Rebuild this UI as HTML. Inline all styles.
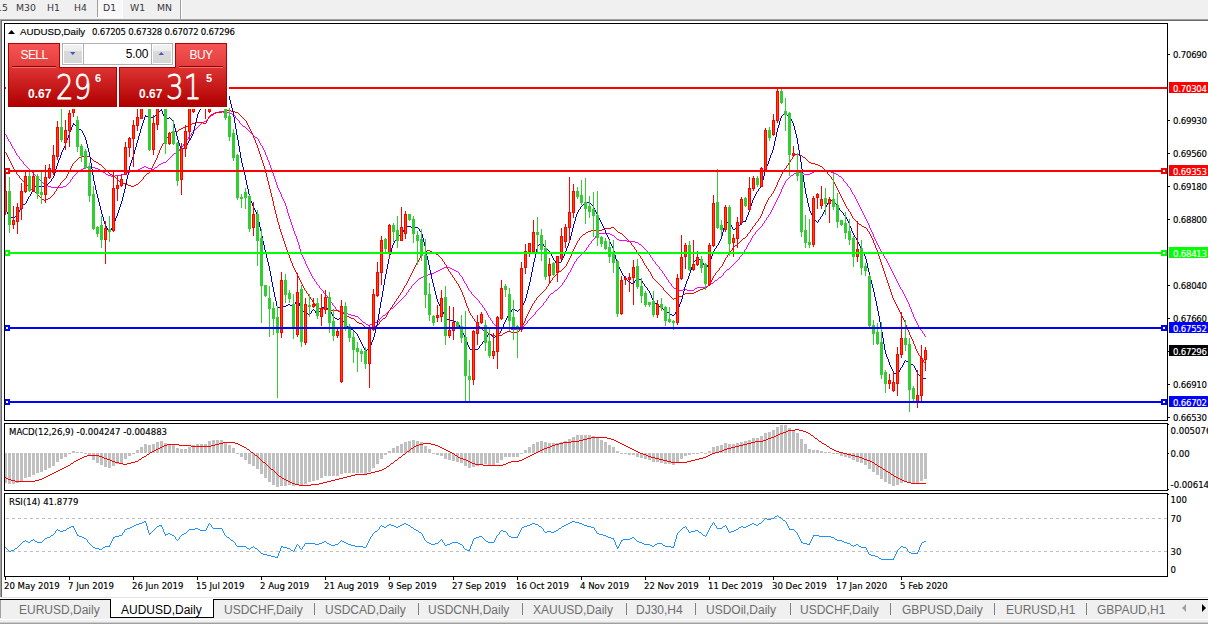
<!DOCTYPE html>
<html><head><meta charset="utf-8"><title>AUDUSD,Daily</title>
<style>
html,body{margin:0;padding:0;}
body{width:1208px;height:624px;overflow:hidden;position:relative;background:#f0f0f0;font-family:"DejaVu Sans Condensed","Liberation Sans",sans-serif;}
.abs{position:absolute;}
#tb span{position:absolute;top:2px;font-size:9.3px;line-height:12px;color:#383838;font-family:"DejaVu Sans","Liberation Sans",sans-serif;white-space:nowrap;}
svg text{font-family:"DejaVu Sans Condensed","Liberation Sans",sans-serif;font-size:9.5px;stroke:#000;stroke-width:0.15px;}
svg text.n{letter-spacing:-0.22px;}
svg text.lib{font-family:"Liberation Sans",sans-serif;font-size:9.7px;letter-spacing:0;}
#panel{position:absolute;left:0;top:0;}
.btn.big{font-family:"DejaVu Sans",sans-serif;font-weight:200;font-size:33px;line-height:34px;transform:scaleX(0.84);transform-origin:0 0;-webkit-text-stroke:0.8px #fff;}
.btn.sb{font-size:12px;line-height:14px;text-align:center;letter-spacing:-0.6px;}
.btn{position:absolute;color:#fff;font-family:"Liberation Sans",sans-serif;}
#tabs span{position:absolute;top:602px;font-size:12px;line-height:16px;color:#6e6e6e;font-family:"Liberation Sans",sans-serif;white-space:nowrap;}
</style></head>
<body>
<!-- toolbar -->
<div id="tb">
  <div class="abs" style="left:98px;top:0;width:24px;height:17px;background:#f8f8f8;"></div>
  <div class="abs" style="left:122px;top:0;width:1px;height:18px;background:#ffffff;"></div>
  <div class="abs" style="left:97px;top:17px;width:26px;height:1px;background:#ffffff;"></div>
  <div class="abs" style="left:97px;top:0;width:1px;height:17px;background:#a0a0a0;"></div>
  <div class="abs" style="left:180px;top:0;width:1px;height:19px;background:#a0a0a0;"></div>
  <div class="abs" style="left:181px;top:0;width:1px;height:19px;background:#ffffff;"></div>
  <span style="left:-12px">M15</span>
  <span style="left:16px">M30</span>
  <span style="left:47px">H1</span>
  <span style="left:74px">H4</span>
  <span style="left:103px">D1</span>
  <span style="left:130px">W1</span>
  <span style="left:157px">MN</span>
</div>
<!-- chart window -->
<div class="abs" style="left:0;top:19px;width:1208px;height:578px;background:#a0a0a0;"></div>
<div class="abs" style="left:1px;top:20px;width:1207px;height:577px;background:#696969;"></div>
<div class="abs" style="left:2px;top:21px;width:1206px;height:576px;background:#ffffff;"></div>
<div class="abs" style="left:0;top:597px;width:1208px;height:1px;background:#e3e3e3;"></div>
<div class="abs" style="left:0;top:598px;width:1208px;height:1px;background:#ffffff;"></div>

<svg class="abs" style="left:0;top:0" width="1208" height="624" viewBox="0 0 1208 624">
  <!-- main chart -->
  <g id="candles"><path d="M5 134h1v1h-1zM6 135h1v2h-1zM7 137h1v2h-1zM8 139h1v2h-1zM9 141h1v1h-1zM10 142h1v2h-1zM11 144h1v2h-1zM12 146h1v2h-1zM13 148h1v1h-1zM14 149h1v2h-1zM15 151h1v2h-1zM16 153h1v2h-1zM17 155h1v1h-1zM18 156h1v1h-1zM19 157h1v2h-1zM20 159h1v1h-1zM21 160h1v1h-1zM22 161h1v1h-1zM23 162h1v2h-1zM24 164h1v1h-1zM25 165h1v1h-1zM26 166h1v1h-1zM27 167h1v1h-1zM28 168h1v1h-1zM29 169h1v1h-1zM30 170h1v1h-1zM31 171h1v1h-1zM32 172h1v1h-1zM33 173h1v1h-1zM34 174h1v1h-1zM35 175h1v1h-1zM36 176h1v1h-1zM37 177h1v1h-1zM38 178h1v1h-1zM39 179h1v1h-1zM40 180h1v1h-1zM41 181h1v1h-1zM42 182h1v1h-1zM43 183h1v1h-1zM44 183h1v1h-1zM45 184h1v1h-1zM46 185h1v1h-1zM47 185h1v1h-1zM48 186h1v1h-1zM49 186h1v1h-1zM50 186h1v1h-1zM51 187h1v1h-1zM52 187h1v1h-1zM53 187h1v1h-1zM54 187h1v1h-1zM55 187h1v1h-1zM56 187h1v1h-1zM57 187h1v1h-1zM58 187h1v1h-1zM59 187h1v1h-1zM60 187h1v1h-1zM61 187h1v1h-1zM62 187h1v1h-1zM63 186h1v1h-1zM64 186h1v1h-1zM65 186h1v1h-1zM66 185h1v1h-1zM67 184h1v1h-1zM68 183h1v1h-1zM69 182h1v1h-1zM70 180h1v2h-1zM71 179h1v1h-1zM72 177h1v2h-1zM73 176h1v1h-1zM74 175h1v1h-1zM75 174h1v1h-1zM76 173h1v1h-1zM77 172h1v1h-1zM78 171h1v1h-1zM79 170h1v1h-1zM80 170h1v1h-1zM81 169h1v1h-1zM82 169h1v1h-1zM83 168h1v1h-1zM84 168h1v1h-1zM85 168h1v1h-1zM86 167h1v1h-1zM87 167h1v1h-1zM88 166h1v1h-1zM89 166h1v1h-1zM90 166h1v1h-1zM91 167h1v1h-1zM92 167h1v1h-1zM93 167h1v1h-1zM94 167h1v1h-1zM95 168h1v1h-1zM96 168h1v1h-1zM97 168h1v1h-1zM98 169h1v1h-1zM99 169h1v1h-1zM100 170h1v1h-1zM101 170h1v1h-1zM102 171h1v1h-1zM103 172h1v1h-1zM104 172h1v1h-1zM105 173h1v1h-1zM106 174h1v1h-1zM107 174h1v1h-1zM108 175h1v1h-1zM109 175h1v1h-1zM110 175h1v1h-1zM111 176h1v1h-1zM112 176h1v1h-1zM113 176h1v1h-1zM114 176h1v1h-1zM115 175h1v1h-1zM116 175h1v1h-1zM117 175h1v1h-1zM118 175h1v1h-1zM119 175h1v1h-1zM120 175h1v1h-1zM121 175h1v1h-1zM122 174h1v1h-1zM123 174h1v1h-1zM124 173h1v1h-1zM125 173h1v1h-1zM126 173h1v1h-1zM127 172h1v1h-1zM128 172h1v1h-1zM129 172h1v1h-1zM130 171h1v1h-1zM131 171h1v1h-1zM132 170h1v1h-1zM133 170h1v1h-1zM134 170h1v1h-1zM135 170h1v1h-1zM136 170h1v1h-1zM137 170h1v1h-1zM138 169h1v1h-1zM139 169h1v1h-1zM140 168h1v1h-1zM141 168h1v1h-1zM142 167h1v1h-1zM143 167h1v1h-1zM144 166h1v1h-1zM145 166h1v1h-1zM146 167h1v1h-1zM147 167h1v1h-1zM148 168h1v1h-1zM149 168h1v1h-1zM150 168h1v1h-1zM151 169h1v1h-1zM152 169h1v1h-1zM153 169h1v1h-1zM154 168h1v1h-1zM155 167h1v1h-1zM156 167h1v1h-1zM157 166h1v1h-1zM158 165h1v1h-1zM159 164h1v1h-1zM160 164h1v1h-1zM161 163h1v1h-1zM162 163h1v1h-1zM163 162h1v1h-1zM164 162h1v1h-1zM165 162h1v1h-1zM166 161h1v1h-1zM167 160h1v1h-1zM168 159h1v1h-1zM169 158h1v1h-1zM170 157h1v1h-1zM171 156h1v1h-1zM172 155h1v1h-1zM173 154h1v1h-1zM174 153h1v1h-1zM175 153h1v1h-1zM176 152h1v1h-1zM177 152h1v1h-1zM178 151h1v1h-1zM179 149h1v2h-1zM180 148h1v1h-1zM181 147h1v1h-1zM182 146h1v1h-1zM183 144h1v2h-1zM184 143h1v1h-1zM185 142h1v1h-1zM186 140h1v2h-1zM187 139h1v1h-1zM188 137h1v2h-1zM189 136h1v1h-1zM190 135h1v1h-1zM191 133h1v2h-1zM192 132h1v1h-1zM193 131h1v1h-1zM194 130h1v1h-1zM195 129h1v1h-1zM196 128h1v1h-1zM197 127h1v1h-1zM198 126h1v1h-1zM199 125h1v1h-1zM200 124h1v1h-1zM201 123h1v1h-1zM202 122h1v1h-1zM203 122h1v1h-1zM204 121h1v1h-1zM205 121h1v1h-1zM206 120h1v1h-1zM207 119h1v1h-1zM208 118h1v1h-1zM209 117h1v1h-1zM210 116h1v1h-1zM211 115h1v1h-1zM212 115h1v1h-1zM213 114h1v1h-1zM214 113h1v1h-1zM215 113h1v1h-1zM216 112h1v1h-1zM217 112h1v1h-1zM218 112h1v1h-1zM219 111h1v1h-1zM220 111h1v1h-1zM221 111h1v1h-1zM222 111h1v1h-1zM223 112h1v1h-1zM224 112h1v1h-1zM225 112h1v1h-1zM226 112h1v1h-1zM227 112h1v1h-1zM228 112h1v1h-1zM229 112h1v1h-1zM230 113h1v1h-1zM231 113h1v1h-1zM232 114h1v1h-1zM233 114h1v1h-1zM234 115h1v1h-1zM235 116h1v2h-1zM236 118h1v1h-1zM237 119h1v1h-1zM238 120h1v1h-1zM239 121h1v2h-1zM240 123h1v1h-1zM241 124h1v1h-1zM242 125h1v1h-1zM243 126h1v1h-1zM244 126h1v1h-1zM245 127h1v1h-1zM246 128h1v1h-1zM247 129h1v1h-1zM248 130h1v1h-1zM249 131h1v1h-1zM250 132h1v1h-1zM251 133h1v1h-1zM252 134h1v1h-1zM253 135h1v1h-1zM254 136h1v1h-1zM255 137h1v1h-1zM256 137h1v1h-1zM257 138h1v1h-1zM258 139h1v2h-1zM259 141h1v2h-1zM260 143h1v2h-1zM261 145h1v1h-1zM262 146h1v2h-1zM263 148h1v2h-1zM264 150h1v2h-1zM265 152h1v3h-1zM266 155h1v2h-1zM267 157h1v3h-1zM268 160h1v2h-1zM269 162h1v3h-1zM270 165h1v3h-1zM271 168h1v2h-1zM272 170h1v3h-1zM273 173h1v3h-1zM274 176h1v3h-1zM275 179h1v3h-1zM276 182h1v3h-1zM277 185h1v3h-1zM278 188h1v2h-1zM279 190h1v2h-1zM280 192h1v2h-1zM281 194h1v3h-1zM282 197h1v2h-1zM283 199h1v2h-1zM284 201h1v2h-1zM285 203h1v3h-1zM286 206h1v3h-1zM287 209h1v4h-1zM288 213h1v3h-1zM289 216h1v3h-1zM290 219h1v3h-1zM291 222h1v3h-1zM292 225h1v3h-1zM293 228h1v3h-1zM294 231h1v3h-1zM295 234h1v2h-1zM296 236h1v3h-1zM297 239h1v3h-1zM298 242h1v3h-1zM299 245h1v4h-1zM300 249h1v3h-1zM301 252h1v3h-1zM302 255h1v2h-1zM303 257h1v2h-1zM304 259h1v2h-1zM305 261h1v3h-1zM306 264h1v2h-1zM307 266h1v2h-1zM308 268h1v2h-1zM309 270h1v2h-1zM310 272h1v2h-1zM311 274h1v2h-1zM312 276h1v2h-1zM313 278h1v1h-1zM314 279h1v2h-1zM315 281h1v1h-1zM316 282h1v2h-1zM317 284h1v1h-1zM318 285h1v1h-1zM319 286h1v2h-1zM320 288h1v1h-1zM321 289h1v1h-1zM322 290h1v1h-1zM323 291h1v2h-1zM324 293h1v1h-1zM325 294h1v1h-1zM326 295h1v1h-1zM327 296h1v2h-1zM328 298h1v1h-1zM329 299h1v1h-1zM330 300h1v2h-1zM331 302h1v1h-1zM332 303h1v2h-1zM333 305h1v1h-1zM334 306h1v1h-1zM335 307h1v2h-1zM336 309h1v1h-1zM337 310h1v1h-1zM338 310h1v1h-1zM339 311h1v1h-1zM340 311h1v1h-1zM341 311h1v1h-1zM342 311h1v1h-1zM343 312h1v1h-1zM344 312h1v1h-1zM345 312h1v1h-1zM346 313h1v1h-1zM347 313h1v1h-1zM348 314h1v1h-1zM349 314h1v1h-1zM350 314h1v1h-1zM351 315h1v1h-1zM352 315h1v1h-1zM353 315h1v1h-1zM354 315h1v1h-1zM355 316h1v1h-1zM356 316h1v1h-1zM357 316h1v1h-1zM358 317h1v1h-1zM359 318h1v1h-1zM360 319h1v1h-1zM361 320h1v1h-1zM362 321h1v1h-1zM363 322h1v1h-1zM364 322h1v1h-1zM365 323h1v1h-1zM366 324h1v1h-1zM367 324h1v1h-1zM368 325h1v1h-1zM369 325h1v1h-1zM370 324h1v1h-1zM371 324h1v1h-1zM372 323h1v1h-1zM373 323h1v1h-1zM374 323h1v1h-1zM375 322h1v1h-1zM376 322h1v1h-1zM377 322h1v1h-1zM378 321h1v1h-1zM379 319h1v2h-1zM380 318h1v1h-1zM381 317h1v1h-1zM382 316h1v1h-1zM383 315h1v1h-1zM384 315h1v1h-1zM385 314h1v1h-1zM386 313h1v1h-1zM387 312h1v1h-1zM388 311h1v1h-1zM389 310h1v1h-1zM390 309h1v1h-1zM391 308h1v1h-1zM392 308h1v1h-1zM393 307h1v1h-1zM394 306h1v1h-1zM395 305h1v1h-1zM396 304h1v1h-1zM397 303h1v1h-1zM398 302h1v1h-1zM399 301h1v1h-1zM400 300h1v1h-1zM401 299h1v1h-1zM402 298h1v1h-1zM403 297h1v1h-1zM404 296h1v1h-1zM405 295h1v1h-1zM406 293h1v2h-1zM407 292h1v1h-1zM408 290h1v2h-1zM409 289h1v1h-1zM410 288h1v1h-1zM411 286h1v2h-1zM412 285h1v1h-1zM413 284h1v1h-1zM414 283h1v1h-1zM415 282h1v1h-1zM416 281h1v1h-1zM417 280h1v1h-1zM418 279h1v1h-1zM419 278h1v1h-1zM420 278h1v1h-1zM421 277h1v1h-1zM422 277h1v1h-1zM423 276h1v1h-1zM424 276h1v1h-1zM425 276h1v1h-1zM426 275h1v1h-1zM427 275h1v1h-1zM428 274h1v1h-1zM429 274h1v1h-1zM430 274h1v1h-1zM431 273h1v1h-1zM432 273h1v1h-1zM433 273h1v1h-1zM434 272h1v1h-1zM435 272h1v1h-1zM436 271h1v1h-1zM437 271h1v1h-1zM438 270h1v1h-1zM439 270h1v1h-1zM440 269h1v1h-1zM441 269h1v1h-1zM442 268h1v1h-1zM443 268h1v1h-1zM444 267h1v1h-1zM445 267h1v1h-1zM446 267h1v1h-1zM447 267h1v1h-1zM448 267h1v1h-1zM449 267h1v1h-1zM450 268h1v1h-1zM451 268h1v1h-1zM452 269h1v1h-1zM453 269h1v1h-1zM454 270h1v1h-1zM455 270h1v1h-1zM456 271h1v1h-1zM457 271h1v1h-1zM458 272h1v1h-1zM459 273h1v2h-1zM460 275h1v1h-1zM461 276h1v1h-1zM462 277h1v2h-1zM463 279h1v2h-1zM464 281h1v2h-1zM465 283h1v1h-1zM466 284h1v2h-1zM467 286h1v2h-1zM468 288h1v2h-1zM469 290h1v1h-1zM470 291h1v1h-1zM471 292h1v2h-1zM472 294h1v1h-1zM473 295h1v1h-1zM474 296h1v1h-1zM475 297h1v1h-1zM476 298h1v1h-1zM477 299h1v1h-1zM478 300h1v1h-1zM479 301h1v2h-1zM480 303h1v1h-1zM481 304h1v1h-1zM482 305h1v2h-1zM483 307h1v1h-1zM484 308h1v2h-1zM485 310h1v1h-1zM486 311h1v2h-1zM487 313h1v2h-1zM488 315h1v2h-1zM489 317h1v1h-1zM490 318h1v2h-1zM491 320h1v1h-1zM492 321h1v2h-1zM493 323h1v1h-1zM494 324h1v1h-1zM495 325h1v1h-1zM496 326h1v1h-1zM497 327h1v1h-1zM498 327h1v1h-1zM499 328h1v1h-1zM500 328h1v1h-1zM501 328h1v1h-1zM502 328h1v1h-1zM503 328h1v1h-1zM504 328h1v1h-1zM505 328h1v1h-1zM506 328h1v1h-1zM507 328h1v1h-1zM508 328h1v1h-1zM509 328h1v1h-1zM510 328h1v1h-1zM511 329h1v1h-1zM512 329h1v1h-1zM513 329h1v1h-1zM514 329h1v1h-1zM515 329h1v1h-1zM516 329h1v1h-1zM517 329h1v1h-1zM518 329h1v1h-1zM519 328h1v1h-1zM520 328h1v1h-1zM521 328h1v1h-1zM522 327h1v1h-1zM523 326h1v1h-1zM524 325h1v1h-1zM525 324h1v1h-1zM526 323h1v1h-1zM527 321h1v2h-1zM528 320h1v1h-1zM529 319h1v1h-1zM530 318h1v1h-1zM531 317h1v1h-1zM532 316h1v1h-1zM533 315h1v1h-1zM534 314h1v1h-1zM535 312h1v2h-1zM536 311h1v1h-1zM537 310h1v1h-1zM538 309h1v1h-1zM539 308h1v1h-1zM540 307h1v1h-1zM541 306h1v1h-1zM542 305h1v1h-1zM543 303h1v2h-1zM544 302h1v1h-1zM545 301h1v1h-1zM546 299h1v2h-1zM547 298h1v1h-1zM548 296h1v2h-1zM549 295h1v1h-1zM550 294h1v1h-1zM551 293h1v1h-1zM552 293h1v1h-1zM553 292h1v1h-1zM554 291h1v1h-1zM555 290h1v1h-1zM556 290h1v1h-1zM557 289h1v1h-1zM558 288h1v1h-1zM559 287h1v1h-1zM560 286h1v1h-1zM561 285h1v1h-1zM562 283h1v2h-1zM563 282h1v1h-1zM564 280h1v2h-1zM565 279h1v1h-1zM566 277h1v2h-1zM567 275h1v2h-1zM568 273h1v2h-1zM569 272h1v1h-1zM570 270h1v2h-1zM571 268h1v2h-1zM572 266h1v2h-1zM573 264h1v2h-1zM574 262h1v2h-1zM575 261h1v1h-1zM576 259h1v2h-1zM577 258h1v1h-1zM578 257h1v1h-1zM579 256h1v1h-1zM580 255h1v1h-1zM581 254h1v1h-1zM582 253h1v1h-1zM583 252h1v1h-1zM584 251h1v1h-1zM585 250h1v1h-1zM586 248h1v2h-1zM587 247h1v1h-1zM588 245h1v2h-1zM589 244h1v1h-1zM590 243h1v1h-1zM591 241h1v2h-1zM592 240h1v1h-1zM593 239h1v1h-1zM594 238h1v1h-1zM595 236h1v2h-1zM596 235h1v1h-1zM597 234h1v1h-1zM598 234h1v1h-1zM599 233h1v1h-1zM600 233h1v1h-1zM601 233h1v1h-1zM602 233h1v1h-1zM603 233h1v1h-1zM604 233h1v1h-1zM605 233h1v1h-1zM606 233h1v1h-1zM607 233h1v1h-1zM608 233h1v1h-1zM609 233h1v1h-1zM610 234h1v1h-1zM611 234h1v1h-1zM612 235h1v1h-1zM613 235h1v1h-1zM614 236h1v1h-1zM615 237h1v1h-1zM616 238h1v1h-1zM617 239h1v1h-1zM618 239h1v1h-1zM619 240h1v1h-1zM620 240h1v1h-1zM621 240h1v1h-1zM622 240h1v1h-1zM623 240h1v1h-1zM624 240h1v1h-1zM625 240h1v1h-1zM626 240h1v1h-1zM627 241h1v1h-1zM628 241h1v1h-1zM629 241h1v1h-1zM630 241h1v1h-1zM631 241h1v1h-1zM632 241h1v1h-1zM633 241h1v1h-1zM634 241h1v1h-1zM635 242h1v1h-1zM636 242h1v1h-1zM637 242h1v1h-1zM638 243h1v1h-1zM639 244h1v1h-1zM640 244h1v1h-1zM641 245h1v1h-1zM642 246h1v1h-1zM643 247h1v1h-1zM644 248h1v1h-1zM645 249h1v1h-1zM646 250h1v1h-1zM647 251h1v2h-1zM648 253h1v1h-1zM649 254h1v1h-1zM650 255h1v2h-1zM651 257h1v1h-1zM652 258h1v2h-1zM653 260h1v1h-1zM654 261h1v1h-1zM655 262h1v2h-1zM656 264h1v1h-1zM657 265h1v1h-1zM658 266h1v1h-1zM659 267h1v2h-1zM660 269h1v1h-1zM661 270h1v1h-1zM662 271h1v2h-1zM663 273h1v1h-1zM664 274h1v2h-1zM665 276h1v1h-1zM666 277h1v2h-1zM667 279h1v1h-1zM668 280h1v2h-1zM669 282h1v1h-1zM670 283h1v1h-1zM671 284h1v2h-1zM672 286h1v1h-1zM673 287h1v1h-1zM674 288h1v1h-1zM675 288h1v1h-1zM676 289h1v1h-1zM677 289h1v1h-1zM678 289h1v1h-1zM679 290h1v1h-1zM680 290h1v1h-1zM681 290h1v1h-1zM682 290h1v1h-1zM683 289h1v1h-1zM684 289h1v1h-1zM685 289h1v1h-1zM686 289h1v1h-1zM687 290h1v1h-1zM688 290h1v1h-1zM689 290h1v1h-1zM690 290h1v1h-1zM691 290h1v1h-1zM692 290h1v1h-1zM693 290h1v1h-1zM694 289h1v1h-1zM695 288h1v1h-1zM696 288h1v1h-1zM697 287h1v1h-1zM698 287h1v1h-1zM699 287h1v1h-1zM700 287h1v1h-1zM701 287h1v1h-1zM702 287h1v1h-1zM703 287h1v1h-1zM704 287h1v1h-1zM705 287h1v1h-1zM706 286h1v1h-1zM707 286h1v1h-1zM708 285h1v1h-1zM709 285h1v1h-1zM710 284h1v1h-1zM711 283h1v1h-1zM712 283h1v1h-1zM713 282h1v1h-1zM714 281h1v1h-1zM715 280h1v1h-1zM716 280h1v1h-1zM717 279h1v1h-1zM718 278h1v1h-1zM719 277h1v1h-1zM720 277h1v1h-1zM721 276h1v1h-1zM722 275h1v1h-1zM723 273h1v2h-1zM724 272h1v1h-1zM725 271h1v1h-1zM726 270h1v1h-1zM727 269h1v1h-1zM728 269h1v1h-1zM729 268h1v1h-1zM730 267h1v1h-1zM731 266h1v1h-1zM732 265h1v1h-1zM733 264h1v1h-1zM734 263h1v1h-1zM735 262h1v1h-1zM736 261h1v1h-1zM737 260h1v1h-1zM738 259h1v1h-1zM739 257h1v2h-1zM740 256h1v1h-1zM741 255h1v1h-1zM742 253h1v2h-1zM743 252h1v1h-1zM744 250h1v2h-1zM745 249h1v1h-1zM746 247h1v2h-1zM747 245h1v2h-1zM748 243h1v2h-1zM749 242h1v1h-1zM750 240h1v2h-1zM751 238h1v2h-1zM752 236h1v2h-1zM753 235h1v1h-1zM754 234h1v1h-1zM755 232h1v2h-1zM756 231h1v1h-1zM757 230h1v1h-1zM758 229h1v1h-1zM759 228h1v1h-1zM760 227h1v1h-1zM761 226h1v1h-1zM762 224h1v2h-1zM763 223h1v1h-1zM764 221h1v2h-1zM765 220h1v1h-1zM766 218h1v2h-1zM767 217h1v1h-1zM768 215h1v2h-1zM769 214h1v1h-1zM770 212h1v2h-1zM771 210h1v2h-1zM772 208h1v2h-1zM773 206h1v2h-1zM774 204h1v2h-1zM775 202h1v2h-1zM776 200h1v2h-1zM777 198h1v2h-1zM778 196h1v2h-1zM779 194h1v2h-1zM780 192h1v2h-1zM781 189h1v3h-1zM782 187h1v2h-1zM783 185h1v2h-1zM784 183h1v2h-1zM785 181h1v2h-1zM786 180h1v1h-1zM787 179h1v1h-1zM788 178h1v1h-1zM789 177h1v1h-1zM790 176h1v1h-1zM791 175h1v1h-1zM792 175h1v1h-1zM793 174h1v1h-1zM794 173h1v1h-1zM795 173h1v1h-1zM796 172h1v1h-1zM797 172h1v1h-1zM798 172h1v1h-1zM799 172h1v1h-1zM800 172h1v1h-1zM801 172h1v1h-1zM802 173h1v1h-1zM803 173h1v1h-1zM804 174h1v1h-1zM805 174h1v1h-1zM806 174h1v1h-1zM807 174h1v1h-1zM808 174h1v1h-1zM809 174h1v1h-1zM810 173h1v1h-1zM811 173h1v1h-1zM812 172h1v1h-1zM813 172h1v1h-1zM814 171h1v1h-1zM815 171h1v1h-1zM816 170h1v1h-1zM817 170h1v1h-1zM818 170h1v1h-1zM819 170h1v1h-1zM820 170h1v1h-1zM821 170h1v1h-1zM822 170h1v1h-1zM823 170h1v1h-1zM824 170h1v1h-1zM825 170h1v1h-1zM826 170h1v1h-1zM827 171h1v1h-1zM828 171h1v1h-1zM829 171h1v1h-1zM830 171h1v1h-1zM831 172h1v1h-1zM832 172h1v1h-1zM833 172h1v1h-1zM834 173h1v1h-1zM835 173h1v1h-1zM836 174h1v1h-1zM837 174h1v1h-1zM838 175h1v1h-1zM839 176h1v1h-1zM840 176h1v1h-1zM841 177h1v1h-1zM842 178h1v1h-1zM843 179h1v2h-1zM844 181h1v1h-1zM845 182h1v1h-1zM846 183h1v1h-1zM847 184h1v2h-1zM848 186h1v1h-1zM849 187h1v1h-1zM850 188h1v2h-1zM851 190h1v2h-1zM852 192h1v2h-1zM853 194h1v1h-1zM854 195h1v2h-1zM855 197h1v2h-1zM856 199h1v2h-1zM857 201h1v2h-1zM858 203h1v2h-1zM859 205h1v2h-1zM860 207h1v2h-1zM861 209h1v2h-1zM862 211h1v2h-1zM863 213h1v2h-1zM864 215h1v2h-1zM865 217h1v2h-1zM866 219h1v2h-1zM867 221h1v2h-1zM868 223h1v2h-1zM869 225h1v3h-1zM870 228h1v2h-1zM871 230h1v2h-1zM872 232h1v2h-1zM873 234h1v3h-1zM874 237h1v2h-1zM875 239h1v2h-1zM876 241h1v2h-1zM877 243h1v2h-1zM878 245h1v2h-1zM879 247h1v2h-1zM880 249h1v2h-1zM881 251h1v1h-1zM882 252h1v2h-1zM883 254h1v2h-1zM884 256h1v2h-1zM885 258h1v1h-1zM886 259h1v2h-1zM887 261h1v2h-1zM888 263h1v2h-1zM889 265h1v2h-1zM890 267h1v2h-1zM891 269h1v2h-1zM892 271h1v2h-1zM893 273h1v2h-1zM894 275h1v2h-1zM895 277h1v2h-1zM896 279h1v2h-1zM897 281h1v2h-1zM898 283h1v2h-1zM899 285h1v2h-1zM900 287h1v2h-1zM901 289h1v1h-1zM902 290h1v2h-1zM903 292h1v2h-1zM904 294h1v2h-1zM905 296h1v2h-1zM906 298h1v2h-1zM907 300h1v2h-1zM908 302h1v2h-1zM909 304h1v3h-1zM910 307h1v2h-1zM911 309h1v3h-1zM912 312h1v2h-1zM913 314h1v3h-1zM914 317h1v2h-1zM915 319h1v2h-1zM916 321h1v2h-1zM917 323h1v2h-1zM918 325h1v2h-1zM919 327h1v1h-1zM920 328h1v2h-1zM921 330h1v1h-1zM922 331h1v2h-1zM923 333h1v1h-1zM924 334h1v2h-1zM925 336h1v1h-1z" fill="#ff00ff"/>
<path d="M5 152h1v1h-1zM6 153h1v2h-1zM7 155h1v2h-1zM8 157h1v2h-1zM9 159h1v2h-1zM10 161h1v2h-1zM11 163h1v2h-1zM12 165h1v2h-1zM13 167h1v2h-1zM14 169h1v2h-1zM15 171h1v1h-1zM16 172h1v2h-1zM17 174h1v1h-1zM18 175h1v1h-1zM19 176h1v2h-1zM20 178h1v1h-1zM21 179h1v1h-1zM22 180h1v1h-1zM23 181h1v1h-1zM24 182h1v1h-1zM25 183h1v1h-1zM26 184h1v1h-1zM27 185h1v1h-1zM28 186h1v1h-1zM29 187h1v1h-1zM30 188h1v1h-1zM31 189h1v1h-1zM32 189h1v1h-1zM33 190h1v1h-1zM34 191h1v1h-1zM35 192h1v1h-1zM36 193h1v1h-1zM37 194h1v1h-1zM38 195h1v1h-1zM39 196h1v1h-1zM40 197h1v1h-1zM41 198h1v1h-1zM42 199h1v1h-1zM43 199h1v1h-1zM44 200h1v1h-1zM45 200h1v1h-1zM46 199h1v1h-1zM47 199h1v1h-1zM48 198h1v1h-1zM49 198h1v1h-1zM50 197h1v1h-1zM51 196h1v1h-1zM52 195h1v1h-1zM53 194h1v1h-1zM54 192h1v2h-1zM55 191h1v1h-1zM56 189h1v2h-1zM57 188h1v1h-1zM58 186h1v2h-1zM59 185h1v1h-1zM60 183h1v2h-1zM61 182h1v1h-1zM62 181h1v1h-1zM63 180h1v1h-1zM64 179h1v1h-1zM65 178h1v1h-1zM66 176h1v2h-1zM67 174h1v2h-1zM68 172h1v2h-1zM69 170h1v2h-1zM70 168h1v2h-1zM71 166h1v2h-1zM72 164h1v2h-1zM73 163h1v1h-1zM74 162h1v1h-1zM75 161h1v1h-1zM76 160h1v1h-1zM77 159h1v1h-1zM78 158h1v1h-1zM79 157h1v1h-1zM80 157h1v1h-1zM81 156h1v1h-1zM82 156h1v1h-1zM83 156h1v1h-1zM84 156h1v1h-1zM85 156h1v1h-1zM86 156h1v1h-1zM87 156h1v1h-1zM88 156h1v1h-1zM89 156h1v1h-1zM90 157h1v1h-1zM91 158h1v1h-1zM92 159h1v1h-1zM93 160h1v1h-1zM94 161h1v1h-1zM95 161h1v1h-1zM96 162h1v1h-1zM97 162h1v1h-1zM98 163h1v1h-1zM99 164h1v1h-1zM100 164h1v1h-1zM101 165h1v1h-1zM102 166h1v1h-1zM103 167h1v1h-1zM104 168h1v1h-1zM105 169h1v1h-1zM106 170h1v1h-1zM107 171h1v1h-1zM108 172h1v1h-1zM109 173h1v1h-1zM110 174h1v1h-1zM111 174h1v1h-1zM112 175h1v1h-1zM113 175h1v1h-1zM114 176h1v1h-1zM115 177h1v1h-1zM116 178h1v1h-1zM117 179h1v1h-1zM118 180h1v1h-1zM119 181h1v1h-1zM120 181h1v1h-1zM121 182h1v1h-1zM122 182h1v1h-1zM123 183h1v1h-1zM124 183h1v1h-1zM125 183h1v1h-1zM126 184h1v1h-1zM127 184h1v1h-1zM128 185h1v1h-1zM129 185h1v1h-1zM130 185h1v1h-1zM131 186h1v1h-1zM132 186h1v1h-1zM133 186h1v1h-1zM134 185h1v1h-1zM135 185h1v1h-1zM136 184h1v1h-1zM137 184h1v1h-1zM138 183h1v1h-1zM139 182h1v1h-1zM140 181h1v1h-1zM141 180h1v1h-1zM142 179h1v1h-1zM143 177h1v2h-1zM144 176h1v1h-1zM145 175h1v1h-1zM146 174h1v1h-1zM147 173h1v1h-1zM148 173h1v1h-1zM149 172h1v1h-1zM150 170h1v2h-1zM151 168h1v2h-1zM152 166h1v2h-1zM153 164h1v2h-1zM154 162h1v2h-1zM155 160h1v2h-1zM156 158h1v2h-1zM157 155h1v3h-1zM158 153h1v2h-1zM159 150h1v3h-1zM160 148h1v2h-1zM161 146h1v2h-1zM162 144h1v2h-1zM163 143h1v1h-1zM164 141h1v2h-1zM165 140h1v1h-1zM166 138h1v2h-1zM167 137h1v1h-1zM168 135h1v2h-1zM169 134h1v1h-1zM170 133h1v1h-1zM171 132h1v1h-1zM172 132h1v1h-1zM173 131h1v1h-1zM174 131h1v1h-1zM175 131h1v1h-1zM176 131h1v1h-1zM177 131h1v1h-1zM178 130h1v1h-1zM179 129h1v1h-1zM180 129h1v1h-1zM181 128h1v1h-1zM182 128h1v1h-1zM183 127h1v1h-1zM184 127h1v1h-1zM185 127h1v1h-1zM186 126h1v1h-1zM187 126h1v1h-1zM188 125h1v1h-1zM189 125h1v1h-1zM190 124h1v1h-1zM191 124h1v1h-1zM192 123h1v1h-1zM193 123h1v1h-1zM194 123h1v1h-1zM195 122h1v1h-1zM196 122h1v1h-1zM197 122h1v1h-1zM198 122h1v1h-1zM199 122h1v1h-1zM200 122h1v1h-1zM201 122h1v1h-1zM202 122h1v1h-1zM203 123h1v1h-1zM204 123h1v1h-1zM205 123h1v1h-1zM206 121h1v2h-1zM207 119h1v2h-1zM208 117h1v2h-1zM209 116h1v1h-1zM210 115h1v1h-1zM211 114h1v1h-1zM212 114h1v1h-1zM213 113h1v1h-1zM214 113h1v1h-1zM215 112h1v1h-1zM216 112h1v1h-1zM217 112h1v1h-1zM218 112h1v1h-1zM219 112h1v1h-1zM220 112h1v1h-1zM221 112h1v1h-1zM222 111h1v1h-1zM223 111h1v1h-1zM224 110h1v1h-1zM225 110h1v1h-1zM226 110h1v1h-1zM227 110h1v1h-1zM228 110h1v1h-1zM229 110h1v1h-1zM230 110h1v1h-1zM231 111h1v1h-1zM232 111h1v1h-1zM233 111h1v1h-1zM234 111h1v1h-1zM235 112h1v1h-1zM236 112h1v1h-1zM237 112h1v1h-1zM238 113h1v1h-1zM239 114h1v1h-1zM240 115h1v1h-1zM241 116h1v1h-1zM242 117h1v1h-1zM243 118h1v1h-1zM244 119h1v1h-1zM245 120h1v1h-1zM246 121h1v2h-1zM247 123h1v2h-1zM248 125h1v2h-1zM249 127h1v2h-1zM250 129h1v2h-1zM251 131h1v2h-1zM252 133h1v2h-1zM253 135h1v3h-1zM254 138h1v2h-1zM255 140h1v3h-1zM256 143h1v2h-1zM257 145h1v3h-1zM258 148h1v3h-1zM259 151h1v3h-1zM260 154h1v3h-1zM261 157h1v3h-1zM262 160h1v3h-1zM263 163h1v3h-1zM264 166h1v3h-1zM265 169h1v4h-1zM266 173h1v4h-1zM267 177h1v4h-1zM268 181h1v4h-1zM269 185h1v4h-1zM270 189h1v4h-1zM271 193h1v4h-1zM272 197h1v4h-1zM273 201h1v5h-1zM274 206h1v4h-1zM275 210h1v4h-1zM276 214h1v4h-1zM277 218h1v4h-1zM278 222h1v3h-1zM279 225h1v4h-1zM280 229h1v3h-1zM281 232h1v3h-1zM282 235h1v3h-1zM283 238h1v3h-1zM284 241h1v3h-1zM285 244h1v3h-1zM286 247h1v3h-1zM287 250h1v2h-1zM288 252h1v3h-1zM289 255h1v3h-1zM290 258h1v3h-1zM291 261h1v2h-1zM292 263h1v3h-1zM293 266h1v2h-1zM294 268h1v2h-1zM295 270h1v2h-1zM296 272h1v2h-1zM297 274h1v2h-1zM298 276h1v2h-1zM299 278h1v2h-1zM300 280h1v2h-1zM301 282h1v2h-1zM302 284h1v2h-1zM303 286h1v2h-1zM304 288h1v2h-1zM305 290h1v1h-1zM306 291h1v2h-1zM307 293h1v1h-1zM308 294h1v2h-1zM309 296h1v1h-1zM310 297h1v2h-1zM311 299h1v1h-1zM312 300h1v2h-1zM313 302h1v1h-1zM314 303h1v1h-1zM315 304h1v2h-1zM316 306h1v1h-1zM317 307h1v1h-1zM318 307h1v1h-1zM319 308h1v1h-1zM320 308h1v1h-1zM321 308h1v1h-1zM322 308h1v1h-1zM323 308h1v1h-1zM324 308h1v1h-1zM325 308h1v1h-1zM326 308h1v1h-1zM327 309h1v1h-1zM328 309h1v1h-1zM329 309h1v1h-1zM330 309h1v1h-1zM331 310h1v1h-1zM332 310h1v1h-1zM333 310h1v1h-1zM334 310h1v1h-1zM335 310h1v1h-1zM336 310h1v1h-1zM337 310h1v1h-1zM338 311h1v1h-1zM339 311h1v1h-1zM340 312h1v1h-1zM341 312h1v1h-1zM342 313h1v1h-1zM343 313h1v1h-1zM344 314h1v1h-1zM345 314h1v1h-1zM346 315h1v1h-1zM347 316h1v1h-1zM348 316h1v1h-1zM349 317h1v1h-1zM350 317h1v1h-1zM351 318h1v1h-1zM352 318h1v1h-1zM353 318h1v1h-1zM354 319h1v1h-1zM355 320h1v1h-1zM356 321h1v1h-1zM357 322h1v1h-1zM358 322h1v1h-1zM359 323h1v1h-1zM360 323h1v1h-1zM361 323h1v1h-1zM362 324h1v1h-1zM363 325h1v1h-1zM364 326h1v1h-1zM365 327h1v1h-1zM366 327h1v1h-1zM367 328h1v1h-1zM368 328h1v1h-1zM369 328h1v1h-1zM370 328h1v1h-1zM371 328h1v1h-1zM372 328h1v1h-1zM373 328h1v1h-1zM374 327h1v1h-1zM375 326h1v1h-1zM376 326h1v1h-1zM377 325h1v1h-1zM378 324h1v1h-1zM379 322h1v2h-1zM380 321h1v1h-1zM381 320h1v1h-1zM382 319h1v1h-1zM383 318h1v1h-1zM384 318h1v1h-1zM385 317h1v1h-1zM386 315h1v2h-1zM387 313h1v2h-1zM388 311h1v2h-1zM389 310h1v1h-1zM390 308h1v2h-1zM391 307h1v1h-1zM392 305h1v2h-1zM393 304h1v1h-1zM394 302h1v2h-1zM395 301h1v1h-1zM396 299h1v2h-1zM397 298h1v1h-1zM398 296h1v2h-1zM399 295h1v1h-1zM400 293h1v2h-1zM401 292h1v1h-1zM402 290h1v2h-1zM403 288h1v2h-1zM404 286h1v2h-1zM405 285h1v1h-1zM406 283h1v2h-1zM407 281h1v2h-1zM408 279h1v2h-1zM409 277h1v2h-1zM410 275h1v2h-1zM411 273h1v2h-1zM412 271h1v2h-1zM413 269h1v2h-1zM414 267h1v2h-1zM415 265h1v2h-1zM416 263h1v2h-1zM417 262h1v1h-1zM418 260h1v2h-1zM419 258h1v2h-1zM420 256h1v2h-1zM421 255h1v1h-1zM422 254h1v1h-1zM423 253h1v1h-1zM424 252h1v1h-1zM425 251h1v1h-1zM426 251h1v1h-1zM427 250h1v1h-1zM428 250h1v1h-1zM429 250h1v1h-1zM430 251h1v1h-1zM431 251h1v1h-1zM432 252h1v1h-1zM433 252h1v1h-1zM434 253h1v1h-1zM435 253h1v1h-1zM436 254h1v1h-1zM437 254h1v1h-1zM438 255h1v1h-1zM439 256h1v1h-1zM440 257h1v1h-1zM441 258h1v1h-1zM442 259h1v2h-1zM443 261h1v1h-1zM444 262h1v2h-1zM445 264h1v1h-1zM446 265h1v2h-1zM447 267h1v2h-1zM448 269h1v2h-1zM449 271h1v1h-1zM450 272h1v2h-1zM451 274h1v1h-1zM452 275h1v2h-1zM453 277h1v1h-1zM454 278h1v2h-1zM455 280h1v1h-1zM456 281h1v2h-1zM457 283h1v1h-1zM458 284h1v2h-1zM459 286h1v2h-1zM460 288h1v2h-1zM461 290h1v2h-1zM462 292h1v3h-1zM463 295h1v2h-1zM464 297h1v3h-1zM465 300h1v3h-1zM466 303h1v3h-1zM467 306h1v2h-1zM468 308h1v3h-1zM469 311h1v2h-1zM470 313h1v2h-1zM471 315h1v1h-1zM472 316h1v2h-1zM473 318h1v1h-1zM474 319h1v2h-1zM475 321h1v1h-1zM476 322h1v2h-1zM477 324h1v1h-1zM478 325h1v1h-1zM479 326h1v1h-1zM480 327h1v1h-1zM481 328h1v1h-1zM482 329h1v1h-1zM483 330h1v1h-1zM484 330h1v1h-1zM485 331h1v1h-1zM486 332h1v1h-1zM487 332h1v1h-1zM488 333h1v1h-1zM489 333h1v1h-1zM490 334h1v1h-1zM491 334h1v1h-1zM492 335h1v1h-1zM493 335h1v1h-1zM494 335h1v1h-1zM495 336h1v1h-1zM496 336h1v1h-1zM497 336h1v1h-1zM498 336h1v1h-1zM499 335h1v1h-1zM500 335h1v1h-1zM501 335h1v1h-1zM502 334h1v1h-1zM503 333h1v1h-1zM504 333h1v1h-1zM505 332h1v1h-1zM506 332h1v1h-1zM507 331h1v1h-1zM508 331h1v1h-1zM509 331h1v1h-1zM510 331h1v1h-1zM511 332h1v1h-1zM512 332h1v1h-1zM513 332h1v1h-1zM514 332h1v1h-1zM515 332h1v1h-1zM516 332h1v1h-1zM517 332h1v1h-1zM518 331h1v1h-1zM519 329h1v2h-1zM520 328h1v1h-1zM521 327h1v1h-1zM522 325h1v2h-1zM523 323h1v2h-1zM524 321h1v2h-1zM525 318h1v3h-1zM526 316h1v2h-1zM527 314h1v2h-1zM528 312h1v2h-1zM529 310h1v2h-1zM530 308h1v2h-1zM531 306h1v2h-1zM532 304h1v2h-1zM533 303h1v1h-1zM534 301h1v2h-1zM535 300h1v1h-1zM536 298h1v2h-1zM537 297h1v1h-1zM538 296h1v1h-1zM539 295h1v1h-1zM540 294h1v1h-1zM541 293h1v1h-1zM542 292h1v1h-1zM543 291h1v1h-1zM544 290h1v1h-1zM545 289h1v1h-1zM546 287h1v2h-1zM547 286h1v1h-1zM548 284h1v2h-1zM549 283h1v1h-1zM550 281h1v2h-1zM551 280h1v1h-1zM552 278h1v2h-1zM553 277h1v1h-1zM554 276h1v1h-1zM555 275h1v1h-1zM556 274h1v1h-1zM557 273h1v1h-1zM558 272h1v1h-1zM559 271h1v1h-1zM560 271h1v1h-1zM561 270h1v1h-1zM562 269h1v1h-1zM563 268h1v1h-1zM564 267h1v1h-1zM565 266h1v1h-1zM566 264h1v2h-1zM567 262h1v2h-1zM568 260h1v2h-1zM569 258h1v2h-1zM570 256h1v2h-1zM571 253h1v3h-1zM572 251h1v2h-1zM573 249h1v2h-1zM574 247h1v2h-1zM575 245h1v2h-1zM576 243h1v2h-1zM577 241h1v2h-1zM578 240h1v1h-1zM579 238h1v2h-1zM580 237h1v1h-1zM581 236h1v1h-1zM582 235h1v1h-1zM583 234h1v1h-1zM584 234h1v1h-1zM585 233h1v1h-1zM586 232h1v1h-1zM587 232h1v1h-1zM588 231h1v1h-1zM589 231h1v1h-1zM590 231h1v1h-1zM591 230h1v1h-1zM592 230h1v1h-1zM593 230h1v1h-1zM594 230h1v1h-1zM595 230h1v1h-1zM596 230h1v1h-1zM597 230h1v1h-1zM598 230h1v1h-1zM599 230h1v1h-1zM600 230h1v1h-1zM601 230h1v1h-1zM602 229h1v1h-1zM603 229h1v1h-1zM604 228h1v1h-1zM605 228h1v1h-1zM606 228h1v1h-1zM607 228h1v1h-1zM608 228h1v1h-1zM609 228h1v1h-1zM610 228h1v1h-1zM611 227h1v1h-1zM612 227h1v1h-1zM613 227h1v1h-1zM614 228h1v1h-1zM615 229h1v1h-1zM616 230h1v1h-1zM617 231h1v1h-1zM618 232h1v1h-1zM619 232h1v1h-1zM620 233h1v1h-1zM621 233h1v1h-1zM622 234h1v1h-1zM623 235h1v1h-1zM624 236h1v1h-1zM625 237h1v1h-1zM626 238h1v1h-1zM627 239h1v1h-1zM628 240h1v1h-1zM629 241h1v1h-1zM630 242h1v1h-1zM631 243h1v2h-1zM632 245h1v1h-1zM633 246h1v1h-1zM634 247h1v2h-1zM635 249h1v1h-1zM636 250h1v2h-1zM637 252h1v1h-1zM638 253h1v2h-1zM639 255h1v1h-1zM640 256h1v2h-1zM641 258h1v1h-1zM642 259h1v2h-1zM643 261h1v2h-1zM644 263h1v2h-1zM645 265h1v1h-1zM646 266h1v2h-1zM647 268h1v1h-1zM648 269h1v2h-1zM649 271h1v1h-1zM650 272h1v2h-1zM651 274h1v2h-1zM652 276h1v2h-1zM653 278h1v1h-1zM654 279h1v1h-1zM655 280h1v1h-1zM656 281h1v1h-1zM657 282h1v1h-1zM658 283h1v1h-1zM659 284h1v1h-1zM660 285h1v1h-1zM661 286h1v1h-1zM662 287h1v1h-1zM663 288h1v2h-1zM664 290h1v1h-1zM665 291h1v1h-1zM666 292h1v1h-1zM667 293h1v1h-1zM668 294h1v1h-1zM669 295h1v1h-1zM670 296h1v1h-1zM671 297h1v1h-1zM672 298h1v1h-1zM673 299h1v1h-1zM674 298h1v1h-1zM675 298h1v1h-1zM676 297h1v1h-1zM677 297h1v1h-1zM678 297h1v1h-1zM679 296h1v1h-1zM680 296h1v1h-1zM681 296h1v1h-1zM682 295h1v1h-1zM683 294h1v1h-1zM684 294h1v1h-1zM685 293h1v1h-1zM686 293h1v1h-1zM687 293h1v1h-1zM688 293h1v1h-1zM689 293h1v1h-1zM690 293h1v1h-1zM691 293h1v1h-1zM692 293h1v1h-1zM693 293h1v1h-1zM694 292h1v1h-1zM695 292h1v1h-1zM696 291h1v1h-1zM697 291h1v1h-1zM698 290h1v1h-1zM699 290h1v1h-1zM700 289h1v1h-1zM701 289h1v1h-1zM702 289h1v1h-1zM703 288h1v1h-1zM704 288h1v1h-1zM705 288h1v1h-1zM706 287h1v1h-1zM707 286h1v1h-1zM708 285h1v1h-1zM709 284h1v1h-1zM710 282h1v2h-1zM711 280h1v2h-1zM712 278h1v2h-1zM713 276h1v2h-1zM714 275h1v1h-1zM715 273h1v2h-1zM716 272h1v1h-1zM717 271h1v1h-1zM718 270h1v1h-1zM719 268h1v2h-1zM720 267h1v1h-1zM721 266h1v1h-1zM722 264h1v2h-1zM723 262h1v2h-1zM724 260h1v2h-1zM725 258h1v2h-1zM726 257h1v1h-1zM727 255h1v2h-1zM728 254h1v1h-1zM729 253h1v1h-1zM730 251h1v2h-1zM731 250h1v1h-1zM732 248h1v2h-1zM733 247h1v1h-1zM734 246h1v1h-1zM735 245h1v1h-1zM736 245h1v1h-1zM737 244h1v1h-1zM738 243h1v1h-1zM739 242h1v1h-1zM740 241h1v1h-1zM741 240h1v1h-1zM742 239h1v1h-1zM743 238h1v1h-1zM744 238h1v1h-1zM745 237h1v1h-1zM746 236h1v1h-1zM747 234h1v2h-1zM748 233h1v1h-1zM749 232h1v1h-1zM750 230h1v2h-1zM751 229h1v1h-1zM752 227h1v2h-1zM753 226h1v1h-1zM754 225h1v1h-1zM755 223h1v2h-1zM756 222h1v1h-1zM757 221h1v1h-1zM758 219h1v2h-1zM759 218h1v1h-1zM760 216h1v2h-1zM761 214h1v2h-1zM762 211h1v3h-1zM763 209h1v2h-1zM764 206h1v3h-1zM765 204h1v2h-1zM766 202h1v2h-1zM767 200h1v2h-1zM768 198h1v2h-1zM769 197h1v1h-1zM770 196h1v1h-1zM771 194h1v2h-1zM772 193h1v1h-1zM773 191h1v2h-1zM774 189h1v2h-1zM775 187h1v2h-1zM776 185h1v2h-1zM777 182h1v3h-1zM778 180h1v2h-1zM779 178h1v2h-1zM780 176h1v2h-1zM781 174h1v2h-1zM782 172h1v2h-1zM783 171h1v1h-1zM784 169h1v2h-1zM785 168h1v1h-1zM786 166h1v2h-1zM787 165h1v1h-1zM788 163h1v2h-1zM789 162h1v1h-1zM790 160h1v2h-1zM791 159h1v1h-1zM792 157h1v2h-1zM793 156h1v1h-1zM794 155h1v1h-1zM795 154h1v1h-1zM796 154h1v1h-1zM797 153h1v1h-1zM798 154h1v1h-1zM799 154h1v1h-1zM800 155h1v1h-1zM801 155h1v1h-1zM802 156h1v1h-1zM803 157h1v1h-1zM804 157h1v1h-1zM805 158h1v1h-1zM806 159h1v1h-1zM807 160h1v1h-1zM808 161h1v1h-1zM809 162h1v1h-1zM810 162h1v1h-1zM811 163h1v1h-1zM812 163h1v1h-1zM813 163h1v1h-1zM814 163h1v1h-1zM815 164h1v1h-1zM816 164h1v1h-1zM817 164h1v1h-1zM818 165h1v1h-1zM819 165h1v1h-1zM820 166h1v1h-1zM821 166h1v1h-1zM822 167h1v1h-1zM823 168h1v1h-1zM824 169h1v1h-1zM825 170h1v1h-1zM826 171h1v1h-1zM827 172h1v2h-1zM828 174h1v1h-1zM829 175h1v1h-1zM830 176h1v1h-1zM831 177h1v2h-1zM832 179h1v1h-1zM833 180h1v2h-1zM834 182h1v2h-1zM835 184h1v2h-1zM836 186h1v2h-1zM837 188h1v2h-1zM838 190h1v2h-1zM839 192h1v2h-1zM840 194h1v2h-1zM841 196h1v2h-1zM842 198h1v2h-1zM843 200h1v2h-1zM844 202h1v2h-1zM845 204h1v2h-1zM846 206h1v2h-1zM847 208h1v1h-1zM848 209h1v2h-1zM849 211h1v1h-1zM850 212h1v2h-1zM851 214h1v2h-1zM852 216h1v2h-1zM853 218h1v1h-1zM854 219h1v1h-1zM855 220h1v1h-1zM856 221h1v1h-1zM857 222h1v1h-1zM858 223h1v1h-1zM859 224h1v1h-1zM860 224h1v1h-1zM861 225h1v1h-1zM862 226h1v1h-1zM863 226h1v1h-1zM864 227h1v1h-1zM865 227h1v1h-1zM866 228h1v1h-1zM867 229h1v2h-1zM868 231h1v1h-1zM869 232h1v2h-1zM870 234h1v2h-1zM871 236h1v2h-1zM872 238h1v2h-1zM873 240h1v3h-1zM874 243h1v2h-1zM875 245h1v3h-1zM876 248h1v2h-1zM877 250h1v3h-1zM878 253h1v3h-1zM879 256h1v3h-1zM880 259h1v3h-1zM881 262h1v3h-1zM882 265h1v3h-1zM883 268h1v3h-1zM884 271h1v3h-1zM885 274h1v3h-1zM886 277h1v3h-1zM887 280h1v3h-1zM888 283h1v3h-1zM889 286h1v3h-1zM890 289h1v3h-1zM891 292h1v3h-1zM892 295h1v3h-1zM893 298h1v2h-1zM894 300h1v2h-1zM895 302h1v2h-1zM896 304h1v2h-1zM897 306h1v2h-1zM898 308h1v2h-1zM899 310h1v2h-1zM900 312h1v2h-1zM901 314h1v2h-1zM902 316h1v2h-1zM903 318h1v2h-1zM904 320h1v2h-1zM905 322h1v3h-1zM906 325h1v2h-1zM907 327h1v3h-1zM908 330h1v2h-1zM909 332h1v3h-1zM910 335h1v2h-1zM911 337h1v2h-1zM912 339h1v2h-1zM913 341h1v3h-1zM914 344h1v2h-1zM915 346h1v3h-1zM916 349h1v2h-1zM917 351h1v2h-1zM918 353h1v2h-1zM919 355h1v1h-1zM920 356h1v2h-1zM921 358h1v1h-1zM922 359h1v1h-1zM923 360h1v2h-1zM924 362h1v1h-1zM925 363h1v1h-1z" fill="#ff0000"/>
<path d="M5 210h1v1h-1zM6 211h1v1h-1zM7 212h1v2h-1zM8 214h1v1h-1zM9 215h1v1h-1zM10 216h1v1h-1zM11 217h1v1h-1zM12 217h1v1h-1zM13 218h1v1h-1zM14 217h1v1h-1zM15 216h1v1h-1zM16 215h1v1h-1zM17 214h1v1h-1zM18 212h1v2h-1zM19 210h1v2h-1zM20 208h1v2h-1zM21 206h1v2h-1zM22 205h1v1h-1zM23 204h1v1h-1zM24 204h1v1h-1zM25 203h1v1h-1zM26 201h1v2h-1zM27 199h1v2h-1zM28 197h1v2h-1zM29 196h1v1h-1zM30 194h1v2h-1zM31 192h1v2h-1zM32 190h1v2h-1zM33 188h1v2h-1zM34 187h1v1h-1zM35 186h1v1h-1zM36 186h1v1h-1zM37 185h1v1h-1zM38 185h1v1h-1zM39 186h1v1h-1zM40 186h1v1h-1zM41 186h1v1h-1zM42 186h1v1h-1zM43 186h1v1h-1zM44 186h1v1h-1zM45 186h1v1h-1zM46 185h1v1h-1zM47 184h1v1h-1zM48 183h1v1h-1zM49 182h1v1h-1zM50 181h1v1h-1zM51 179h1v2h-1zM52 178h1v1h-1zM53 176h1v2h-1zM54 173h1v3h-1zM55 169h1v4h-1zM56 166h1v3h-1zM57 163h1v3h-1zM58 160h1v3h-1zM59 158h1v2h-1zM60 155h1v3h-1zM61 152h1v3h-1zM62 150h1v2h-1zM63 148h1v2h-1zM64 146h1v2h-1zM65 143h1v3h-1zM66 140h1v3h-1zM67 138h1v2h-1zM68 135h1v3h-1zM69 132h1v3h-1zM70 130h1v2h-1zM71 127h1v3h-1zM72 125h1v2h-1zM73 123h1v2h-1zM74 124h1v1h-1zM75 125h1v1h-1zM76 126h1v1h-1zM77 127h1v1h-1zM78 128h1v1h-1zM79 129h1v1h-1zM80 129h1v1h-1zM81 130h1v1h-1zM82 131h1v2h-1zM83 133h1v2h-1zM84 135h1v2h-1zM85 137h1v3h-1zM86 140h1v4h-1zM87 144h1v4h-1zM88 148h1v4h-1zM89 152h1v5h-1zM90 157h1v6h-1zM91 163h1v6h-1zM92 169h1v6h-1zM93 175h1v6h-1zM94 181h1v4h-1zM95 185h1v5h-1zM96 190h1v4h-1zM97 194h1v4h-1zM98 198h1v4h-1zM99 202h1v4h-1zM100 206h1v4h-1zM101 210h1v4h-1zM102 214h1v3h-1zM103 217h1v4h-1zM104 221h1v3h-1zM105 224h1v2h-1zM106 226h1v2h-1zM107 228h1v2h-1zM108 230h1v2h-1zM109 232h1v1h-1zM110 230h1v2h-1zM111 228h1v2h-1zM112 226h1v2h-1zM113 223h1v3h-1zM114 221h1v2h-1zM115 218h1v3h-1zM116 216h1v2h-1zM117 213h1v3h-1zM118 210h1v3h-1zM119 207h1v3h-1zM120 204h1v3h-1zM121 201h1v3h-1zM122 197h1v4h-1zM123 193h1v4h-1zM124 189h1v4h-1zM125 184h1v5h-1zM126 179h1v5h-1zM127 175h1v4h-1zM128 170h1v5h-1zM129 166h1v4h-1zM130 163h1v3h-1zM131 160h1v3h-1zM132 157h1v3h-1zM133 154h1v3h-1zM134 150h1v4h-1zM135 147h1v3h-1zM136 143h1v4h-1zM137 140h1v3h-1zM138 136h1v4h-1zM139 133h1v3h-1zM140 129h1v4h-1zM141 126h1v3h-1zM142 123h1v3h-1zM143 120h1v3h-1zM144 117h1v3h-1zM145 115h1v2h-1zM146 116h1v1h-1zM147 116h1v1h-1zM148 117h1v1h-1zM149 117h1v1h-1zM150 117h1v1h-1zM151 117h1v1h-1zM152 117h1v1h-1zM153 117h1v1h-1zM154 116h1v1h-1zM155 115h1v1h-1zM156 114h1v1h-1zM157 113h1v1h-1zM158 112h1v1h-1zM159 111h1v1h-1zM160 110h1v1h-1zM161 109h1v2h-1zM162 111h1v3h-1zM163 114h1v2h-1zM164 116h1v3h-1zM165 119h1v2h-1zM166 119h1v1h-1zM167 118h1v1h-1zM168 118h1v1h-1zM169 117h1v1h-1zM170 118h1v1h-1zM171 119h1v1h-1zM172 120h1v1h-1zM173 121h1v3h-1zM174 124h1v4h-1zM175 128h1v4h-1zM176 132h1v4h-1zM177 136h1v4h-1zM178 140h1v3h-1zM179 143h1v3h-1zM180 146h1v3h-1zM181 149h1v2h-1zM182 149h1v1h-1zM183 148h1v1h-1zM184 148h1v1h-1zM185 147h1v1h-1zM186 145h1v2h-1zM187 143h1v2h-1zM188 141h1v2h-1zM189 140h1v1h-1zM190 138h1v2h-1zM191 136h1v2h-1zM192 134h1v2h-1zM193 130h1v4h-1zM194 126h1v4h-1zM195 122h1v4h-1zM196 118h1v4h-1zM197 114h1v4h-1zM198 112h1v2h-1zM199 110h1v2h-1zM200 108h1v2h-1zM201 106h1v2h-1zM202 105h1v1h-1zM203 103h1v2h-1zM204 102h1v1h-1zM205 100h1v2h-1zM206 98h1v2h-1zM207 96h1v2h-1zM208 94h1v2h-1zM209 92h1v2h-1zM210 91h1v1h-1zM211 90h1v1h-1zM212 89h1v1h-1zM213 88h1v1h-1zM214 87h1v1h-1zM215 86h1v1h-1zM216 85h1v1h-1zM217 84h1v1h-1zM218 83h1v1h-1zM219 81h1v2h-1zM220 80h1v1h-1zM221 79h1v1h-1zM222 80h1v1h-1zM223 81h1v1h-1zM224 81h1v1h-1zM225 82h1v2h-1zM226 84h1v4h-1zM227 88h1v4h-1zM228 92h1v4h-1zM229 96h1v4h-1zM230 100h1v4h-1zM231 104h1v4h-1zM232 108h1v4h-1zM233 112h1v5h-1zM234 117h1v6h-1zM235 123h1v6h-1zM236 129h1v6h-1zM237 135h1v5h-1zM238 140h1v6h-1zM239 146h1v6h-1zM240 152h1v6h-1zM241 158h1v5h-1zM242 163h1v4h-1zM243 167h1v4h-1zM244 171h1v4h-1zM245 175h1v5h-1zM246 180h1v5h-1zM247 185h1v4h-1zM248 189h1v5h-1zM249 194h1v4h-1zM250 198h1v3h-1zM251 201h1v2h-1zM252 203h1v3h-1zM253 206h1v2h-1zM254 208h1v2h-1zM255 210h1v2h-1zM256 212h1v2h-1zM257 214h1v4h-1zM258 218h1v4h-1zM259 222h1v5h-1zM260 227h1v4h-1zM261 231h1v5h-1zM262 236h1v5h-1zM263 241h1v4h-1zM264 245h1v5h-1zM265 250h1v4h-1zM266 254h1v4h-1zM267 258h1v4h-1zM268 262h1v4h-1zM269 266h1v5h-1zM270 271h1v5h-1zM271 276h1v6h-1zM272 282h1v5h-1zM273 287h1v5h-1zM274 292h1v5h-1zM275 297h1v4h-1zM276 301h1v5h-1zM277 306h1v3h-1zM278 307h1v1h-1zM279 307h1v1h-1zM280 306h1v1h-1zM281 306h1v1h-1zM282 306h1v1h-1zM283 306h1v1h-1zM284 306h1v1h-1zM285 306h1v1h-1zM286 305h1v1h-1zM287 305h1v1h-1zM288 304h1v1h-1zM289 304h1v1h-1zM290 305h1v1h-1zM291 305h1v1h-1zM292 306h1v1h-1zM293 306h1v1h-1zM294 304h1v2h-1zM295 302h1v2h-1zM296 300h1v2h-1zM297 298h1v2h-1zM298 300h1v3h-1zM299 303h1v3h-1zM300 306h1v3h-1zM301 309h1v2h-1zM302 311h1v1h-1zM303 311h1v1h-1zM304 312h1v1h-1zM305 312h1v1h-1zM306 313h1v1h-1zM307 313h1v1h-1zM308 314h1v1h-1zM309 314h1v1h-1zM310 313h1v1h-1zM311 311h1v2h-1zM312 310h1v1h-1zM313 309h1v1h-1zM314 310h1v1h-1zM315 311h1v2h-1zM316 313h1v1h-1zM317 314h1v1h-1zM318 312h1v2h-1zM319 311h1v1h-1zM320 309h1v2h-1zM321 308h1v1h-1zM322 307h1v1h-1zM323 307h1v1h-1zM324 306h1v1h-1zM325 306h1v1h-1zM326 307h1v1h-1zM327 308h1v1h-1zM328 308h1v1h-1zM329 309h1v1h-1zM330 310h1v2h-1zM331 312h1v2h-1zM332 314h1v2h-1zM333 316h1v1h-1zM334 317h1v1h-1zM335 318h1v1h-1zM336 318h1v1h-1zM337 319h1v1h-1zM338 319h1v1h-1zM339 318h1v1h-1zM340 318h1v1h-1zM341 318h1v1h-1zM342 319h1v2h-1zM343 321h1v1h-1zM344 322h1v2h-1zM345 324h1v1h-1zM346 325h1v1h-1zM347 326h1v1h-1zM348 326h1v1h-1zM349 327h1v1h-1zM350 328h1v1h-1zM351 329h1v1h-1zM352 329h1v1h-1zM353 330h1v1h-1zM354 331h1v1h-1zM355 332h1v1h-1zM356 333h1v1h-1zM357 334h1v2h-1zM358 336h1v2h-1zM359 338h1v2h-1zM360 340h1v2h-1zM361 342h1v2h-1zM362 344h1v2h-1zM363 346h1v2h-1zM364 348h1v2h-1zM365 350h1v2h-1zM366 350h1v1h-1zM367 349h1v1h-1zM368 349h1v1h-1zM369 347h1v2h-1zM370 345h1v2h-1zM371 342h1v3h-1zM372 340h1v2h-1zM373 337h1v3h-1zM374 333h1v4h-1zM375 329h1v4h-1zM376 325h1v4h-1zM377 320h1v5h-1zM378 314h1v6h-1zM379 308h1v6h-1zM380 302h1v6h-1zM381 297h1v5h-1zM382 291h1v6h-1zM383 285h1v6h-1zM384 279h1v6h-1zM385 274h1v5h-1zM386 269h1v5h-1zM387 264h1v5h-1zM388 259h1v5h-1zM389 255h1v4h-1zM390 252h1v3h-1zM391 248h1v4h-1zM392 245h1v3h-1zM393 243h1v2h-1zM394 241h1v2h-1zM395 240h1v1h-1zM396 238h1v2h-1zM397 237h1v1h-1zM398 236h1v1h-1zM399 235h1v1h-1zM400 235h1v1h-1zM401 234h1v1h-1zM402 232h1v2h-1zM403 230h1v2h-1zM404 228h1v2h-1zM405 227h1v1h-1zM406 227h1v1h-1zM407 226h1v1h-1zM408 226h1v1h-1zM409 226h1v1h-1zM410 226h1v1h-1zM411 227h1v1h-1zM412 227h1v1h-1zM413 227h1v1h-1zM414 227h1v1h-1zM415 227h1v1h-1zM416 227h1v1h-1zM417 227h1v1h-1zM418 228h1v1h-1zM419 229h1v2h-1zM420 231h1v1h-1zM421 232h1v2h-1zM422 234h1v4h-1zM423 238h1v4h-1zM424 242h1v4h-1zM425 246h1v5h-1zM426 251h1v5h-1zM427 256h1v4h-1zM428 260h1v5h-1zM429 265h1v5h-1zM430 270h1v4h-1zM431 274h1v5h-1zM432 279h1v4h-1zM433 283h1v4h-1zM434 287h1v4h-1zM435 291h1v4h-1zM436 295h1v4h-1zM437 299h1v3h-1zM438 302h1v2h-1zM439 304h1v2h-1zM440 306h1v2h-1zM441 308h1v2h-1zM442 310h1v2h-1zM443 312h1v2h-1zM444 314h1v2h-1zM445 316h1v2h-1zM446 318h1v1h-1zM447 319h1v1h-1zM448 319h1v1h-1zM449 320h1v1h-1zM450 320h1v1h-1zM451 320h1v1h-1zM452 320h1v1h-1zM453 320h1v1h-1zM454 321h1v1h-1zM455 321h1v1h-1zM456 322h1v1h-1zM457 322h1v1h-1zM458 323h1v2h-1zM459 325h1v2h-1zM460 327h1v2h-1zM461 329h1v2h-1zM462 331h1v2h-1zM463 333h1v2h-1zM464 335h1v2h-1zM465 337h1v3h-1zM466 340h1v2h-1zM467 342h1v3h-1zM468 345h1v2h-1zM469 347h1v2h-1zM470 349h1v1h-1zM471 349h1v1h-1zM472 350h1v1h-1zM473 350h1v1h-1zM474 350h1v1h-1zM475 349h1v1h-1zM476 349h1v1h-1zM477 349h1v1h-1zM478 348h1v1h-1zM479 346h1v2h-1zM480 345h1v1h-1zM481 344h1v1h-1zM482 342h1v2h-1zM483 341h1v1h-1zM484 339h1v2h-1zM485 338h1v1h-1zM486 337h1v1h-1zM487 335h1v2h-1zM488 334h1v1h-1zM489 333h1v1h-1zM490 334h1v1h-1zM491 335h1v1h-1zM492 336h1v1h-1zM493 337h1v1h-1zM494 337h1v1h-1zM495 336h1v1h-1zM496 336h1v1h-1zM497 336h1v1h-1zM498 334h1v2h-1zM499 333h1v1h-1zM500 331h1v2h-1zM501 329h1v2h-1zM502 327h1v2h-1zM503 324h1v3h-1zM504 322h1v2h-1zM505 320h1v2h-1zM506 318h1v2h-1zM507 316h1v2h-1zM508 314h1v2h-1zM509 313h1v1h-1zM510 312h1v1h-1zM511 310h1v2h-1zM512 309h1v1h-1zM513 308h1v1h-1zM514 309h1v1h-1zM515 310h1v1h-1zM516 310h1v1h-1zM517 311h1v1h-1zM518 310h1v1h-1zM519 309h1v1h-1zM520 308h1v1h-1zM521 307h1v1h-1zM522 305h1v2h-1zM523 303h1v2h-1zM524 301h1v2h-1zM525 298h1v3h-1zM526 294h1v4h-1zM527 290h1v4h-1zM528 286h1v4h-1zM529 282h1v4h-1zM530 277h1v5h-1zM531 272h1v5h-1zM532 267h1v5h-1zM533 262h1v5h-1zM534 258h1v4h-1zM535 253h1v5h-1zM536 249h1v4h-1zM537 246h1v3h-1zM538 245h1v1h-1zM539 244h1v1h-1zM540 243h1v1h-1zM541 242h1v1h-1zM542 243h1v1h-1zM543 244h1v2h-1zM544 246h1v1h-1zM545 247h1v1h-1zM546 248h1v1h-1zM547 249h1v1h-1zM548 250h1v1h-1zM549 251h1v1h-1zM550 252h1v2h-1zM551 254h1v2h-1zM552 256h1v2h-1zM553 258h1v2h-1zM554 260h1v1h-1zM555 261h1v2h-1zM556 263h1v1h-1zM557 264h1v1h-1zM558 263h1v1h-1zM559 262h1v1h-1zM560 262h1v1h-1zM561 260h1v2h-1zM562 258h1v2h-1zM563 256h1v2h-1zM564 254h1v2h-1zM565 251h1v3h-1zM566 248h1v3h-1zM567 246h1v2h-1zM568 243h1v3h-1zM569 240h1v3h-1zM570 236h1v4h-1zM571 232h1v4h-1zM572 228h1v4h-1zM573 224h1v4h-1zM574 221h1v3h-1zM575 217h1v4h-1zM576 214h1v3h-1zM577 212h1v2h-1zM578 210h1v2h-1zM579 209h1v1h-1zM580 207h1v2h-1zM581 206h1v1h-1zM582 205h1v1h-1zM583 204h1v1h-1zM584 203h1v1h-1zM585 202h1v1h-1zM586 202h1v1h-1zM587 202h1v1h-1zM588 202h1v1h-1zM589 202h1v1h-1zM590 203h1v1h-1zM591 204h1v1h-1zM592 205h1v1h-1zM593 206h1v2h-1zM594 208h1v2h-1zM595 210h1v2h-1zM596 212h1v2h-1zM597 214h1v2h-1zM598 216h1v2h-1zM599 218h1v2h-1zM600 220h1v2h-1zM601 222h1v2h-1zM602 224h1v2h-1zM603 226h1v2h-1zM604 228h1v2h-1zM605 230h1v3h-1zM606 233h1v2h-1zM607 235h1v2h-1zM608 237h1v2h-1zM609 239h1v3h-1zM610 242h1v2h-1zM611 244h1v2h-1zM612 246h1v2h-1zM613 248h1v3h-1zM614 251h1v4h-1zM615 255h1v4h-1zM616 259h1v4h-1zM617 263h1v2h-1zM618 265h1v2h-1zM619 267h1v2h-1zM620 269h1v2h-1zM621 271h1v2h-1zM622 273h1v2h-1zM623 275h1v1h-1zM624 276h1v2h-1zM625 278h1v1h-1zM626 279h1v1h-1zM627 280h1v1h-1zM628 281h1v1h-1zM629 282h1v1h-1zM630 282h1v1h-1zM631 283h1v1h-1zM632 283h1v1h-1zM633 283h1v1h-1zM634 281h1v2h-1zM635 280h1v1h-1zM636 278h1v2h-1zM637 277h1v1h-1zM638 278h1v1h-1zM639 279h1v1h-1zM640 279h1v1h-1zM641 280h1v1h-1zM642 281h1v2h-1zM643 283h1v1h-1zM644 284h1v2h-1zM645 286h1v1h-1zM646 287h1v1h-1zM647 288h1v2h-1zM648 290h1v1h-1zM649 291h1v2h-1zM650 293h1v2h-1zM651 295h1v3h-1zM652 298h1v2h-1zM653 300h1v2h-1zM654 302h1v1h-1zM655 303h1v1h-1zM656 303h1v1h-1zM657 304h1v1h-1zM658 305h1v1h-1zM659 306h1v1h-1zM660 306h1v1h-1zM661 307h1v1h-1zM662 308h1v1h-1zM663 309h1v1h-1zM664 309h1v1h-1zM665 310h1v1h-1zM666 311h1v1h-1zM667 312h1v1h-1zM668 312h1v1h-1zM669 313h1v1h-1zM670 314h1v1h-1zM671 314h1v1h-1zM672 315h1v1h-1zM673 315h1v1h-1zM674 314h1v1h-1zM675 312h1v2h-1zM676 311h1v1h-1zM677 309h1v2h-1zM678 307h1v2h-1zM679 304h1v3h-1zM680 302h1v2h-1zM681 299h1v3h-1zM682 295h1v4h-1zM683 291h1v4h-1zM684 287h1v4h-1zM685 284h1v3h-1zM686 281h1v3h-1zM687 279h1v2h-1zM688 276h1v3h-1zM689 273h1v3h-1zM690 270h1v3h-1zM691 267h1v3h-1zM692 264h1v3h-1zM693 262h1v2h-1zM694 261h1v1h-1zM695 260h1v1h-1zM696 259h1v1h-1zM697 258h1v1h-1zM698 259h1v1h-1zM699 259h1v1h-1zM700 260h1v1h-1zM701 260h1v1h-1zM702 261h1v2h-1zM703 263h1v2h-1zM704 265h1v2h-1zM705 267h1v2h-1zM706 267h1v1h-1zM707 265h1v2h-1zM708 264h1v1h-1zM709 262h1v2h-1zM710 259h1v3h-1zM711 256h1v3h-1zM712 253h1v3h-1zM713 251h1v2h-1zM714 249h1v2h-1zM715 248h1v1h-1zM716 246h1v2h-1zM717 245h1v1h-1zM718 243h1v2h-1zM719 241h1v2h-1zM720 239h1v2h-1zM721 236h1v3h-1zM722 232h1v4h-1zM723 228h1v4h-1zM724 224h1v4h-1zM725 222h1v2h-1zM726 222h1v1h-1zM727 222h1v1h-1zM728 222h1v1h-1zM729 222h1v1h-1zM730 223h1v2h-1zM731 225h1v2h-1zM732 227h1v2h-1zM733 229h1v1h-1zM734 229h1v1h-1zM735 228h1v1h-1zM736 228h1v1h-1zM737 228h1v1h-1zM738 226h1v2h-1zM739 225h1v1h-1zM740 223h1v2h-1zM741 222h1v1h-1zM742 222h1v1h-1zM743 221h1v1h-1zM744 221h1v1h-1zM745 220h1v2h-1zM746 217h1v3h-1zM747 215h1v2h-1zM748 212h1v3h-1zM749 209h1v3h-1zM750 206h1v3h-1zM751 203h1v3h-1zM752 200h1v3h-1zM753 198h1v2h-1zM754 196h1v2h-1zM755 194h1v2h-1zM756 192h1v2h-1zM757 191h1v1h-1zM758 189h1v2h-1zM759 188h1v1h-1zM760 186h1v2h-1zM761 184h1v2h-1zM762 180h1v4h-1zM763 176h1v4h-1zM764 172h1v4h-1zM765 169h1v3h-1zM766 166h1v3h-1zM767 164h1v2h-1zM768 161h1v3h-1zM769 158h1v3h-1zM770 155h1v3h-1zM771 153h1v2h-1zM772 150h1v3h-1zM773 146h1v4h-1zM774 141h1v5h-1zM775 137h1v4h-1zM776 132h1v5h-1zM777 128h1v4h-1zM778 125h1v3h-1zM779 121h1v4h-1zM780 118h1v3h-1zM781 116h1v2h-1zM782 115h1v1h-1zM783 114h1v1h-1zM784 114h1v1h-1zM785 113h1v1h-1zM786 114h1v1h-1zM787 115h1v1h-1zM788 115h1v1h-1zM789 116h1v1h-1zM790 117h1v2h-1zM791 119h1v2h-1zM792 121h1v2h-1zM793 123h1v3h-1zM794 126h1v4h-1zM795 130h1v4h-1zM796 134h1v4h-1zM797 138h1v6h-1zM798 144h1v6h-1zM799 150h1v6h-1zM800 156h1v6h-1zM801 162h1v7h-1zM802 169h1v6h-1zM803 175h1v7h-1zM804 182h1v6h-1zM805 188h1v6h-1zM806 194h1v4h-1zM807 198h1v5h-1zM808 203h1v4h-1zM809 207h1v4h-1zM810 211h1v2h-1zM811 213h1v2h-1zM812 215h1v2h-1zM813 217h1v2h-1zM814 219h1v1h-1zM815 220h1v1h-1zM816 221h1v1h-1zM817 222h1v1h-1zM818 220h1v2h-1zM819 219h1v1h-1zM820 217h1v2h-1zM821 216h1v1h-1zM822 214h1v2h-1zM823 212h1v2h-1zM824 210h1v2h-1zM825 207h1v3h-1zM826 205h1v2h-1zM827 203h1v2h-1zM828 201h1v2h-1zM829 199h1v2h-1zM830 199h1v1h-1zM831 200h1v1h-1zM832 200h1v1h-1zM833 200h1v1h-1zM834 201h1v2h-1zM835 203h1v1h-1zM836 204h1v2h-1zM837 206h1v1h-1zM838 207h1v1h-1zM839 208h1v2h-1zM840 210h1v1h-1zM841 211h1v1h-1zM842 212h1v1h-1zM843 213h1v2h-1zM844 215h1v1h-1zM845 216h1v1h-1zM846 217h1v2h-1zM847 219h1v2h-1zM848 221h1v2h-1zM849 223h1v3h-1zM850 226h1v2h-1zM851 228h1v3h-1zM852 231h1v2h-1zM853 233h1v2h-1zM854 235h1v2h-1zM855 237h1v1h-1zM856 238h1v2h-1zM857 240h1v2h-1zM858 242h1v2h-1zM859 244h1v2h-1zM860 246h1v2h-1zM861 248h1v2h-1zM862 250h1v2h-1zM863 252h1v2h-1zM864 254h1v2h-1zM865 256h1v3h-1zM866 259h1v4h-1zM867 263h1v5h-1zM868 268h1v4h-1zM869 272h1v4h-1zM870 276h1v4h-1zM871 280h1v4h-1zM872 284h1v4h-1zM873 288h1v4h-1zM874 292h1v5h-1zM875 297h1v4h-1zM876 301h1v5h-1zM877 306h1v5h-1zM878 311h1v5h-1zM879 316h1v6h-1zM880 322h1v5h-1zM881 327h1v5h-1zM882 332h1v6h-1zM883 338h1v6h-1zM884 344h1v6h-1zM885 350h1v4h-1zM886 354h1v3h-1zM887 357h1v2h-1zM888 359h1v3h-1zM889 362h1v3h-1zM890 365h1v2h-1zM891 367h1v2h-1zM892 369h1v2h-1zM893 371h1v2h-1zM894 373h1v1h-1zM895 373h1v1h-1zM896 374h1v1h-1zM897 374h1v1h-1zM898 372h1v2h-1zM899 370h1v2h-1zM900 368h1v2h-1zM901 367h1v1h-1zM902 365h1v2h-1zM903 363h1v2h-1zM904 361h1v2h-1zM905 360h1v1h-1zM906 361h1v1h-1zM907 361h1v1h-1zM908 362h1v1h-1zM909 362h1v1h-1zM910 363h1v1h-1zM911 364h1v1h-1zM912 364h1v1h-1zM913 365h1v1h-1zM914 366h1v2h-1zM915 368h1v2h-1zM916 370h1v2h-1zM917 372h1v2h-1zM918 374h1v1h-1zM919 375h1v1h-1zM920 376h1v1h-1zM921 377h1v1h-1zM922 377h1v1h-1zM923 378h1v1h-1zM924 378h1v1h-1zM925 378h1v1h-1z" fill="#0000cd"/>
<rect x="5" y="172" width="1" height="43" fill="#ff0000"/>
<rect x="4" y="191" width="3" height="21" fill="#ff0000"/>
<rect x="5" y="192" width="1" height="19" fill="#ff4500"/>
<rect x="9" y="177" width="1" height="56" fill="#32cd32"/>
<rect x="8" y="191" width="3" height="34" fill="#32cd32"/>
<rect x="13" y="206" width="1" height="23" fill="#ff0000"/>
<rect x="12" y="220" width="3" height="5" fill="#ff0000"/>
<rect x="13" y="221" width="1" height="3" fill="#ff4500"/>
<rect x="17" y="203" width="1" height="31" fill="#ff0000"/>
<rect x="16" y="207" width="3" height="15" fill="#ff0000"/>
<rect x="17" y="208" width="1" height="13" fill="#ff4500"/>
<rect x="21" y="183" width="1" height="37" fill="#ff0000"/>
<rect x="20" y="191" width="3" height="18" fill="#ff0000"/>
<rect x="21" y="192" width="1" height="16" fill="#ff4500"/>
<rect x="25" y="172" width="1" height="21" fill="#ff0000"/>
<rect x="24" y="176" width="3" height="16" fill="#ff0000"/>
<rect x="25" y="177" width="1" height="14" fill="#ff4500"/>
<rect x="29" y="170" width="1" height="22" fill="#32cd32"/>
<rect x="28" y="176" width="3" height="15" fill="#32cd32"/>
<rect x="33" y="172" width="1" height="20" fill="#ff0000"/>
<rect x="32" y="176" width="3" height="15" fill="#ff0000"/>
<rect x="33" y="177" width="1" height="13" fill="#ff4500"/>
<rect x="37" y="174" width="1" height="25" fill="#32cd32"/>
<rect x="36" y="176" width="3" height="18" fill="#32cd32"/>
<rect x="41" y="170" width="1" height="34" fill="#32cd32"/>
<rect x="40" y="192" width="3" height="3" fill="#32cd32"/>
<rect x="45" y="165" width="1" height="38" fill="#ff0000"/>
<rect x="44" y="177" width="3" height="18" fill="#ff0000"/>
<rect x="45" y="178" width="1" height="16" fill="#ff4500"/>
<rect x="49" y="164" width="1" height="15" fill="#ff0000"/>
<rect x="48" y="168" width="3" height="10" fill="#ff0000"/>
<rect x="49" y="169" width="1" height="8" fill="#ff4500"/>
<rect x="53" y="145" width="1" height="30" fill="#ff0000"/>
<rect x="52" y="155" width="3" height="18" fill="#ff0000"/>
<rect x="53" y="156" width="1" height="16" fill="#ff4500"/>
<rect x="57" y="121" width="1" height="39" fill="#ff0000"/>
<rect x="56" y="127" width="3" height="30" fill="#ff0000"/>
<rect x="57" y="128" width="1" height="28" fill="#ff4500"/>
<rect x="61" y="109" width="1" height="33" fill="#32cd32"/>
<rect x="60" y="127" width="3" height="13" fill="#32cd32"/>
<rect x="65" y="120" width="1" height="30" fill="#ff0000"/>
<rect x="64" y="130" width="3" height="13" fill="#ff0000"/>
<rect x="65" y="131" width="1" height="11" fill="#ff4500"/>
<rect x="69" y="110" width="1" height="37" fill="#ff0000"/>
<rect x="68" y="113" width="3" height="18" fill="#ff0000"/>
<rect x="69" y="114" width="1" height="16" fill="#ff4500"/>
<rect x="73" y="104" width="1" height="13" fill="#ff0000"/>
<rect x="72" y="108" width="3" height="5" fill="#ff0000"/>
<rect x="73" y="109" width="1" height="3" fill="#ff4500"/>
<rect x="77" y="116" width="1" height="36" fill="#32cd32"/>
<rect x="76" y="120" width="3" height="27" fill="#32cd32"/>
<rect x="81" y="144" width="1" height="18" fill="#32cd32"/>
<rect x="80" y="146" width="3" height="10" fill="#32cd32"/>
<rect x="85" y="149" width="1" height="20" fill="#32cd32"/>
<rect x="84" y="151" width="3" height="17" fill="#32cd32"/>
<rect x="89" y="163" width="1" height="39" fill="#32cd32"/>
<rect x="88" y="166" width="3" height="30" fill="#32cd32"/>
<rect x="93" y="186" width="1" height="44" fill="#32cd32"/>
<rect x="92" y="194" width="3" height="35" fill="#32cd32"/>
<rect x="97" y="226" width="1" height="11" fill="#32cd32"/>
<rect x="96" y="227" width="3" height="7" fill="#32cd32"/>
<rect x="101" y="216" width="1" height="32" fill="#32cd32"/>
<rect x="100" y="225" width="3" height="15" fill="#32cd32"/>
<rect x="105" y="221" width="1" height="43" fill="#ff0000"/>
<rect x="104" y="228" width="3" height="12" fill="#ff0000"/>
<rect x="105" y="229" width="1" height="10" fill="#ff4500"/>
<rect x="109" y="216" width="1" height="26" fill="#32cd32"/>
<rect x="108" y="229" width="3" height="3" fill="#32cd32"/>
<rect x="113" y="172" width="1" height="60" fill="#ff0000"/>
<rect x="112" y="188" width="3" height="43" fill="#ff0000"/>
<rect x="113" y="189" width="1" height="41" fill="#ff4500"/>
<rect x="117" y="175" width="1" height="26" fill="#ff0000"/>
<rect x="116" y="185" width="3" height="4" fill="#ff0000"/>
<rect x="117" y="186" width="1" height="2" fill="#ff4500"/>
<rect x="121" y="174" width="1" height="13" fill="#ff0000"/>
<rect x="120" y="179" width="3" height="7" fill="#ff0000"/>
<rect x="121" y="180" width="1" height="5" fill="#ff4500"/>
<rect x="125" y="142" width="1" height="33" fill="#ff0000"/>
<rect x="124" y="147" width="3" height="28" fill="#ff0000"/>
<rect x="125" y="148" width="1" height="26" fill="#ff4500"/>
<rect x="129" y="137" width="1" height="20" fill="#ff0000"/>
<rect x="128" y="138" width="3" height="10" fill="#ff0000"/>
<rect x="129" y="139" width="1" height="8" fill="#ff4500"/>
<rect x="133" y="120" width="1" height="47" fill="#ff0000"/>
<rect x="132" y="125" width="3" height="14" fill="#ff0000"/>
<rect x="133" y="126" width="1" height="12" fill="#ff4500"/>
<rect x="137" y="109" width="1" height="22" fill="#ff0000"/>
<rect x="136" y="117" width="3" height="9" fill="#ff0000"/>
<rect x="137" y="118" width="1" height="7" fill="#ff4500"/>
<rect x="141" y="102" width="1" height="17" fill="#ff0000"/>
<rect x="140" y="106" width="3" height="13" fill="#ff0000"/>
<rect x="141" y="107" width="1" height="11" fill="#ff4500"/>
<rect x="145" y="86" width="1" height="22" fill="#ff0000"/>
<rect x="144" y="90" width="3" height="16" fill="#ff0000"/>
<rect x="145" y="91" width="1" height="14" fill="#ff4500"/>
<rect x="149" y="94" width="1" height="57" fill="#32cd32"/>
<rect x="148" y="100" width="3" height="50" fill="#32cd32"/>
<rect x="153" y="115" width="1" height="40" fill="#ff0000"/>
<rect x="152" y="123" width="3" height="27" fill="#ff0000"/>
<rect x="153" y="124" width="1" height="25" fill="#ff4500"/>
<rect x="157" y="90" width="1" height="40" fill="#ff0000"/>
<rect x="156" y="95" width="3" height="30" fill="#ff0000"/>
<rect x="157" y="96" width="1" height="28" fill="#ff4500"/>
<rect x="161" y="86" width="1" height="15" fill="#ff0000"/>
<rect x="160" y="90" width="3" height="8" fill="#ff0000"/>
<rect x="161" y="91" width="1" height="6" fill="#ff4500"/>
<rect x="165" y="96" width="1" height="58" fill="#32cd32"/>
<rect x="164" y="100" width="3" height="44" fill="#32cd32"/>
<rect x="169" y="132" width="1" height="13" fill="#ff0000"/>
<rect x="168" y="133" width="3" height="11" fill="#ff0000"/>
<rect x="169" y="134" width="1" height="9" fill="#ff4500"/>
<rect x="173" y="120" width="1" height="25" fill="#32cd32"/>
<rect x="172" y="131" width="3" height="13" fill="#32cd32"/>
<rect x="177" y="142" width="1" height="44" fill="#32cd32"/>
<rect x="176" y="143" width="3" height="38" fill="#32cd32"/>
<rect x="181" y="143" width="1" height="52" fill="#ff0000"/>
<rect x="180" y="148" width="3" height="32" fill="#ff0000"/>
<rect x="181" y="149" width="1" height="30" fill="#ff4500"/>
<rect x="185" y="125" width="1" height="32" fill="#ff0000"/>
<rect x="184" y="131" width="3" height="18" fill="#ff0000"/>
<rect x="185" y="132" width="1" height="16" fill="#ff4500"/>
<rect x="189" y="96" width="1" height="44" fill="#ff0000"/>
<rect x="188" y="100" width="3" height="32" fill="#ff0000"/>
<rect x="189" y="101" width="1" height="30" fill="#ff4500"/>
<rect x="193" y="95" width="1" height="18" fill="#ff0000"/>
<rect x="192" y="100" width="3" height="12" fill="#ff0000"/>
<rect x="193" y="101" width="1" height="10" fill="#ff4500"/>
<rect x="197" y="90" width="1" height="15" fill="#ff0000"/>
<rect x="196" y="95" width="3" height="6" fill="#ff0000"/>
<rect x="197" y="96" width="1" height="4" fill="#ff4500"/>
<rect x="201" y="92" width="1" height="16" fill="#32cd32"/>
<rect x="200" y="95" width="3" height="11" fill="#32cd32"/>
<rect x="205" y="98" width="1" height="21" fill="#ff0000"/>
<rect x="204" y="104" width="3" height="5" fill="#ff0000"/>
<rect x="205" y="105" width="1" height="3" fill="#ff4500"/>
<rect x="209" y="52" width="1" height="61" fill="#ff0000"/>
<rect x="208" y="55" width="3" height="57" fill="#ff0000"/>
<rect x="209" y="56" width="1" height="55" fill="#ff4500"/>
<rect x="213" y="52" width="1" height="31" fill="#32cd32"/>
<rect x="212" y="55" width="3" height="25" fill="#32cd32"/>
<rect x="217" y="76" width="1" height="6" fill="#32cd32"/>
<rect x="216" y="78" width="3" height="2" fill="#32cd32"/>
<rect x="221" y="74" width="1" height="11" fill="#32cd32"/>
<rect x="220" y="76" width="3" height="5" fill="#32cd32"/>
<rect x="225" y="76" width="1" height="44" fill="#32cd32"/>
<rect x="224" y="80" width="3" height="38" fill="#32cd32"/>
<rect x="229" y="108" width="1" height="33" fill="#32cd32"/>
<rect x="228" y="116" width="3" height="21" fill="#32cd32"/>
<rect x="233" y="129" width="1" height="32" fill="#32cd32"/>
<rect x="232" y="133" width="3" height="25" fill="#32cd32"/>
<rect x="237" y="154" width="1" height="46" fill="#32cd32"/>
<rect x="236" y="155" width="3" height="43" fill="#32cd32"/>
<rect x="241" y="194" width="1" height="14" fill="#32cd32"/>
<rect x="240" y="197" width="3" height="2" fill="#32cd32"/>
<rect x="245" y="188" width="1" height="21" fill="#32cd32"/>
<rect x="244" y="192" width="3" height="6" fill="#32cd32"/>
<rect x="249" y="195" width="1" height="37" fill="#32cd32"/>
<rect x="248" y="196" width="3" height="33" fill="#32cd32"/>
<rect x="253" y="202" width="1" height="34" fill="#ff0000"/>
<rect x="252" y="214" width="3" height="14" fill="#ff0000"/>
<rect x="253" y="215" width="1" height="12" fill="#ff4500"/>
<rect x="257" y="210" width="1" height="56" fill="#32cd32"/>
<rect x="256" y="214" width="3" height="27" fill="#32cd32"/>
<rect x="261" y="229" width="1" height="94" fill="#32cd32"/>
<rect x="260" y="238" width="3" height="48" fill="#32cd32"/>
<rect x="265" y="285" width="1" height="12" fill="#32cd32"/>
<rect x="264" y="285" width="3" height="11" fill="#32cd32"/>
<rect x="269" y="286" width="1" height="51" fill="#32cd32"/>
<rect x="268" y="298" width="3" height="11" fill="#32cd32"/>
<rect x="273" y="302" width="1" height="33" fill="#32cd32"/>
<rect x="272" y="308" width="3" height="11" fill="#32cd32"/>
<rect x="277" y="306" width="1" height="92" fill="#32cd32"/>
<rect x="276" y="317" width="3" height="16" fill="#32cd32"/>
<rect x="281" y="272" width="1" height="66" fill="#ff0000"/>
<rect x="280" y="280" width="3" height="53" fill="#ff0000"/>
<rect x="281" y="281" width="1" height="51" fill="#ff4500"/>
<rect x="285" y="274" width="1" height="29" fill="#32cd32"/>
<rect x="284" y="280" width="3" height="15" fill="#32cd32"/>
<rect x="289" y="290" width="1" height="13" fill="#32cd32"/>
<rect x="288" y="293" width="3" height="6" fill="#32cd32"/>
<rect x="293" y="294" width="1" height="45" fill="#32cd32"/>
<rect x="292" y="304" width="3" height="25" fill="#32cd32"/>
<rect x="297" y="273" width="1" height="64" fill="#ff0000"/>
<rect x="296" y="292" width="3" height="43" fill="#ff0000"/>
<rect x="297" y="293" width="1" height="41" fill="#ff4500"/>
<rect x="301" y="285" width="1" height="62" fill="#32cd32"/>
<rect x="300" y="289" width="3" height="53" fill="#32cd32"/>
<rect x="305" y="298" width="1" height="47" fill="#ff0000"/>
<rect x="304" y="304" width="3" height="39" fill="#ff0000"/>
<rect x="305" y="305" width="1" height="37" fill="#ff4500"/>
<rect x="309" y="294" width="1" height="23" fill="#32cd32"/>
<rect x="308" y="305" width="3" height="2" fill="#32cd32"/>
<rect x="313" y="298" width="1" height="10" fill="#ff0000"/>
<rect x="312" y="304" width="3" height="3" fill="#ff0000"/>
<rect x="313" y="305" width="1" height="1" fill="#ff4500"/>
<rect x="317" y="298" width="1" height="21" fill="#32cd32"/>
<rect x="316" y="303" width="3" height="13" fill="#32cd32"/>
<rect x="321" y="294" width="1" height="32" fill="#ff0000"/>
<rect x="320" y="309" width="3" height="8" fill="#ff0000"/>
<rect x="321" y="310" width="1" height="6" fill="#ff4500"/>
<rect x="325" y="290" width="1" height="24" fill="#ff0000"/>
<rect x="324" y="297" width="3" height="13" fill="#ff0000"/>
<rect x="325" y="298" width="1" height="11" fill="#ff4500"/>
<rect x="329" y="292" width="1" height="41" fill="#32cd32"/>
<rect x="328" y="297" width="3" height="26" fill="#32cd32"/>
<rect x="333" y="309" width="1" height="32" fill="#32cd32"/>
<rect x="332" y="321" width="3" height="15" fill="#32cd32"/>
<rect x="337" y="329" width="1" height="9" fill="#ff0000"/>
<rect x="336" y="331" width="3" height="5" fill="#ff0000"/>
<rect x="337" y="332" width="1" height="3" fill="#ff4500"/>
<rect x="341" y="300" width="1" height="83" fill="#ff0000"/>
<rect x="340" y="306" width="3" height="76" fill="#ff0000"/>
<rect x="341" y="307" width="1" height="74" fill="#ff4500"/>
<rect x="345" y="302" width="1" height="29" fill="#32cd32"/>
<rect x="344" y="306" width="3" height="22" fill="#32cd32"/>
<rect x="349" y="324" width="1" height="18" fill="#32cd32"/>
<rect x="348" y="326" width="3" height="12" fill="#32cd32"/>
<rect x="353" y="331" width="1" height="32" fill="#32cd32"/>
<rect x="352" y="337" width="3" height="13" fill="#32cd32"/>
<rect x="357" y="342" width="1" height="30" fill="#32cd32"/>
<rect x="356" y="348" width="3" height="4" fill="#32cd32"/>
<rect x="361" y="349" width="1" height="13" fill="#32cd32"/>
<rect x="360" y="351" width="3" height="3" fill="#32cd32"/>
<rect x="365" y="347" width="1" height="22" fill="#32cd32"/>
<rect x="364" y="351" width="3" height="13" fill="#32cd32"/>
<rect x="369" y="325" width="1" height="63" fill="#ff0000"/>
<rect x="368" y="327" width="3" height="37" fill="#ff0000"/>
<rect x="369" y="328" width="1" height="35" fill="#ff4500"/>
<rect x="373" y="289" width="1" height="42" fill="#ff0000"/>
<rect x="372" y="294" width="3" height="36" fill="#ff0000"/>
<rect x="373" y="295" width="1" height="34" fill="#ff4500"/>
<rect x="377" y="262" width="1" height="35" fill="#ff0000"/>
<rect x="376" y="272" width="3" height="24" fill="#ff0000"/>
<rect x="377" y="273" width="1" height="22" fill="#ff4500"/>
<rect x="381" y="236" width="1" height="49" fill="#ff0000"/>
<rect x="380" y="240" width="3" height="33" fill="#ff0000"/>
<rect x="381" y="241" width="1" height="31" fill="#ff4500"/>
<rect x="385" y="238" width="1" height="15" fill="#32cd32"/>
<rect x="384" y="239" width="3" height="10" fill="#32cd32"/>
<rect x="389" y="224" width="1" height="35" fill="#ff0000"/>
<rect x="388" y="225" width="3" height="28" fill="#ff0000"/>
<rect x="389" y="226" width="1" height="26" fill="#ff4500"/>
<rect x="393" y="223" width="1" height="19" fill="#32cd32"/>
<rect x="392" y="225" width="3" height="7" fill="#32cd32"/>
<rect x="397" y="216" width="1" height="32" fill="#32cd32"/>
<rect x="396" y="230" width="3" height="11" fill="#32cd32"/>
<rect x="401" y="207" width="1" height="34" fill="#ff0000"/>
<rect x="400" y="227" width="3" height="14" fill="#ff0000"/>
<rect x="401" y="228" width="1" height="12" fill="#ff4500"/>
<rect x="405" y="211" width="1" height="28" fill="#ff0000"/>
<rect x="404" y="214" width="3" height="20" fill="#ff0000"/>
<rect x="405" y="215" width="1" height="18" fill="#ff4500"/>
<rect x="409" y="214" width="1" height="7" fill="#32cd32"/>
<rect x="408" y="214" width="3" height="6" fill="#32cd32"/>
<rect x="413" y="216" width="1" height="27" fill="#32cd32"/>
<rect x="412" y="219" width="3" height="15" fill="#32cd32"/>
<rect x="417" y="231" width="1" height="34" fill="#32cd32"/>
<rect x="416" y="235" width="3" height="6" fill="#32cd32"/>
<rect x="421" y="229" width="1" height="32" fill="#32cd32"/>
<rect x="420" y="239" width="3" height="17" fill="#32cd32"/>
<rect x="425" y="239" width="1" height="69" fill="#32cd32"/>
<rect x="424" y="255" width="3" height="40" fill="#32cd32"/>
<rect x="429" y="283" width="1" height="38" fill="#32cd32"/>
<rect x="428" y="294" width="3" height="21" fill="#32cd32"/>
<rect x="433" y="315" width="1" height="11" fill="#32cd32"/>
<rect x="432" y="316" width="3" height="7" fill="#32cd32"/>
<rect x="437" y="305" width="1" height="17" fill="#ff0000"/>
<rect x="436" y="315" width="3" height="3" fill="#ff0000"/>
<rect x="437" y="316" width="1" height="1" fill="#ff4500"/>
<rect x="441" y="290" width="1" height="32" fill="#ff0000"/>
<rect x="440" y="298" width="3" height="19" fill="#ff0000"/>
<rect x="441" y="299" width="1" height="17" fill="#ff4500"/>
<rect x="445" y="286" width="1" height="59" fill="#32cd32"/>
<rect x="444" y="297" width="3" height="39" fill="#32cd32"/>
<rect x="449" y="306" width="1" height="32" fill="#ff0000"/>
<rect x="448" y="330" width="3" height="6" fill="#ff0000"/>
<rect x="449" y="331" width="1" height="4" fill="#ff4500"/>
<rect x="453" y="307" width="1" height="33" fill="#ff0000"/>
<rect x="452" y="322" width="3" height="9" fill="#ff0000"/>
<rect x="453" y="323" width="1" height="7" fill="#ff4500"/>
<rect x="457" y="321" width="1" height="8" fill="#32cd32"/>
<rect x="456" y="322" width="3" height="5" fill="#32cd32"/>
<rect x="461" y="315" width="1" height="28" fill="#32cd32"/>
<rect x="460" y="326" width="3" height="12" fill="#32cd32"/>
<rect x="465" y="311" width="1" height="92" fill="#32cd32"/>
<rect x="464" y="337" width="3" height="39" fill="#32cd32"/>
<rect x="469" y="360" width="1" height="43" fill="#32cd32"/>
<rect x="468" y="376" width="3" height="4" fill="#32cd32"/>
<rect x="473" y="330" width="1" height="55" fill="#ff0000"/>
<rect x="472" y="331" width="3" height="49" fill="#ff0000"/>
<rect x="473" y="332" width="1" height="47" fill="#ff4500"/>
<rect x="477" y="315" width="1" height="30" fill="#ff0000"/>
<rect x="476" y="322" width="3" height="12" fill="#ff0000"/>
<rect x="477" y="323" width="1" height="10" fill="#ff4500"/>
<rect x="481" y="312" width="1" height="12" fill="#ff0000"/>
<rect x="480" y="314" width="3" height="9" fill="#ff0000"/>
<rect x="481" y="315" width="1" height="7" fill="#ff4500"/>
<rect x="485" y="320" width="1" height="31" fill="#32cd32"/>
<rect x="484" y="325" width="3" height="18" fill="#32cd32"/>
<rect x="489" y="327" width="1" height="31" fill="#32cd32"/>
<rect x="488" y="341" width="3" height="15" fill="#32cd32"/>
<rect x="493" y="333" width="1" height="26" fill="#ff0000"/>
<rect x="492" y="351" width="3" height="5" fill="#ff0000"/>
<rect x="493" y="352" width="1" height="3" fill="#ff4500"/>
<rect x="497" y="316" width="1" height="53" fill="#ff0000"/>
<rect x="496" y="317" width="3" height="35" fill="#ff0000"/>
<rect x="497" y="318" width="1" height="33" fill="#ff4500"/>
<rect x="501" y="280" width="1" height="40" fill="#ff0000"/>
<rect x="500" y="288" width="3" height="31" fill="#ff0000"/>
<rect x="501" y="289" width="1" height="29" fill="#ff4500"/>
<rect x="505" y="284" width="1" height="13" fill="#32cd32"/>
<rect x="504" y="286" width="3" height="4" fill="#32cd32"/>
<rect x="509" y="288" width="1" height="43" fill="#32cd32"/>
<rect x="508" y="294" width="3" height="27" fill="#32cd32"/>
<rect x="513" y="300" width="1" height="40" fill="#32cd32"/>
<rect x="512" y="317" width="3" height="11" fill="#32cd32"/>
<rect x="517" y="325" width="1" height="33" fill="#32cd32"/>
<rect x="516" y="326" width="3" height="4" fill="#32cd32"/>
<rect x="521" y="262" width="1" height="70" fill="#ff0000"/>
<rect x="520" y="268" width="3" height="62" fill="#ff0000"/>
<rect x="521" y="269" width="1" height="60" fill="#ff4500"/>
<rect x="525" y="244" width="1" height="30" fill="#ff0000"/>
<rect x="524" y="251" width="3" height="17" fill="#ff0000"/>
<rect x="525" y="252" width="1" height="15" fill="#ff4500"/>
<rect x="529" y="243" width="1" height="14" fill="#ff0000"/>
<rect x="528" y="243" width="3" height="9" fill="#ff0000"/>
<rect x="529" y="244" width="1" height="7" fill="#ff4500"/>
<rect x="533" y="220" width="1" height="34" fill="#ff0000"/>
<rect x="532" y="232" width="3" height="20" fill="#ff0000"/>
<rect x="533" y="233" width="1" height="18" fill="#ff4500"/>
<rect x="537" y="217" width="1" height="37" fill="#32cd32"/>
<rect x="536" y="232" width="3" height="3" fill="#32cd32"/>
<rect x="541" y="229" width="1" height="32" fill="#32cd32"/>
<rect x="540" y="235" width="3" height="15" fill="#32cd32"/>
<rect x="545" y="240" width="1" height="40" fill="#32cd32"/>
<rect x="544" y="248" width="3" height="29" fill="#32cd32"/>
<rect x="549" y="258" width="1" height="25" fill="#ff0000"/>
<rect x="548" y="264" width="3" height="12" fill="#ff0000"/>
<rect x="549" y="265" width="1" height="10" fill="#ff4500"/>
<rect x="553" y="262" width="1" height="14" fill="#32cd32"/>
<rect x="552" y="263" width="3" height="12" fill="#32cd32"/>
<rect x="557" y="256" width="1" height="26" fill="#ff0000"/>
<rect x="556" y="256" width="3" height="17" fill="#ff0000"/>
<rect x="557" y="257" width="1" height="15" fill="#ff4500"/>
<rect x="561" y="228" width="1" height="32" fill="#ff0000"/>
<rect x="560" y="236" width="3" height="23" fill="#ff0000"/>
<rect x="561" y="237" width="1" height="21" fill="#ff4500"/>
<rect x="565" y="224" width="1" height="24" fill="#ff0000"/>
<rect x="564" y="227" width="3" height="15" fill="#ff0000"/>
<rect x="565" y="228" width="1" height="13" fill="#ff4500"/>
<rect x="569" y="177" width="1" height="66" fill="#ff0000"/>
<rect x="568" y="212" width="3" height="16" fill="#ff0000"/>
<rect x="569" y="213" width="1" height="14" fill="#ff4500"/>
<rect x="573" y="184" width="1" height="34" fill="#ff0000"/>
<rect x="572" y="191" width="3" height="22" fill="#ff0000"/>
<rect x="573" y="192" width="1" height="20" fill="#ff4500"/>
<rect x="577" y="187" width="1" height="12" fill="#32cd32"/>
<rect x="576" y="191" width="3" height="6" fill="#32cd32"/>
<rect x="581" y="180" width="1" height="25" fill="#32cd32"/>
<rect x="580" y="195" width="3" height="8" fill="#32cd32"/>
<rect x="585" y="178" width="1" height="46" fill="#32cd32"/>
<rect x="584" y="202" width="3" height="7" fill="#32cd32"/>
<rect x="589" y="196" width="1" height="22" fill="#32cd32"/>
<rect x="588" y="206" width="3" height="6" fill="#32cd32"/>
<rect x="593" y="192" width="1" height="45" fill="#32cd32"/>
<rect x="592" y="209" width="3" height="7" fill="#32cd32"/>
<rect x="597" y="191" width="1" height="55" fill="#32cd32"/>
<rect x="596" y="215" width="3" height="23" fill="#32cd32"/>
<rect x="601" y="236" width="1" height="11" fill="#32cd32"/>
<rect x="600" y="237" width="3" height="7" fill="#32cd32"/>
<rect x="605" y="238" width="1" height="12" fill="#32cd32"/>
<rect x="604" y="241" width="3" height="8" fill="#32cd32"/>
<rect x="609" y="240" width="1" height="23" fill="#32cd32"/>
<rect x="608" y="247" width="3" height="10" fill="#32cd32"/>
<rect x="613" y="240" width="1" height="33" fill="#32cd32"/>
<rect x="612" y="253" width="3" height="10" fill="#32cd32"/>
<rect x="617" y="260" width="1" height="57" fill="#32cd32"/>
<rect x="616" y="261" width="3" height="53" fill="#32cd32"/>
<rect x="621" y="276" width="1" height="39" fill="#ff0000"/>
<rect x="620" y="280" width="3" height="34" fill="#ff0000"/>
<rect x="621" y="281" width="1" height="32" fill="#ff4500"/>
<rect x="625" y="276" width="1" height="9" fill="#ff0000"/>
<rect x="624" y="278" width="3" height="2" fill="#ff0000"/>
<rect x="629" y="273" width="1" height="19" fill="#ff0000"/>
<rect x="628" y="277" width="3" height="3" fill="#ff0000"/>
<rect x="629" y="278" width="1" height="1" fill="#ff4500"/>
<rect x="633" y="260" width="1" height="45" fill="#ff0000"/>
<rect x="632" y="267" width="3" height="11" fill="#ff0000"/>
<rect x="633" y="268" width="1" height="9" fill="#ff4500"/>
<rect x="637" y="259" width="1" height="30" fill="#32cd32"/>
<rect x="636" y="266" width="3" height="21" fill="#32cd32"/>
<rect x="641" y="278" width="1" height="25" fill="#32cd32"/>
<rect x="640" y="286" width="3" height="10" fill="#32cd32"/>
<rect x="645" y="291" width="1" height="16" fill="#32cd32"/>
<rect x="644" y="293" width="3" height="12" fill="#32cd32"/>
<rect x="649" y="302" width="1" height="5" fill="#32cd32"/>
<rect x="648" y="302" width="3" height="3" fill="#32cd32"/>
<rect x="653" y="291" width="1" height="26" fill="#32cd32"/>
<rect x="652" y="301" width="3" height="14" fill="#32cd32"/>
<rect x="657" y="300" width="1" height="18" fill="#ff0000"/>
<rect x="656" y="304" width="3" height="11" fill="#ff0000"/>
<rect x="657" y="305" width="1" height="9" fill="#ff4500"/>
<rect x="661" y="298" width="1" height="13" fill="#32cd32"/>
<rect x="660" y="304" width="3" height="4" fill="#32cd32"/>
<rect x="665" y="306" width="1" height="20" fill="#32cd32"/>
<rect x="664" y="307" width="3" height="14" fill="#32cd32"/>
<rect x="669" y="307" width="1" height="16" fill="#32cd32"/>
<rect x="668" y="319" width="3" height="3" fill="#32cd32"/>
<rect x="673" y="320" width="1" height="10" fill="#32cd32"/>
<rect x="672" y="321" width="3" height="2" fill="#32cd32"/>
<rect x="677" y="274" width="1" height="51" fill="#ff0000"/>
<rect x="676" y="278" width="3" height="45" fill="#ff0000"/>
<rect x="677" y="279" width="1" height="43" fill="#ff4500"/>
<rect x="681" y="235" width="1" height="45" fill="#ff0000"/>
<rect x="680" y="257" width="3" height="22" fill="#ff0000"/>
<rect x="681" y="258" width="1" height="20" fill="#ff4500"/>
<rect x="685" y="243" width="1" height="26" fill="#ff0000"/>
<rect x="684" y="245" width="3" height="12" fill="#ff0000"/>
<rect x="685" y="246" width="1" height="10" fill="#ff4500"/>
<rect x="689" y="241" width="1" height="30" fill="#32cd32"/>
<rect x="688" y="245" width="3" height="25" fill="#32cd32"/>
<rect x="693" y="240" width="1" height="31" fill="#ff0000"/>
<rect x="692" y="264" width="3" height="6" fill="#ff0000"/>
<rect x="693" y="265" width="1" height="4" fill="#ff4500"/>
<rect x="697" y="251" width="1" height="15" fill="#ff0000"/>
<rect x="696" y="257" width="3" height="8" fill="#ff0000"/>
<rect x="697" y="258" width="1" height="6" fill="#ff4500"/>
<rect x="701" y="256" width="1" height="17" fill="#32cd32"/>
<rect x="700" y="259" width="3" height="9" fill="#32cd32"/>
<rect x="705" y="263" width="1" height="27" fill="#32cd32"/>
<rect x="704" y="264" width="3" height="20" fill="#32cd32"/>
<rect x="709" y="243" width="1" height="43" fill="#ff0000"/>
<rect x="708" y="245" width="3" height="40" fill="#ff0000"/>
<rect x="709" y="246" width="1" height="38" fill="#ff4500"/>
<rect x="713" y="195" width="1" height="52" fill="#ff0000"/>
<rect x="712" y="203" width="3" height="43" fill="#ff0000"/>
<rect x="713" y="204" width="1" height="41" fill="#ff4500"/>
<rect x="717" y="169" width="1" height="60" fill="#32cd32"/>
<rect x="716" y="202" width="3" height="26" fill="#32cd32"/>
<rect x="721" y="220" width="1" height="16" fill="#32cd32"/>
<rect x="720" y="225" width="3" height="5" fill="#32cd32"/>
<rect x="725" y="205" width="1" height="27" fill="#ff0000"/>
<rect x="724" y="207" width="3" height="23" fill="#ff0000"/>
<rect x="725" y="208" width="1" height="21" fill="#ff4500"/>
<rect x="729" y="205" width="1" height="51" fill="#32cd32"/>
<rect x="728" y="207" width="3" height="37" fill="#32cd32"/>
<rect x="733" y="234" width="1" height="23" fill="#ff0000"/>
<rect x="732" y="238" width="3" height="5" fill="#ff0000"/>
<rect x="733" y="239" width="1" height="3" fill="#ff4500"/>
<rect x="737" y="217" width="1" height="31" fill="#ff0000"/>
<rect x="736" y="222" width="3" height="17" fill="#ff0000"/>
<rect x="737" y="223" width="1" height="15" fill="#ff4500"/>
<rect x="741" y="197" width="1" height="28" fill="#ff0000"/>
<rect x="740" y="199" width="3" height="24" fill="#ff0000"/>
<rect x="741" y="200" width="1" height="22" fill="#ff4500"/>
<rect x="745" y="197" width="1" height="10" fill="#32cd32"/>
<rect x="744" y="198" width="3" height="8" fill="#32cd32"/>
<rect x="749" y="177" width="1" height="34" fill="#ff0000"/>
<rect x="748" y="188" width="3" height="22" fill="#ff0000"/>
<rect x="749" y="189" width="1" height="20" fill="#ff4500"/>
<rect x="753" y="176" width="1" height="15" fill="#ff0000"/>
<rect x="752" y="178" width="3" height="11" fill="#ff0000"/>
<rect x="753" y="179" width="1" height="9" fill="#ff4500"/>
<rect x="757" y="176" width="1" height="11" fill="#32cd32"/>
<rect x="756" y="178" width="3" height="7" fill="#32cd32"/>
<rect x="761" y="167" width="1" height="20" fill="#ff0000"/>
<rect x="760" y="168" width="3" height="19" fill="#ff0000"/>
<rect x="761" y="169" width="1" height="17" fill="#ff4500"/>
<rect x="765" y="128" width="1" height="43" fill="#ff0000"/>
<rect x="764" y="130" width="3" height="40" fill="#ff0000"/>
<rect x="765" y="131" width="1" height="38" fill="#ff4500"/>
<rect x="769" y="127" width="1" height="14" fill="#32cd32"/>
<rect x="768" y="130" width="3" height="8" fill="#32cd32"/>
<rect x="773" y="114" width="1" height="22" fill="#ff0000"/>
<rect x="772" y="120" width="3" height="15" fill="#ff0000"/>
<rect x="773" y="121" width="1" height="13" fill="#ff4500"/>
<rect x="777" y="89" width="1" height="34" fill="#ff0000"/>
<rect x="776" y="91" width="3" height="30" fill="#ff0000"/>
<rect x="777" y="92" width="1" height="28" fill="#ff4500"/>
<rect x="781" y="87" width="1" height="17" fill="#32cd32"/>
<rect x="780" y="91" width="3" height="12" fill="#32cd32"/>
<rect x="785" y="98" width="1" height="33" fill="#32cd32"/>
<rect x="784" y="111" width="3" height="4" fill="#32cd32"/>
<rect x="789" y="112" width="1" height="64" fill="#32cd32"/>
<rect x="788" y="113" width="3" height="42" fill="#32cd32"/>
<rect x="793" y="146" width="1" height="11" fill="#ff0000"/>
<rect x="792" y="153" width="3" height="3" fill="#ff0000"/>
<rect x="793" y="154" width="1" height="1" fill="#ff4500"/>
<rect x="797" y="153" width="1" height="28" fill="#32cd32"/>
<rect x="796" y="171" width="3" height="5" fill="#32cd32"/>
<rect x="801" y="171" width="1" height="66" fill="#32cd32"/>
<rect x="800" y="173" width="3" height="59" fill="#32cd32"/>
<rect x="805" y="215" width="1" height="33" fill="#32cd32"/>
<rect x="804" y="230" width="3" height="13" fill="#32cd32"/>
<rect x="809" y="219" width="1" height="29" fill="#32cd32"/>
<rect x="808" y="242" width="3" height="3" fill="#32cd32"/>
<rect x="813" y="196" width="1" height="51" fill="#ff0000"/>
<rect x="812" y="198" width="3" height="47" fill="#ff0000"/>
<rect x="813" y="199" width="1" height="45" fill="#ff4500"/>
<rect x="817" y="193" width="1" height="16" fill="#ff0000"/>
<rect x="816" y="194" width="3" height="4" fill="#ff0000"/>
<rect x="817" y="195" width="1" height="2" fill="#ff4500"/>
<rect x="821" y="186" width="1" height="23" fill="#ff0000"/>
<rect x="820" y="199" width="3" height="7" fill="#ff0000"/>
<rect x="821" y="200" width="1" height="5" fill="#ff4500"/>
<rect x="825" y="188" width="1" height="27" fill="#32cd32"/>
<rect x="824" y="198" width="3" height="6" fill="#32cd32"/>
<rect x="829" y="197" width="1" height="26" fill="#ff0000"/>
<rect x="828" y="199" width="3" height="5" fill="#ff0000"/>
<rect x="829" y="200" width="1" height="3" fill="#ff4500"/>
<rect x="833" y="173" width="1" height="37" fill="#32cd32"/>
<rect x="832" y="199" width="3" height="8" fill="#32cd32"/>
<rect x="837" y="193" width="1" height="35" fill="#32cd32"/>
<rect x="836" y="205" width="3" height="17" fill="#32cd32"/>
<rect x="841" y="220" width="1" height="6" fill="#32cd32"/>
<rect x="840" y="220" width="3" height="5" fill="#32cd32"/>
<rect x="845" y="212" width="1" height="27" fill="#32cd32"/>
<rect x="844" y="223" width="3" height="10" fill="#32cd32"/>
<rect x="849" y="219" width="1" height="26" fill="#32cd32"/>
<rect x="848" y="231" width="3" height="9" fill="#32cd32"/>
<rect x="853" y="236" width="1" height="31" fill="#32cd32"/>
<rect x="852" y="238" width="3" height="19" fill="#32cd32"/>
<rect x="857" y="221" width="1" height="41" fill="#ff0000"/>
<rect x="856" y="249" width="3" height="8" fill="#ff0000"/>
<rect x="857" y="250" width="1" height="6" fill="#ff4500"/>
<rect x="861" y="240" width="1" height="35" fill="#32cd32"/>
<rect x="860" y="248" width="3" height="20" fill="#32cd32"/>
<rect x="865" y="263" width="1" height="13" fill="#32cd32"/>
<rect x="864" y="266" width="3" height="5" fill="#32cd32"/>
<rect x="869" y="275" width="1" height="52" fill="#32cd32"/>
<rect x="868" y="276" width="3" height="50" fill="#32cd32"/>
<rect x="873" y="320" width="1" height="25" fill="#32cd32"/>
<rect x="872" y="325" width="3" height="9" fill="#32cd32"/>
<rect x="877" y="323" width="1" height="22" fill="#32cd32"/>
<rect x="876" y="332" width="3" height="12" fill="#32cd32"/>
<rect x="881" y="322" width="1" height="57" fill="#32cd32"/>
<rect x="880" y="342" width="3" height="33" fill="#32cd32"/>
<rect x="885" y="370" width="1" height="23" fill="#32cd32"/>
<rect x="884" y="372" width="3" height="12" fill="#32cd32"/>
<rect x="889" y="374" width="1" height="15" fill="#ff0000"/>
<rect x="888" y="380" width="3" height="4" fill="#ff0000"/>
<rect x="889" y="381" width="1" height="2" fill="#ff4500"/>
<rect x="893" y="372" width="1" height="20" fill="#ff0000"/>
<rect x="892" y="382" width="3" height="9" fill="#ff0000"/>
<rect x="893" y="383" width="1" height="7" fill="#ff4500"/>
<rect x="897" y="347" width="1" height="49" fill="#ff0000"/>
<rect x="896" y="354" width="3" height="30" fill="#ff0000"/>
<rect x="897" y="355" width="1" height="28" fill="#ff4500"/>
<rect x="901" y="312" width="1" height="46" fill="#ff0000"/>
<rect x="900" y="338" width="3" height="17" fill="#ff0000"/>
<rect x="901" y="339" width="1" height="15" fill="#ff4500"/>
<rect x="905" y="320" width="1" height="31" fill="#32cd32"/>
<rect x="904" y="338" width="3" height="7" fill="#32cd32"/>
<rect x="909" y="338" width="1" height="74" fill="#32cd32"/>
<rect x="908" y="344" width="3" height="46" fill="#32cd32"/>
<rect x="913" y="386" width="1" height="16" fill="#32cd32"/>
<rect x="912" y="388" width="3" height="11" fill="#32cd32"/>
<rect x="917" y="370" width="1" height="38" fill="#ff0000"/>
<rect x="916" y="395" width="3" height="8" fill="#ff0000"/>
<rect x="917" y="396" width="1" height="6" fill="#ff4500"/>
<rect x="921" y="345" width="1" height="58" fill="#ff0000"/>
<rect x="920" y="358" width="3" height="38" fill="#ff0000"/>
<rect x="921" y="359" width="1" height="36" fill="#ff4500"/>
<rect x="925" y="347" width="1" height="24" fill="#ff0000"/>
<rect x="924" y="350" width="3" height="10" fill="#ff0000"/>
<rect x="925" y="351" width="1" height="8" fill="#ff4500"/></g>
  <!-- horizontal lines -->
  <rect x="5" y="87" width="1162" height="2" fill="#ff0000"/>
  <rect x="5" y="170" width="1162" height="2" fill="#ff0000"/>
  <rect x="5" y="252" width="1162" height="2" fill="#00ff00"/>
  <rect x="5" y="327" width="1162" height="2" fill="#0000ff"/>
  <rect x="5" y="401" width="1162" height="2" fill="#0000ff"/>
  <!-- markers -->
  <g>
    <rect x="4" y="168" width="6" height="6" fill="#ff0000"/><rect x="6" y="170" width="2" height="2" fill="#fff"/>
    <rect x="1161" y="168" width="6" height="6" fill="#ff0000"/><rect x="1163" y="170" width="2" height="2" fill="#fff"/>
    <rect x="4" y="250" width="6" height="6" fill="#00ff00"/><rect x="6" y="252" width="2" height="2" fill="#fff"/>
    <rect x="1161" y="250" width="6" height="6" fill="#00ff00"/><rect x="1163" y="252" width="2" height="2" fill="#fff"/>
    <rect x="4" y="325" width="6" height="6" fill="#0000ff"/><rect x="6" y="327" width="2" height="2" fill="#fff"/>
    <rect x="1161" y="325" width="6" height="6" fill="#0000ff"/><rect x="1163" y="327" width="2" height="2" fill="#fff"/>
    <rect x="4" y="399" width="6" height="6" fill="#0000ff"/><rect x="6" y="401" width="2" height="2" fill="#fff"/>
    <rect x="1161" y="399" width="6" height="6" fill="#0000ff"/><rect x="1163" y="401" width="2" height="2" fill="#fff"/>
  </g>
  <!-- MACD -->
  <g id="macd"><rect x="4" y="453" width="3" height="30" fill="#c0c0c0"/>
<rect x="8" y="453" width="3" height="31" fill="#c0c0c0"/>
<rect x="12" y="453" width="3" height="31" fill="#c0c0c0"/>
<rect x="16" y="453" width="3" height="30" fill="#c0c0c0"/>
<rect x="20" y="453" width="3" height="28" fill="#c0c0c0"/>
<rect x="24" y="453" width="3" height="25" fill="#c0c0c0"/>
<rect x="28" y="453" width="3" height="24" fill="#c0c0c0"/>
<rect x="32" y="453" width="3" height="22" fill="#c0c0c0"/>
<rect x="36" y="453" width="3" height="20" fill="#c0c0c0"/>
<rect x="40" y="453" width="3" height="19" fill="#c0c0c0"/>
<rect x="44" y="453" width="3" height="17" fill="#c0c0c0"/>
<rect x="48" y="453" width="3" height="15" fill="#c0c0c0"/>
<rect x="52" y="453" width="3" height="13" fill="#c0c0c0"/>
<rect x="56" y="453" width="3" height="9" fill="#c0c0c0"/>
<rect x="60" y="453" width="3" height="6" fill="#c0c0c0"/>
<rect x="64" y="453" width="3" height="4" fill="#c0c0c0"/>
<rect x="68" y="453" width="3" height="1" fill="#c0c0c0"/>
<rect x="72" y="451" width="3" height="2" fill="#c0c0c0"/>
<rect x="76" y="452" width="3" height="1" fill="#c0c0c0"/>
<rect x="80" y="452" width="3" height="1" fill="#c0c0c0"/>
<rect x="84" y="453" width="3" height="1" fill="#c0c0c0"/>
<rect x="88" y="453" width="3" height="3" fill="#c0c0c0"/>
<rect x="92" y="453" width="3" height="7" fill="#c0c0c0"/>
<rect x="96" y="453" width="3" height="10" fill="#c0c0c0"/>
<rect x="100" y="453" width="3" height="12" fill="#c0c0c0"/>
<rect x="104" y="453" width="3" height="14" fill="#c0c0c0"/>
<rect x="108" y="453" width="3" height="15" fill="#c0c0c0"/>
<rect x="112" y="453" width="3" height="13" fill="#c0c0c0"/>
<rect x="116" y="453" width="3" height="11" fill="#c0c0c0"/>
<rect x="120" y="453" width="3" height="10" fill="#c0c0c0"/>
<rect x="124" y="453" width="3" height="6" fill="#c0c0c0"/>
<rect x="128" y="453" width="3" height="3" fill="#c0c0c0"/>
<rect x="132" y="453" width="3" height="1" fill="#c0c0c0"/>
<rect x="136" y="450" width="3" height="3" fill="#c0c0c0"/>
<rect x="140" y="447" width="3" height="6" fill="#c0c0c0"/>
<rect x="144" y="444" width="3" height="9" fill="#c0c0c0"/>
<rect x="148" y="445" width="3" height="8" fill="#c0c0c0"/>
<rect x="152" y="444" width="3" height="9" fill="#c0c0c0"/>
<rect x="156" y="442" width="3" height="11" fill="#c0c0c0"/>
<rect x="160" y="441" width="3" height="12" fill="#c0c0c0"/>
<rect x="164" y="443" width="3" height="10" fill="#c0c0c0"/>
<rect x="168" y="444" width="3" height="9" fill="#c0c0c0"/>
<rect x="172" y="445" width="3" height="8" fill="#c0c0c0"/>
<rect x="176" y="448" width="3" height="5" fill="#c0c0c0"/>
<rect x="180" y="449" width="3" height="4" fill="#c0c0c0"/>
<rect x="184" y="449" width="3" height="4" fill="#c0c0c0"/>
<rect x="188" y="447" width="3" height="6" fill="#c0c0c0"/>
<rect x="192" y="445" width="3" height="8" fill="#c0c0c0"/>
<rect x="196" y="444" width="3" height="9" fill="#c0c0c0"/>
<rect x="200" y="444" width="3" height="9" fill="#c0c0c0"/>
<rect x="204" y="444" width="3" height="9" fill="#c0c0c0"/>
<rect x="208" y="441" width="3" height="12" fill="#c0c0c0"/>
<rect x="212" y="440" width="3" height="13" fill="#c0c0c0"/>
<rect x="216" y="440" width="3" height="13" fill="#c0c0c0"/>
<rect x="220" y="440" width="3" height="13" fill="#c0c0c0"/>
<rect x="224" y="442" width="3" height="11" fill="#c0c0c0"/>
<rect x="228" y="445" width="3" height="8" fill="#c0c0c0"/>
<rect x="232" y="448" width="3" height="5" fill="#c0c0c0"/>
<rect x="236" y="453" width="3" height="1" fill="#c0c0c0"/>
<rect x="240" y="453" width="3" height="4" fill="#c0c0c0"/>
<rect x="244" y="453" width="3" height="7" fill="#c0c0c0"/>
<rect x="248" y="453" width="3" height="11" fill="#c0c0c0"/>
<rect x="252" y="453" width="3" height="13" fill="#c0c0c0"/>
<rect x="256" y="453" width="3" height="16" fill="#c0c0c0"/>
<rect x="260" y="453" width="3" height="21" fill="#c0c0c0"/>
<rect x="264" y="453" width="3" height="25" fill="#c0c0c0"/>
<rect x="268" y="453" width="3" height="29" fill="#c0c0c0"/>
<rect x="272" y="453" width="3" height="32" fill="#c0c0c0"/>
<rect x="276" y="453" width="3" height="34" fill="#c0c0c0"/>
<rect x="280" y="453" width="3" height="33" fill="#c0c0c0"/>
<rect x="284" y="453" width="3" height="33" fill="#c0c0c0"/>
<rect x="288" y="453" width="3" height="32" fill="#c0c0c0"/>
<rect x="292" y="453" width="3" height="33" fill="#c0c0c0"/>
<rect x="296" y="453" width="3" height="31" fill="#c0c0c0"/>
<rect x="300" y="453" width="3" height="32" fill="#c0c0c0"/>
<rect x="304" y="453" width="3" height="31" fill="#c0c0c0"/>
<rect x="308" y="453" width="3" height="29" fill="#c0c0c0"/>
<rect x="312" y="453" width="3" height="28" fill="#c0c0c0"/>
<rect x="316" y="453" width="3" height="27" fill="#c0c0c0"/>
<rect x="320" y="453" width="3" height="25" fill="#c0c0c0"/>
<rect x="324" y="453" width="3" height="23" fill="#c0c0c0"/>
<rect x="328" y="453" width="3" height="23" fill="#c0c0c0"/>
<rect x="332" y="453" width="3" height="23" fill="#c0c0c0"/>
<rect x="336" y="453" width="3" height="23" fill="#c0c0c0"/>
<rect x="340" y="453" width="3" height="21" fill="#c0c0c0"/>
<rect x="344" y="453" width="3" height="20" fill="#c0c0c0"/>
<rect x="348" y="453" width="3" height="20" fill="#c0c0c0"/>
<rect x="352" y="453" width="3" height="20" fill="#c0c0c0"/>
<rect x="356" y="453" width="3" height="20" fill="#c0c0c0"/>
<rect x="360" y="453" width="3" height="20" fill="#c0c0c0"/>
<rect x="364" y="453" width="3" height="21" fill="#c0c0c0"/>
<rect x="368" y="453" width="3" height="19" fill="#c0c0c0"/>
<rect x="372" y="453" width="3" height="15" fill="#c0c0c0"/>
<rect x="376" y="453" width="3" height="11" fill="#c0c0c0"/>
<rect x="380" y="453" width="3" height="6" fill="#c0c0c0"/>
<rect x="384" y="453" width="3" height="2" fill="#c0c0c0"/>
<rect x="388" y="451" width="3" height="2" fill="#c0c0c0"/>
<rect x="392" y="448" width="3" height="5" fill="#c0c0c0"/>
<rect x="396" y="446" width="3" height="7" fill="#c0c0c0"/>
<rect x="400" y="444" width="3" height="9" fill="#c0c0c0"/>
<rect x="404" y="442" width="3" height="11" fill="#c0c0c0"/>
<rect x="408" y="441" width="3" height="12" fill="#c0c0c0"/>
<rect x="412" y="440" width="3" height="13" fill="#c0c0c0"/>
<rect x="416" y="441" width="3" height="12" fill="#c0c0c0"/>
<rect x="420" y="442" width="3" height="11" fill="#c0c0c0"/>
<rect x="424" y="446" width="3" height="7" fill="#c0c0c0"/>
<rect x="428" y="449" width="3" height="4" fill="#c0c0c0"/>
<rect x="432" y="453" width="3" height="1" fill="#c0c0c0"/>
<rect x="436" y="453" width="3" height="2" fill="#c0c0c0"/>
<rect x="440" y="453" width="3" height="3" fill="#c0c0c0"/>
<rect x="444" y="453" width="3" height="6" fill="#c0c0c0"/>
<rect x="448" y="453" width="3" height="7" fill="#c0c0c0"/>
<rect x="452" y="453" width="3" height="8" fill="#c0c0c0"/>
<rect x="456" y="453" width="3" height="9" fill="#c0c0c0"/>
<rect x="460" y="453" width="3" height="10" fill="#c0c0c0"/>
<rect x="464" y="453" width="3" height="13" fill="#c0c0c0"/>
<rect x="468" y="453" width="3" height="15" fill="#c0c0c0"/>
<rect x="472" y="453" width="3" height="14" fill="#c0c0c0"/>
<rect x="476" y="453" width="3" height="13" fill="#c0c0c0"/>
<rect x="480" y="453" width="3" height="11" fill="#c0c0c0"/>
<rect x="484" y="453" width="3" height="11" fill="#c0c0c0"/>
<rect x="488" y="453" width="3" height="12" fill="#c0c0c0"/>
<rect x="492" y="453" width="3" height="12" fill="#c0c0c0"/>
<rect x="496" y="453" width="3" height="10" fill="#c0c0c0"/>
<rect x="500" y="453" width="3" height="7" fill="#c0c0c0"/>
<rect x="504" y="453" width="3" height="4" fill="#c0c0c0"/>
<rect x="508" y="453" width="3" height="4" fill="#c0c0c0"/>
<rect x="512" y="453" width="3" height="4" fill="#c0c0c0"/>
<rect x="516" y="453" width="3" height="4" fill="#c0c0c0"/>
<rect x="520" y="453" width="3" height="1" fill="#c0c0c0"/>
<rect x="524" y="450" width="3" height="3" fill="#c0c0c0"/>
<rect x="528" y="447" width="3" height="6" fill="#c0c0c0"/>
<rect x="532" y="444" width="3" height="9" fill="#c0c0c0"/>
<rect x="536" y="442" width="3" height="11" fill="#c0c0c0"/>
<rect x="540" y="441" width="3" height="12" fill="#c0c0c0"/>
<rect x="544" y="442" width="3" height="11" fill="#c0c0c0"/>
<rect x="548" y="443" width="3" height="10" fill="#c0c0c0"/>
<rect x="552" y="443" width="3" height="10" fill="#c0c0c0"/>
<rect x="556" y="443" width="3" height="10" fill="#c0c0c0"/>
<rect x="560" y="442" width="3" height="11" fill="#c0c0c0"/>
<rect x="564" y="441" width="3" height="12" fill="#c0c0c0"/>
<rect x="568" y="439" width="3" height="14" fill="#c0c0c0"/>
<rect x="572" y="437" width="3" height="16" fill="#c0c0c0"/>
<rect x="576" y="435" width="3" height="18" fill="#c0c0c0"/>
<rect x="580" y="435" width="3" height="18" fill="#c0c0c0"/>
<rect x="584" y="435" width="3" height="18" fill="#c0c0c0"/>
<rect x="588" y="435" width="3" height="18" fill="#c0c0c0"/>
<rect x="592" y="436" width="3" height="17" fill="#c0c0c0"/>
<rect x="596" y="438" width="3" height="15" fill="#c0c0c0"/>
<rect x="600" y="440" width="3" height="13" fill="#c0c0c0"/>
<rect x="604" y="442" width="3" height="11" fill="#c0c0c0"/>
<rect x="608" y="445" width="3" height="8" fill="#c0c0c0"/>
<rect x="612" y="447" width="3" height="6" fill="#c0c0c0"/>
<rect x="616" y="451" width="3" height="2" fill="#c0c0c0"/>
<rect x="620" y="453" width="3" height="1" fill="#c0c0c0"/>
<rect x="624" y="453" width="3" height="1" fill="#c0c0c0"/>
<rect x="628" y="453" width="3" height="2" fill="#c0c0c0"/>
<rect x="632" y="453" width="3" height="2" fill="#c0c0c0"/>
<rect x="636" y="453" width="3" height="4" fill="#c0c0c0"/>
<rect x="640" y="453" width="3" height="5" fill="#c0c0c0"/>
<rect x="644" y="453" width="3" height="6" fill="#c0c0c0"/>
<rect x="648" y="453" width="3" height="7" fill="#c0c0c0"/>
<rect x="652" y="453" width="3" height="9" fill="#c0c0c0"/>
<rect x="656" y="453" width="3" height="9" fill="#c0c0c0"/>
<rect x="660" y="453" width="3" height="10" fill="#c0c0c0"/>
<rect x="664" y="453" width="3" height="11" fill="#c0c0c0"/>
<rect x="668" y="453" width="3" height="11" fill="#c0c0c0"/>
<rect x="672" y="453" width="3" height="12" fill="#c0c0c0"/>
<rect x="676" y="453" width="3" height="9" fill="#c0c0c0"/>
<rect x="680" y="453" width="3" height="6" fill="#c0c0c0"/>
<rect x="684" y="453" width="3" height="3" fill="#c0c0c0"/>
<rect x="688" y="453" width="3" height="2" fill="#c0c0c0"/>
<rect x="692" y="453" width="3" height="1" fill="#c0c0c0"/>
<rect x="696" y="453" width="3" height="1" fill="#c0c0c0"/>
<rect x="700" y="452" width="3" height="1" fill="#c0c0c0"/>
<rect x="704" y="453" width="3" height="1" fill="#c0c0c0"/>
<rect x="708" y="451" width="3" height="2" fill="#c0c0c0"/>
<rect x="712" y="447" width="3" height="6" fill="#c0c0c0"/>
<rect x="716" y="446" width="3" height="7" fill="#c0c0c0"/>
<rect x="720" y="445" width="3" height="8" fill="#c0c0c0"/>
<rect x="724" y="443" width="3" height="10" fill="#c0c0c0"/>
<rect x="728" y="444" width="3" height="9" fill="#c0c0c0"/>
<rect x="732" y="444" width="3" height="9" fill="#c0c0c0"/>
<rect x="736" y="443" width="3" height="10" fill="#c0c0c0"/>
<rect x="740" y="442" width="3" height="11" fill="#c0c0c0"/>
<rect x="744" y="441" width="3" height="12" fill="#c0c0c0"/>
<rect x="748" y="440" width="3" height="13" fill="#c0c0c0"/>
<rect x="752" y="438" width="3" height="15" fill="#c0c0c0"/>
<rect x="756" y="438" width="3" height="15" fill="#c0c0c0"/>
<rect x="760" y="436" width="3" height="17" fill="#c0c0c0"/>
<rect x="764" y="433" width="3" height="20" fill="#c0c0c0"/>
<rect x="768" y="432" width="3" height="21" fill="#c0c0c0"/>
<rect x="772" y="430" width="3" height="23" fill="#c0c0c0"/>
<rect x="776" y="427" width="3" height="26" fill="#c0c0c0"/>
<rect x="780" y="425" width="3" height="28" fill="#c0c0c0"/>
<rect x="784" y="425" width="3" height="28" fill="#c0c0c0"/>
<rect x="788" y="428" width="3" height="25" fill="#c0c0c0"/>
<rect x="792" y="430" width="3" height="23" fill="#c0c0c0"/>
<rect x="796" y="433" width="3" height="20" fill="#c0c0c0"/>
<rect x="800" y="439" width="3" height="14" fill="#c0c0c0"/>
<rect x="804" y="444" width="3" height="9" fill="#c0c0c0"/>
<rect x="808" y="449" width="3" height="4" fill="#c0c0c0"/>
<rect x="812" y="450" width="3" height="3" fill="#c0c0c0"/>
<rect x="816" y="450" width="3" height="3" fill="#c0c0c0"/>
<rect x="820" y="451" width="3" height="2" fill="#c0c0c0"/>
<rect x="824" y="452" width="3" height="1" fill="#c0c0c0"/>
<rect x="828" y="452" width="3" height="1" fill="#c0c0c0"/>
<rect x="832" y="453" width="3" height="1" fill="#c0c0c0"/>
<rect x="836" y="453" width="3" height="1" fill="#c0c0c0"/>
<rect x="840" y="453" width="3" height="3" fill="#c0c0c0"/>
<rect x="844" y="453" width="3" height="4" fill="#c0c0c0"/>
<rect x="848" y="453" width="3" height="5" fill="#c0c0c0"/>
<rect x="852" y="453" width="3" height="7" fill="#c0c0c0"/>
<rect x="856" y="453" width="3" height="9" fill="#c0c0c0"/>
<rect x="860" y="453" width="3" height="10" fill="#c0c0c0"/>
<rect x="864" y="453" width="3" height="12" fill="#c0c0c0"/>
<rect x="868" y="453" width="3" height="16" fill="#c0c0c0"/>
<rect x="872" y="453" width="3" height="19" fill="#c0c0c0"/>
<rect x="876" y="453" width="3" height="22" fill="#c0c0c0"/>
<rect x="880" y="453" width="3" height="26" fill="#c0c0c0"/>
<rect x="884" y="453" width="3" height="29" fill="#c0c0c0"/>
<rect x="888" y="453" width="3" height="31" fill="#c0c0c0"/>
<rect x="892" y="453" width="3" height="33" fill="#c0c0c0"/>
<rect x="896" y="453" width="3" height="32" fill="#c0c0c0"/>
<rect x="900" y="453" width="3" height="30" fill="#c0c0c0"/>
<rect x="904" y="453" width="3" height="28" fill="#c0c0c0"/>
<rect x="908" y="453" width="3" height="29" fill="#c0c0c0"/>
<rect x="912" y="453" width="3" height="30" fill="#c0c0c0"/>
<rect x="916" y="453" width="3" height="30" fill="#c0c0c0"/>
<rect x="920" y="453" width="3" height="28" fill="#c0c0c0"/>
<rect x="924" y="453" width="3" height="26" fill="#c0c0c0"/>
<path d="M5 477h1v1h-1zM6 478h1v1h-1zM7 478h1v1h-1zM8 479h1v1h-1zM9 479h1v1h-1zM10 479h1v1h-1zM11 480h1v1h-1zM12 480h1v1h-1zM13 480h1v1h-1zM14 480h1v1h-1zM15 481h1v1h-1zM16 481h1v1h-1zM17 481h1v1h-1zM18 481h1v1h-1zM19 481h1v1h-1zM20 481h1v1h-1zM21 481h1v1h-1zM22 481h1v1h-1zM23 481h1v1h-1zM24 481h1v1h-1zM25 481h1v1h-1zM26 481h1v1h-1zM27 481h1v1h-1zM28 481h1v1h-1zM29 481h1v1h-1zM30 481h1v1h-1zM31 481h1v1h-1zM32 481h1v1h-1zM33 481h1v1h-1zM34 481h1v1h-1zM35 480h1v1h-1zM36 480h1v1h-1zM37 480h1v1h-1zM38 480h1v1h-1zM39 479h1v1h-1zM40 479h1v1h-1zM41 479h1v1h-1zM42 478h1v1h-1zM43 478h1v1h-1zM44 477h1v1h-1zM45 477h1v1h-1zM46 476h1v1h-1zM47 476h1v1h-1zM48 475h1v1h-1zM49 475h1v1h-1zM50 474h1v1h-1zM51 474h1v1h-1zM52 473h1v1h-1zM53 473h1v1h-1zM54 472h1v1h-1zM55 472h1v1h-1zM56 471h1v1h-1zM57 471h1v1h-1zM58 470h1v1h-1zM59 470h1v1h-1zM60 469h1v1h-1zM61 469h1v1h-1zM62 468h1v1h-1zM63 468h1v1h-1zM64 467h1v1h-1zM65 467h1v1h-1zM66 466h1v1h-1zM67 466h1v1h-1zM68 465h1v1h-1zM69 465h1v1h-1zM70 464h1v1h-1zM71 463h1v1h-1zM72 463h1v1h-1zM73 462h1v1h-1zM74 461h1v1h-1zM75 461h1v1h-1zM76 460h1v1h-1zM77 460h1v1h-1zM78 459h1v1h-1zM79 459h1v1h-1zM80 458h1v1h-1zM81 458h1v1h-1zM82 457h1v1h-1zM83 457h1v1h-1zM84 456h1v1h-1zM85 456h1v1h-1zM86 456h1v1h-1zM87 455h1v1h-1zM88 455h1v1h-1zM89 455h1v1h-1zM90 455h1v1h-1zM91 455h1v1h-1zM92 455h1v1h-1zM93 455h1v1h-1zM94 455h1v1h-1zM95 455h1v1h-1zM96 455h1v1h-1zM97 455h1v1h-1zM98 455h1v1h-1zM99 456h1v1h-1zM100 456h1v1h-1zM101 456h1v1h-1zM102 457h1v1h-1zM103 457h1v1h-1zM104 458h1v1h-1zM105 458h1v1h-1zM106 458h1v1h-1zM107 459h1v1h-1zM108 459h1v1h-1zM109 459h1v1h-1zM110 460h1v1h-1zM111 460h1v1h-1zM112 461h1v1h-1zM113 461h1v1h-1zM114 461h1v1h-1zM115 462h1v1h-1zM116 462h1v1h-1zM117 462h1v1h-1zM118 462h1v1h-1zM119 463h1v1h-1zM120 463h1v1h-1zM121 463h1v1h-1zM122 463h1v1h-1zM123 464h1v1h-1zM124 464h1v1h-1zM125 464h1v1h-1zM126 464h1v1h-1zM127 463h1v1h-1zM128 463h1v1h-1zM129 463h1v1h-1zM130 463h1v1h-1zM131 462h1v1h-1zM132 462h1v1h-1zM133 462h1v1h-1zM134 462h1v1h-1zM135 461h1v1h-1zM136 461h1v1h-1zM137 461h1v1h-1zM138 460h1v1h-1zM139 459h1v1h-1zM140 459h1v1h-1zM141 458h1v1h-1zM142 457h1v1h-1zM143 457h1v1h-1zM144 456h1v1h-1zM145 456h1v1h-1zM146 455h1v1h-1zM147 454h1v1h-1zM148 454h1v1h-1zM149 453h1v1h-1zM150 452h1v1h-1zM151 452h1v1h-1zM152 451h1v1h-1zM153 451h1v1h-1zM154 450h1v1h-1zM155 450h1v1h-1zM156 449h1v1h-1zM157 449h1v1h-1zM158 448h1v1h-1zM159 448h1v1h-1zM160 447h1v1h-1zM161 447h1v1h-1zM162 446h1v1h-1zM163 446h1v1h-1zM164 445h1v1h-1zM165 445h1v1h-1zM166 445h1v1h-1zM167 444h1v1h-1zM168 444h1v1h-1zM169 444h1v1h-1zM170 444h1v1h-1zM171 444h1v1h-1zM172 444h1v1h-1zM173 444h1v1h-1zM174 444h1v1h-1zM175 444h1v1h-1zM176 444h1v1h-1zM177 444h1v1h-1zM178 444h1v1h-1zM179 445h1v1h-1zM180 445h1v1h-1zM181 445h1v1h-1zM182 445h1v1h-1zM183 445h1v1h-1zM184 445h1v1h-1zM185 445h1v1h-1zM186 445h1v1h-1zM187 445h1v1h-1zM188 445h1v1h-1zM189 445h1v1h-1zM190 445h1v1h-1zM191 446h1v1h-1zM192 446h1v1h-1zM193 446h1v1h-1zM194 446h1v1h-1zM195 446h1v1h-1zM196 446h1v1h-1zM197 446h1v1h-1zM198 446h1v1h-1zM199 446h1v1h-1zM200 446h1v1h-1zM201 446h1v1h-1zM202 446h1v1h-1zM203 446h1v1h-1zM204 446h1v1h-1zM205 446h1v1h-1zM206 446h1v1h-1zM207 446h1v1h-1zM208 446h1v1h-1zM209 446h1v1h-1zM210 446h1v1h-1zM211 445h1v1h-1zM212 445h1v1h-1zM213 445h1v1h-1zM214 445h1v1h-1zM215 444h1v1h-1zM216 444h1v1h-1zM217 444h1v1h-1zM218 444h1v1h-1zM219 443h1v1h-1zM220 443h1v1h-1zM221 443h1v1h-1zM222 443h1v1h-1zM223 442h1v1h-1zM224 442h1v1h-1zM225 442h1v1h-1zM226 442h1v1h-1zM227 442h1v1h-1zM228 442h1v1h-1zM229 442h1v1h-1zM230 442h1v1h-1zM231 442h1v1h-1zM232 442h1v1h-1zM233 442h1v1h-1zM234 442h1v1h-1zM235 443h1v1h-1zM236 443h1v1h-1zM237 443h1v1h-1zM238 444h1v1h-1zM239 444h1v1h-1zM240 445h1v1h-1zM241 445h1v1h-1zM242 446h1v1h-1zM243 446h1v1h-1zM244 447h1v1h-1zM245 447h1v1h-1zM246 448h1v1h-1zM247 449h1v1h-1zM248 449h1v1h-1zM249 450h1v1h-1zM250 451h1v1h-1zM251 452h1v1h-1zM252 452h1v1h-1zM253 453h1v1h-1zM254 454h1v1h-1zM255 455h1v1h-1zM256 455h1v1h-1zM257 456h1v1h-1zM258 457h1v1h-1zM259 458h1v1h-1zM260 459h1v1h-1zM261 460h1v1h-1zM262 461h1v1h-1zM263 462h1v1h-1zM264 462h1v1h-1zM265 463h1v1h-1zM266 464h1v1h-1zM267 465h1v1h-1zM268 466h1v1h-1zM269 467h1v1h-1zM270 468h1v1h-1zM271 469h1v1h-1zM272 469h1v1h-1zM273 470h1v1h-1zM274 471h1v1h-1zM275 472h1v1h-1zM276 473h1v1h-1zM277 474h1v1h-1zM278 475h1v1h-1zM279 476h1v1h-1zM280 476h1v1h-1zM281 477h1v1h-1zM282 478h1v1h-1zM283 478h1v1h-1zM284 479h1v1h-1zM285 479h1v1h-1zM286 480h1v1h-1zM287 480h1v1h-1zM288 481h1v1h-1zM289 481h1v1h-1zM290 482h1v1h-1zM291 482h1v1h-1zM292 483h1v1h-1zM293 483h1v1h-1zM294 483h1v1h-1zM295 484h1v1h-1zM296 484h1v1h-1zM297 484h1v1h-1zM298 484h1v1h-1zM299 485h1v1h-1zM300 485h1v1h-1zM301 485h1v1h-1zM302 485h1v1h-1zM303 485h1v1h-1zM304 485h1v1h-1zM305 485h1v1h-1zM306 485h1v1h-1zM307 485h1v1h-1zM308 485h1v1h-1zM309 485h1v1h-1zM310 485h1v1h-1zM311 484h1v1h-1zM312 484h1v1h-1zM313 484h1v1h-1zM314 484h1v1h-1zM315 484h1v1h-1zM316 484h1v1h-1zM317 484h1v1h-1zM318 484h1v1h-1zM319 483h1v1h-1zM320 483h1v1h-1zM321 483h1v1h-1zM322 483h1v1h-1zM323 482h1v1h-1zM324 482h1v1h-1zM325 482h1v1h-1zM326 482h1v1h-1zM327 481h1v1h-1zM328 481h1v1h-1zM329 481h1v1h-1zM330 481h1v1h-1zM331 480h1v1h-1zM332 480h1v1h-1zM333 480h1v1h-1zM334 480h1v1h-1zM335 479h1v1h-1zM336 479h1v1h-1zM337 479h1v1h-1zM338 479h1v1h-1zM339 478h1v1h-1zM340 478h1v1h-1zM341 478h1v1h-1zM342 478h1v1h-1zM343 477h1v1h-1zM344 477h1v1h-1zM345 477h1v1h-1zM346 477h1v1h-1zM347 476h1v1h-1zM348 476h1v1h-1zM349 476h1v1h-1zM350 476h1v1h-1zM351 475h1v1h-1zM352 475h1v1h-1zM353 475h1v1h-1zM354 475h1v1h-1zM355 474h1v1h-1zM356 474h1v1h-1zM357 474h1v1h-1zM358 474h1v1h-1zM359 474h1v1h-1zM360 474h1v1h-1zM361 474h1v1h-1zM362 474h1v1h-1zM363 474h1v1h-1zM364 474h1v1h-1zM365 474h1v1h-1zM366 474h1v1h-1zM367 473h1v1h-1zM368 473h1v1h-1zM369 473h1v1h-1zM370 473h1v1h-1zM371 472h1v1h-1zM372 472h1v1h-1zM373 472h1v1h-1zM374 472h1v1h-1zM375 471h1v1h-1zM376 471h1v1h-1zM377 471h1v1h-1zM378 471h1v1h-1zM379 470h1v1h-1zM380 470h1v1h-1zM381 470h1v1h-1zM382 469h1v1h-1zM383 469h1v1h-1zM384 468h1v1h-1zM385 468h1v1h-1zM386 467h1v1h-1zM387 466h1v1h-1zM388 466h1v1h-1zM389 465h1v1h-1zM390 464h1v1h-1zM391 463h1v1h-1zM392 463h1v1h-1zM393 462h1v1h-1zM394 461h1v1h-1zM395 460h1v1h-1zM396 460h1v1h-1zM397 459h1v1h-1zM398 458h1v1h-1zM399 457h1v1h-1zM400 457h1v1h-1zM401 456h1v1h-1zM402 455h1v1h-1zM403 454h1v1h-1zM404 454h1v1h-1zM405 453h1v1h-1zM406 452h1v1h-1zM407 451h1v1h-1zM408 451h1v1h-1zM409 450h1v1h-1zM410 449h1v1h-1zM411 448h1v1h-1zM412 448h1v1h-1zM413 447h1v1h-1zM414 446h1v1h-1zM415 446h1v1h-1zM416 445h1v1h-1zM417 445h1v1h-1zM418 445h1v1h-1zM419 444h1v1h-1zM420 444h1v1h-1zM421 444h1v1h-1zM422 444h1v1h-1zM423 443h1v1h-1zM424 443h1v1h-1zM425 443h1v1h-1zM426 443h1v1h-1zM427 443h1v1h-1zM428 443h1v1h-1zM429 443h1v1h-1zM430 443h1v1h-1zM431 444h1v1h-1zM432 444h1v1h-1zM433 444h1v1h-1zM434 444h1v1h-1zM435 445h1v1h-1zM436 445h1v1h-1zM437 445h1v1h-1zM438 446h1v1h-1zM439 446h1v1h-1zM440 447h1v1h-1zM441 447h1v1h-1zM442 448h1v1h-1zM443 448h1v1h-1zM444 449h1v1h-1zM445 449h1v1h-1zM446 450h1v1h-1zM447 450h1v1h-1zM448 451h1v1h-1zM449 451h1v1h-1zM450 452h1v1h-1zM451 452h1v1h-1zM452 453h1v1h-1zM453 453h1v1h-1zM454 454h1v1h-1zM455 455h1v1h-1zM456 455h1v1h-1zM457 456h1v1h-1zM458 457h1v1h-1zM459 457h1v1h-1zM460 458h1v1h-1zM461 458h1v1h-1zM462 458h1v1h-1zM463 459h1v1h-1zM464 459h1v1h-1zM465 459h1v1h-1zM466 460h1v1h-1zM467 460h1v1h-1zM468 461h1v1h-1zM469 461h1v1h-1zM470 462h1v1h-1zM471 462h1v1h-1zM472 463h1v1h-1zM473 463h1v1h-1zM474 463h1v1h-1zM475 464h1v1h-1zM476 464h1v1h-1zM477 464h1v1h-1zM478 464h1v1h-1zM479 464h1v1h-1zM480 464h1v1h-1zM481 464h1v1h-1zM482 464h1v1h-1zM483 465h1v1h-1zM484 465h1v1h-1zM485 465h1v1h-1zM486 465h1v1h-1zM487 465h1v1h-1zM488 465h1v1h-1zM489 465h1v1h-1zM490 465h1v1h-1zM491 465h1v1h-1zM492 465h1v1h-1zM493 465h1v1h-1zM494 465h1v1h-1zM495 465h1v1h-1zM496 465h1v1h-1zM497 465h1v1h-1zM498 465h1v1h-1zM499 465h1v1h-1zM500 465h1v1h-1zM501 465h1v1h-1zM502 465h1v1h-1zM503 464h1v1h-1zM504 464h1v1h-1zM505 464h1v1h-1zM506 463h1v1h-1zM507 463h1v1h-1zM508 462h1v1h-1zM509 462h1v1h-1zM510 462h1v1h-1zM511 461h1v1h-1zM512 461h1v1h-1zM513 461h1v1h-1zM514 461h1v1h-1zM515 461h1v1h-1zM516 461h1v1h-1zM517 461h1v1h-1zM518 461h1v1h-1zM519 460h1v1h-1zM520 460h1v1h-1zM521 460h1v1h-1zM522 459h1v1h-1zM523 459h1v1h-1zM524 458h1v1h-1zM525 458h1v1h-1zM526 457h1v1h-1zM527 457h1v1h-1zM528 456h1v1h-1zM529 456h1v1h-1zM530 455h1v1h-1zM531 455h1v1h-1zM532 454h1v1h-1zM533 454h1v1h-1zM534 453h1v1h-1zM535 453h1v1h-1zM536 452h1v1h-1zM537 452h1v1h-1zM538 451h1v1h-1zM539 451h1v1h-1zM540 450h1v1h-1zM541 450h1v1h-1zM542 449h1v1h-1zM543 449h1v1h-1zM544 448h1v1h-1zM545 448h1v1h-1zM546 448h1v1h-1zM547 447h1v1h-1zM548 447h1v1h-1zM549 447h1v1h-1zM550 446h1v1h-1zM551 446h1v1h-1zM552 445h1v1h-1zM553 445h1v1h-1zM554 445h1v1h-1zM555 444h1v1h-1zM556 444h1v1h-1zM557 444h1v1h-1zM558 444h1v1h-1zM559 443h1v1h-1zM560 443h1v1h-1zM561 443h1v1h-1zM562 443h1v1h-1zM563 442h1v1h-1zM564 442h1v1h-1zM565 442h1v1h-1zM566 442h1v1h-1zM567 442h1v1h-1zM568 442h1v1h-1zM569 442h1v1h-1zM570 442h1v1h-1zM571 441h1v1h-1zM572 441h1v1h-1zM573 441h1v1h-1zM574 441h1v1h-1zM575 441h1v1h-1zM576 441h1v1h-1zM577 441h1v1h-1zM578 441h1v1h-1zM579 440h1v1h-1zM580 440h1v1h-1zM581 440h1v1h-1zM582 440h1v1h-1zM583 439h1v1h-1zM584 439h1v1h-1zM585 439h1v1h-1zM586 439h1v1h-1zM587 438h1v1h-1zM588 438h1v1h-1zM589 438h1v1h-1zM590 438h1v1h-1zM591 437h1v1h-1zM592 437h1v1h-1zM593 437h1v1h-1zM594 437h1v1h-1zM595 437h1v1h-1zM596 437h1v1h-1zM597 437h1v1h-1zM598 437h1v1h-1zM599 437h1v1h-1zM600 437h1v1h-1zM601 437h1v1h-1zM602 437h1v1h-1zM603 437h1v1h-1zM604 437h1v1h-1zM605 437h1v1h-1zM606 437h1v1h-1zM607 438h1v1h-1zM608 438h1v1h-1zM609 438h1v1h-1zM610 438h1v1h-1zM611 439h1v1h-1zM612 439h1v1h-1zM613 439h1v1h-1zM614 440h1v1h-1zM615 440h1v1h-1zM616 441h1v1h-1zM617 441h1v1h-1zM618 442h1v1h-1zM619 442h1v1h-1zM620 443h1v1h-1zM621 443h1v1h-1zM622 444h1v1h-1zM623 444h1v1h-1zM624 445h1v1h-1zM625 445h1v1h-1zM626 446h1v1h-1zM627 446h1v1h-1zM628 447h1v1h-1zM629 447h1v1h-1zM630 448h1v1h-1zM631 448h1v1h-1zM632 449h1v1h-1zM633 449h1v1h-1zM634 450h1v1h-1zM635 450h1v1h-1zM636 451h1v1h-1zM637 451h1v1h-1zM638 452h1v1h-1zM639 452h1v1h-1zM640 453h1v1h-1zM641 453h1v1h-1zM642 453h1v1h-1zM643 454h1v1h-1zM644 454h1v1h-1zM645 454h1v1h-1zM646 455h1v1h-1zM647 455h1v1h-1zM648 456h1v1h-1zM649 456h1v1h-1zM650 456h1v1h-1zM651 457h1v1h-1zM652 457h1v1h-1zM653 457h1v1h-1zM654 457h1v1h-1zM655 458h1v1h-1zM656 458h1v1h-1zM657 458h1v1h-1zM658 458h1v1h-1zM659 459h1v1h-1zM660 459h1v1h-1zM661 459h1v1h-1zM662 459h1v1h-1zM663 460h1v1h-1zM664 460h1v1h-1zM665 460h1v1h-1zM666 460h1v1h-1zM667 461h1v1h-1zM668 461h1v1h-1zM669 461h1v1h-1zM670 461h1v1h-1zM671 462h1v1h-1zM672 462h1v1h-1zM673 462h1v1h-1zM674 462h1v1h-1zM675 462h1v1h-1zM676 462h1v1h-1zM677 462h1v1h-1zM678 462h1v1h-1zM679 462h1v1h-1zM680 462h1v1h-1zM681 462h1v1h-1zM682 462h1v1h-1zM683 462h1v1h-1zM684 462h1v1h-1zM685 462h1v1h-1zM686 462h1v1h-1zM687 461h1v1h-1zM688 461h1v1h-1zM689 461h1v1h-1zM690 461h1v1h-1zM691 460h1v1h-1zM692 460h1v1h-1zM693 460h1v1h-1zM694 460h1v1h-1zM695 459h1v1h-1zM696 459h1v1h-1zM697 459h1v1h-1zM698 459h1v1h-1zM699 458h1v1h-1zM700 458h1v1h-1zM701 458h1v1h-1zM702 458h1v1h-1zM703 457h1v1h-1zM704 457h1v1h-1zM705 457h1v1h-1zM706 456h1v1h-1zM707 456h1v1h-1zM708 455h1v1h-1zM709 455h1v1h-1zM710 454h1v1h-1zM711 454h1v1h-1zM712 453h1v1h-1zM713 453h1v1h-1zM714 453h1v1h-1zM715 452h1v1h-1zM716 452h1v1h-1zM717 452h1v1h-1zM718 452h1v1h-1zM719 451h1v1h-1zM720 451h1v1h-1zM721 451h1v1h-1zM722 450h1v1h-1zM723 450h1v1h-1zM724 449h1v1h-1zM725 449h1v1h-1zM726 449h1v1h-1zM727 448h1v1h-1zM728 448h1v1h-1zM729 448h1v1h-1zM730 448h1v1h-1zM731 447h1v1h-1zM732 447h1v1h-1zM733 447h1v1h-1zM734 447h1v1h-1zM735 446h1v1h-1zM736 446h1v1h-1zM737 446h1v1h-1zM738 446h1v1h-1zM739 445h1v1h-1zM740 445h1v1h-1zM741 445h1v1h-1zM742 445h1v1h-1zM743 444h1v1h-1zM744 444h1v1h-1zM745 444h1v1h-1zM746 444h1v1h-1zM747 443h1v1h-1zM748 443h1v1h-1zM749 443h1v1h-1zM750 443h1v1h-1zM751 442h1v1h-1zM752 442h1v1h-1zM753 442h1v1h-1zM754 442h1v1h-1zM755 441h1v1h-1zM756 441h1v1h-1zM757 441h1v1h-1zM758 441h1v1h-1zM759 441h1v1h-1zM760 441h1v1h-1zM761 441h1v1h-1zM762 441h1v1h-1zM763 440h1v1h-1zM764 440h1v1h-1zM765 440h1v1h-1zM766 439h1v1h-1zM767 439h1v1h-1zM768 438h1v1h-1zM769 438h1v1h-1zM770 438h1v1h-1zM771 437h1v1h-1zM772 437h1v1h-1zM773 437h1v1h-1zM774 436h1v1h-1zM775 436h1v1h-1zM776 435h1v1h-1zM777 435h1v1h-1zM778 434h1v1h-1zM779 434h1v1h-1zM780 433h1v1h-1zM781 433h1v1h-1zM782 433h1v1h-1zM783 432h1v1h-1zM784 432h1v1h-1zM785 432h1v1h-1zM786 431h1v1h-1zM787 431h1v1h-1zM788 430h1v1h-1zM789 430h1v1h-1zM790 430h1v1h-1zM791 430h1v1h-1zM792 430h1v1h-1zM793 430h1v1h-1zM794 430h1v1h-1zM795 429h1v1h-1zM796 429h1v1h-1zM797 429h1v1h-1zM798 429h1v1h-1zM799 430h1v1h-1zM800 430h1v1h-1zM801 430h1v1h-1zM802 430h1v1h-1zM803 431h1v1h-1zM804 431h1v1h-1zM805 431h1v1h-1zM806 432h1v1h-1zM807 432h1v1h-1zM808 433h1v1h-1zM809 433h1v1h-1zM810 434h1v1h-1zM811 435h1v1h-1zM812 435h1v1h-1zM813 436h1v1h-1zM814 437h1v1h-1zM815 438h1v1h-1zM816 438h1v1h-1zM817 439h1v1h-1zM818 440h1v1h-1zM819 441h1v1h-1zM820 441h1v1h-1zM821 442h1v1h-1zM822 443h1v1h-1zM823 443h1v1h-1zM824 444h1v1h-1zM825 444h1v1h-1zM826 445h1v1h-1zM827 446h1v1h-1zM828 446h1v1h-1zM829 447h1v1h-1zM830 448h1v1h-1zM831 448h1v1h-1zM832 449h1v1h-1zM833 449h1v1h-1zM834 450h1v1h-1zM835 450h1v1h-1zM836 451h1v1h-1zM837 451h1v1h-1zM838 451h1v1h-1zM839 452h1v1h-1zM840 452h1v1h-1zM841 452h1v1h-1zM842 452h1v1h-1zM843 453h1v1h-1zM844 453h1v1h-1zM845 453h1v1h-1zM846 453h1v1h-1zM847 454h1v1h-1zM848 454h1v1h-1zM849 454h1v1h-1zM850 454h1v1h-1zM851 455h1v1h-1zM852 455h1v1h-1zM853 455h1v1h-1zM854 455h1v1h-1zM855 456h1v1h-1zM856 456h1v1h-1zM857 456h1v1h-1zM858 456h1v1h-1zM859 457h1v1h-1zM860 457h1v1h-1zM861 457h1v1h-1zM862 458h1v1h-1zM863 458h1v1h-1zM864 459h1v1h-1zM865 459h1v1h-1zM866 459h1v1h-1zM867 460h1v1h-1zM868 460h1v1h-1zM869 460h1v1h-1zM870 461h1v1h-1zM871 461h1v1h-1zM872 462h1v1h-1zM873 462h1v1h-1zM874 463h1v1h-1zM875 464h1v1h-1zM876 464h1v1h-1zM877 465h1v1h-1zM878 466h1v1h-1zM879 466h1v1h-1zM880 467h1v1h-1zM881 467h1v1h-1zM882 468h1v1h-1zM883 469h1v1h-1zM884 469h1v1h-1zM885 470h1v1h-1zM886 471h1v1h-1zM887 471h1v1h-1zM888 472h1v1h-1zM889 472h1v1h-1zM890 473h1v1h-1zM891 474h1v1h-1zM892 474h1v1h-1zM893 475h1v1h-1zM894 476h1v1h-1zM895 476h1v1h-1zM896 477h1v1h-1zM897 477h1v1h-1zM898 478h1v1h-1zM899 478h1v1h-1zM900 479h1v1h-1zM901 479h1v1h-1zM902 480h1v1h-1zM903 480h1v1h-1zM904 481h1v1h-1zM905 481h1v1h-1zM906 481h1v1h-1zM907 482h1v1h-1zM908 482h1v1h-1zM909 482h1v1h-1zM910 482h1v1h-1zM911 483h1v1h-1zM912 483h1v1h-1zM913 483h1v1h-1zM914 483h1v1h-1zM915 483h1v1h-1zM916 483h1v1h-1zM917 483h1v1h-1zM918 483h1v1h-1zM919 483h1v1h-1zM920 483h1v1h-1zM921 483h1v1h-1zM922 483h1v1h-1zM923 483h1v1h-1zM924 483h1v1h-1zM925 483h1v1h-1z" fill="#ff0000"/></g>
  <rect x="5" y="453" width="1162" height="1" fill="none"/>
  <!-- RSI -->
  <g>
    <line x1="6" y1="518.5" x2="1167" y2="518.5" stroke="#c0c0c0" stroke-width="1" stroke-dasharray="3,3"/>
    <line x1="6" y1="551.5" x2="1167" y2="551.5" stroke="#c0c0c0" stroke-width="1" stroke-dasharray="3,3"/>
  </g>
  <g id="rsi"><path d="M5 547h1v1h-1zM6 548h1v1h-1zM7 549h1v1h-1zM8 550h1v1h-1zM9 551h1v1h-1zM10 551h1v1h-1zM11 550h1v1h-1zM12 550h1v1h-1zM13 550h1v1h-1zM14 549h1v1h-1zM15 548h1v1h-1zM16 548h1v1h-1zM17 547h1v1h-1zM18 546h1v1h-1zM19 545h1v1h-1zM20 544h1v1h-1zM21 543h1v1h-1zM22 542h1v1h-1zM23 541h1v1h-1zM24 541h1v1h-1zM25 540h1v1h-1zM26 541h1v1h-1zM27 541h1v1h-1zM28 542h1v1h-1zM29 542h1v1h-1zM30 541h1v1h-1zM31 540h1v1h-1zM32 540h1v1h-1zM33 539h1v1h-1zM34 540h1v1h-1zM35 541h1v1h-1zM36 541h1v1h-1zM37 542h1v1h-1zM38 542h1v1h-1zM39 542h1v1h-1zM40 542h1v1h-1zM41 542h1v1h-1zM42 541h1v1h-1zM43 540h1v1h-1zM44 539h1v1h-1zM45 538h1v1h-1zM46 538h1v1h-1zM47 537h1v1h-1zM48 537h1v1h-1zM49 537h1v1h-1zM50 536h1v1h-1zM51 535h1v1h-1zM52 535h1v1h-1zM53 534h1v1h-1zM54 533h1v1h-1zM55 531h1v2h-1zM56 530h1v1h-1zM57 529h1v1h-1zM58 530h1v1h-1zM59 530h1v1h-1zM60 531h1v1h-1zM61 531h1v1h-1zM62 531h1v1h-1zM63 530h1v1h-1zM64 530h1v1h-1zM65 530h1v1h-1zM66 529h1v1h-1zM67 528h1v1h-1zM68 528h1v1h-1zM69 527h1v1h-1zM70 527h1v1h-1zM71 526h1v1h-1zM72 526h1v1h-1zM73 526h1v2h-1zM74 528h1v2h-1zM75 530h1v2h-1zM76 532h1v2h-1zM77 534h1v2h-1zM78 535h1v1h-1zM79 536h1v1h-1zM80 536h1v1h-1zM81 536h1v1h-1zM82 537h1v1h-1zM83 537h1v1h-1zM84 538h1v1h-1zM85 538h1v1h-1zM86 539h1v1h-1zM87 540h1v2h-1zM88 542h1v1h-1zM89 543h1v1h-1zM90 544h1v1h-1zM91 545h1v1h-1zM92 546h1v1h-1zM93 547h1v1h-1zM94 547h1v1h-1zM95 548h1v1h-1zM96 548h1v1h-1zM97 548h1v1h-1zM98 548h1v1h-1zM99 549h1v1h-1zM100 549h1v1h-1zM101 549h1v1h-1zM102 548h1v1h-1zM103 547h1v1h-1zM104 547h1v1h-1zM105 546h1v1h-1zM106 546h1v1h-1zM107 546h1v1h-1zM108 546h1v1h-1zM109 545h1v2h-1zM110 543h1v2h-1zM111 541h1v2h-1zM112 539h1v2h-1zM113 537h1v2h-1zM114 537h1v1h-1zM115 536h1v1h-1zM116 536h1v1h-1zM117 536h1v1h-1zM118 536h1v1h-1zM119 535h1v1h-1zM120 535h1v1h-1zM121 535h1v1h-1zM122 533h1v2h-1zM123 532h1v1h-1zM124 530h1v2h-1zM125 529h1v1h-1zM126 529h1v1h-1zM127 528h1v1h-1zM128 528h1v1h-1zM129 528h1v1h-1zM130 527h1v1h-1zM131 527h1v1h-1zM132 526h1v1h-1zM133 526h1v1h-1zM134 525h1v1h-1zM135 525h1v1h-1zM136 524h1v1h-1zM137 524h1v1h-1zM138 524h1v1h-1zM139 523h1v1h-1zM140 523h1v1h-1zM141 523h1v1h-1zM142 522h1v1h-1zM143 522h1v1h-1zM144 521h1v1h-1zM145 521h1v2h-1zM146 523h1v3h-1zM147 526h1v4h-1zM148 530h1v3h-1zM149 533h1v2h-1zM150 533h1v1h-1zM151 532h1v1h-1zM152 531h1v1h-1zM153 530h1v1h-1zM154 529h1v1h-1zM155 528h1v1h-1zM156 527h1v1h-1zM157 526h1v1h-1zM158 526h1v1h-1zM159 525h1v1h-1zM160 525h1v1h-1zM161 525h1v2h-1zM162 527h1v2h-1zM163 529h1v3h-1zM164 532h1v2h-1zM165 534h1v2h-1zM166 534h1v1h-1zM167 534h1v1h-1zM168 533h1v1h-1zM169 533h1v1h-1zM170 534h1v1h-1zM171 534h1v1h-1zM172 535h1v1h-1zM173 535h1v1h-1zM174 536h1v1h-1zM175 537h1v2h-1zM176 539h1v1h-1zM177 540h1v1h-1zM178 539h1v1h-1zM179 537h1v2h-1zM180 536h1v1h-1zM181 535h1v1h-1zM182 534h1v1h-1zM183 534h1v1h-1zM184 533h1v1h-1zM185 533h1v1h-1zM186 532h1v1h-1zM187 531h1v1h-1zM188 530h1v1h-1zM189 529h1v1h-1zM190 529h1v1h-1zM191 529h1v1h-1zM192 529h1v1h-1zM193 529h1v1h-1zM194 529h1v1h-1zM195 528h1v1h-1zM196 528h1v1h-1zM197 528h1v1h-1zM198 529h1v1h-1zM199 529h1v1h-1zM200 530h1v1h-1zM201 530h1v1h-1zM202 530h1v1h-1zM203 530h1v1h-1zM204 530h1v1h-1zM205 530h1v1h-1zM206 528h1v2h-1zM207 526h1v2h-1zM208 524h1v2h-1zM209 523h1v1h-1zM210 524h1v1h-1zM211 525h1v2h-1zM212 527h1v1h-1zM213 528h1v1h-1zM214 528h1v1h-1zM215 528h1v1h-1zM216 528h1v1h-1zM217 528h1v1h-1zM218 528h1v1h-1zM219 528h1v1h-1zM220 528h1v1h-1zM221 528h1v1h-1zM222 529h1v2h-1zM223 531h1v2h-1zM224 533h1v2h-1zM225 535h1v1h-1zM226 536h1v1h-1zM227 537h1v1h-1zM228 537h1v1h-1zM229 538h1v1h-1zM230 539h1v1h-1zM231 540h1v1h-1zM232 540h1v1h-1zM233 541h1v1h-1zM234 542h1v1h-1zM235 543h1v2h-1zM236 545h1v1h-1zM237 546h1v1h-1zM238 546h1v1h-1zM239 546h1v1h-1zM240 546h1v1h-1zM241 546h1v1h-1zM242 546h1v1h-1zM243 546h1v1h-1zM244 546h1v1h-1zM245 546h1v1h-1zM246 547h1v1h-1zM247 548h1v1h-1zM248 548h1v1h-1zM249 549h1v1h-1zM250 548h1v1h-1zM251 547h1v1h-1zM252 547h1v1h-1zM253 546h1v1h-1zM254 547h1v1h-1zM255 548h1v1h-1zM256 548h1v1h-1zM257 549h1v1h-1zM258 550h1v1h-1zM259 551h1v1h-1zM260 552h1v1h-1zM261 553h1v1h-1zM262 553h1v1h-1zM263 554h1v1h-1zM264 554h1v1h-1zM265 554h1v1h-1zM266 554h1v1h-1zM267 555h1v1h-1zM268 555h1v1h-1zM269 555h1v1h-1zM270 555h1v1h-1zM271 556h1v1h-1zM272 556h1v1h-1zM273 556h1v1h-1zM274 556h1v1h-1zM275 557h1v1h-1zM276 557h1v1h-1zM277 556h1v2h-1zM278 553h1v3h-1zM279 551h1v2h-1zM280 548h1v3h-1zM281 546h1v2h-1zM282 546h1v1h-1zM283 547h1v1h-1zM284 547h1v1h-1zM285 547h1v1h-1zM286 547h1v1h-1zM287 548h1v1h-1zM288 548h1v1h-1zM289 548h1v1h-1zM290 549h1v1h-1zM291 550h1v1h-1zM292 550h1v1h-1zM293 551h1v1h-1zM294 549h1v2h-1zM295 547h1v2h-1zM296 545h1v2h-1zM297 544h1v1h-1zM298 545h1v1h-1zM299 546h1v2h-1zM300 548h1v1h-1zM301 549h1v1h-1zM302 547h1v2h-1zM303 546h1v1h-1zM304 544h1v2h-1zM305 543h1v1h-1zM306 543h1v1h-1zM307 543h1v1h-1zM308 543h1v1h-1zM309 543h1v1h-1zM310 543h1v1h-1zM311 543h1v1h-1zM312 543h1v1h-1zM313 543h1v1h-1zM314 543h1v1h-1zM315 544h1v1h-1zM316 544h1v1h-1zM317 544h1v1h-1zM318 544h1v1h-1zM319 543h1v1h-1zM320 543h1v1h-1zM321 543h1v1h-1zM322 542h1v1h-1zM323 542h1v1h-1zM324 541h1v1h-1zM325 541h1v1h-1zM326 542h1v1h-1zM327 543h1v1h-1zM328 543h1v1h-1zM329 544h1v1h-1zM330 544h1v1h-1zM331 545h1v1h-1zM332 545h1v1h-1zM333 545h1v1h-1zM334 545h1v1h-1zM335 544h1v1h-1zM336 544h1v1h-1zM337 544h1v1h-1zM338 543h1v1h-1zM339 542h1v1h-1zM340 541h1v1h-1zM341 540h1v1h-1zM342 541h1v1h-1zM343 541h1v1h-1zM344 542h1v1h-1zM345 542h1v1h-1zM346 543h1v1h-1zM347 543h1v1h-1zM348 544h1v1h-1zM349 544h1v1h-1zM350 544h1v1h-1zM351 545h1v1h-1zM352 545h1v1h-1zM353 545h1v1h-1zM354 545h1v1h-1zM355 546h1v1h-1zM356 546h1v1h-1zM357 546h1v1h-1zM358 546h1v1h-1zM359 546h1v1h-1zM360 546h1v1h-1zM361 546h1v1h-1zM362 546h1v1h-1zM363 547h1v1h-1zM364 547h1v1h-1zM365 547h1v1h-1zM366 545h1v2h-1zM367 543h1v2h-1zM368 541h1v2h-1zM369 539h1v2h-1zM370 537h1v2h-1zM371 536h1v1h-1zM372 534h1v2h-1zM373 533h1v1h-1zM374 532h1v1h-1zM375 531h1v1h-1zM376 531h1v1h-1zM377 530h1v1h-1zM378 529h1v1h-1zM379 527h1v2h-1zM380 526h1v1h-1zM381 525h1v1h-1zM382 526h1v1h-1zM383 526h1v1h-1zM384 527h1v1h-1zM385 527h1v1h-1zM386 526h1v1h-1zM387 525h1v1h-1zM388 525h1v1h-1zM389 524h1v1h-1zM390 524h1v1h-1zM391 525h1v1h-1zM392 525h1v1h-1zM393 525h1v1h-1zM394 526h1v1h-1zM395 526h1v1h-1zM396 527h1v1h-1zM397 527h1v1h-1zM398 526h1v1h-1zM399 526h1v1h-1zM400 525h1v1h-1zM401 525h1v1h-1zM402 524h1v1h-1zM403 524h1v1h-1zM404 523h1v1h-1zM405 523h1v1h-1zM406 524h1v1h-1zM407 524h1v1h-1zM408 525h1v1h-1zM409 525h1v1h-1zM410 526h1v1h-1zM411 527h1v1h-1zM412 527h1v1h-1zM413 528h1v1h-1zM414 529h1v1h-1zM415 529h1v1h-1zM416 530h1v1h-1zM417 530h1v1h-1zM418 531h1v1h-1zM419 532h1v1h-1zM420 532h1v1h-1zM421 533h1v1h-1zM422 534h1v2h-1zM423 536h1v2h-1zM424 538h1v2h-1zM425 540h1v1h-1zM426 541h1v1h-1zM427 542h1v1h-1zM428 542h1v1h-1zM429 543h1v1h-1zM430 543h1v1h-1zM431 544h1v1h-1zM432 544h1v1h-1zM433 544h1v1h-1zM434 544h1v1h-1zM435 543h1v1h-1zM436 543h1v1h-1zM437 543h1v1h-1zM438 542h1v1h-1zM439 541h1v1h-1zM440 540h1v1h-1zM441 539h1v1h-1zM442 540h1v2h-1zM443 542h1v1h-1zM444 543h1v2h-1zM445 545h1v1h-1zM446 545h1v1h-1zM447 544h1v1h-1zM448 544h1v1h-1zM449 544h1v1h-1zM450 543h1v1h-1zM451 543h1v1h-1zM452 542h1v1h-1zM453 542h1v1h-1zM454 542h1v1h-1zM455 542h1v1h-1zM456 542h1v1h-1zM457 542h1v1h-1zM458 543h1v1h-1zM459 543h1v1h-1zM460 544h1v1h-1zM461 544h1v1h-1zM462 545h1v1h-1zM463 546h1v2h-1zM464 548h1v1h-1zM465 549h1v1h-1zM466 549h1v1h-1zM467 550h1v1h-1zM468 550h1v1h-1zM469 549h1v2h-1zM470 546h1v3h-1zM471 544h1v2h-1zM472 541h1v3h-1zM473 539h1v2h-1zM474 538h1v1h-1zM475 538h1v1h-1zM476 537h1v1h-1zM477 537h1v1h-1zM478 537h1v1h-1zM479 536h1v1h-1zM480 536h1v1h-1zM481 536h1v1h-1zM482 537h1v1h-1zM483 538h1v1h-1zM484 539h1v1h-1zM485 540h1v1h-1zM486 541h1v1h-1zM487 541h1v1h-1zM488 542h1v1h-1zM489 542h1v1h-1zM490 542h1v1h-1zM491 542h1v1h-1zM492 542h1v1h-1zM493 542h1v1h-1zM494 540h1v2h-1zM495 538h1v2h-1zM496 536h1v2h-1zM497 535h1v1h-1zM498 534h1v1h-1zM499 532h1v2h-1zM500 531h1v1h-1zM501 530h1v1h-1zM502 530h1v1h-1zM503 531h1v1h-1zM504 531h1v1h-1zM505 531h1v1h-1zM506 532h1v1h-1zM507 533h1v2h-1zM508 535h1v1h-1zM509 536h1v1h-1zM510 536h1v1h-1zM511 537h1v1h-1zM512 537h1v1h-1zM513 537h1v1h-1zM514 537h1v1h-1zM515 537h1v1h-1zM516 537h1v1h-1zM517 536h1v2h-1zM518 534h1v2h-1zM519 532h1v2h-1zM520 530h1v2h-1zM521 528h1v2h-1zM522 527h1v1h-1zM523 527h1v1h-1zM524 526h1v1h-1zM525 526h1v1h-1zM526 526h1v1h-1zM527 525h1v1h-1zM528 525h1v1h-1zM529 525h1v1h-1zM530 524h1v1h-1zM531 524h1v1h-1zM532 523h1v1h-1zM533 523h1v1h-1zM534 523h1v1h-1zM535 524h1v1h-1zM536 524h1v1h-1zM537 524h1v1h-1zM538 525h1v1h-1zM539 526h1v1h-1zM540 526h1v1h-1zM541 527h1v1h-1zM542 528h1v1h-1zM543 529h1v2h-1zM544 531h1v1h-1zM545 532h1v1h-1zM546 532h1v1h-1zM547 531h1v1h-1zM548 531h1v1h-1zM549 531h1v1h-1zM550 531h1v1h-1zM551 532h1v1h-1zM552 532h1v1h-1zM553 532h1v1h-1zM554 531h1v1h-1zM555 531h1v1h-1zM556 530h1v1h-1zM557 530h1v1h-1zM558 529h1v1h-1zM559 528h1v1h-1zM560 528h1v1h-1zM561 527h1v1h-1zM562 526h1v1h-1zM563 526h1v1h-1zM564 525h1v1h-1zM565 525h1v1h-1zM566 524h1v1h-1zM567 524h1v1h-1zM568 523h1v1h-1zM569 523h1v1h-1zM570 522h1v1h-1zM571 522h1v1h-1zM572 521h1v1h-1zM573 521h1v1h-1zM574 521h1v1h-1zM575 522h1v1h-1zM576 522h1v1h-1zM577 522h1v1h-1zM578 522h1v1h-1zM579 523h1v1h-1zM580 523h1v1h-1zM581 523h1v1h-1zM582 524h1v1h-1zM583 524h1v1h-1zM584 525h1v1h-1zM585 525h1v1h-1zM586 525h1v1h-1zM587 526h1v1h-1zM588 526h1v1h-1zM589 526h1v1h-1zM590 526h1v1h-1zM591 527h1v1h-1zM592 527h1v1h-1zM593 527h1v1h-1zM594 528h1v2h-1zM595 530h1v1h-1zM596 531h1v2h-1zM597 533h1v1h-1zM598 533h1v1h-1zM599 534h1v1h-1zM600 534h1v1h-1zM601 534h1v1h-1zM602 534h1v1h-1zM603 535h1v1h-1zM604 535h1v1h-1zM605 535h1v1h-1zM606 536h1v1h-1zM607 536h1v1h-1zM608 537h1v1h-1zM609 537h1v1h-1zM610 537h1v1h-1zM611 538h1v1h-1zM612 538h1v1h-1zM613 538h1v2h-1zM614 540h1v2h-1zM615 542h1v3h-1zM616 545h1v2h-1zM617 547h1v2h-1zM618 546h1v2h-1zM619 544h1v2h-1zM620 542h1v2h-1zM621 540h1v2h-1zM622 540h1v1h-1zM623 539h1v1h-1zM624 539h1v1h-1zM625 539h1v1h-1zM626 539h1v1h-1zM627 539h1v1h-1zM628 539h1v1h-1zM629 539h1v1h-1zM630 538h1v1h-1zM631 538h1v1h-1zM632 537h1v1h-1zM633 537h1v1h-1zM634 538h1v1h-1zM635 539h1v1h-1zM636 540h1v1h-1zM637 541h1v1h-1zM638 541h1v1h-1zM639 542h1v1h-1zM640 542h1v1h-1zM641 542h1v1h-1zM642 543h1v1h-1zM643 543h1v1h-1zM644 544h1v1h-1zM645 544h1v1h-1zM646 544h1v1h-1zM647 544h1v1h-1zM648 544h1v1h-1zM649 544h1v1h-1zM650 545h1v1h-1zM651 545h1v1h-1zM652 546h1v1h-1zM653 546h1v1h-1zM654 545h1v1h-1zM655 544h1v1h-1zM656 544h1v1h-1zM657 543h1v1h-1zM658 543h1v1h-1zM659 543h1v1h-1zM660 543h1v1h-1zM661 543h1v1h-1zM662 544h1v1h-1zM663 545h1v1h-1zM664 545h1v1h-1zM665 546h1v1h-1zM666 546h1v1h-1zM667 546h1v1h-1zM668 546h1v1h-1zM669 546h1v1h-1zM670 546h1v1h-1zM671 547h1v1h-1zM672 547h1v1h-1zM673 546h1v2h-1zM674 542h1v4h-1zM675 539h1v3h-1zM676 535h1v4h-1zM677 533h1v2h-1zM678 532h1v1h-1zM679 531h1v1h-1zM680 530h1v1h-1zM681 529h1v1h-1zM682 528h1v1h-1zM683 527h1v1h-1zM684 527h1v1h-1zM685 526h1v1h-1zM686 527h1v2h-1zM687 529h1v1h-1zM688 530h1v2h-1zM689 532h1v1h-1zM690 532h1v1h-1zM691 531h1v1h-1zM692 531h1v1h-1zM693 531h1v1h-1zM694 531h1v1h-1zM695 530h1v1h-1zM696 530h1v1h-1zM697 530h1v1h-1zM698 531h1v1h-1zM699 532h1v1h-1zM700 532h1v1h-1zM701 533h1v1h-1zM702 534h1v1h-1zM703 535h1v1h-1zM704 535h1v1h-1zM705 536h1v1h-1zM706 534h1v2h-1zM707 532h1v2h-1zM708 530h1v2h-1zM709 528h1v2h-1zM710 526h1v2h-1zM711 525h1v1h-1zM712 523h1v2h-1zM713 522h1v1h-1zM714 523h1v2h-1zM715 525h1v1h-1zM716 526h1v2h-1zM717 528h1v1h-1zM718 528h1v1h-1zM719 528h1v1h-1zM720 528h1v1h-1zM721 528h1v1h-1zM722 527h1v1h-1zM723 526h1v1h-1zM724 526h1v1h-1zM725 525h1v1h-1zM726 526h1v2h-1zM727 528h1v2h-1zM728 530h1v2h-1zM729 532h1v1h-1zM730 532h1v1h-1zM731 531h1v1h-1zM732 531h1v1h-1zM733 531h1v1h-1zM734 530h1v1h-1zM735 530h1v1h-1zM736 529h1v1h-1zM737 529h1v1h-1zM738 528h1v1h-1zM739 527h1v1h-1zM740 527h1v1h-1zM741 526h1v1h-1zM742 526h1v1h-1zM743 527h1v1h-1zM744 527h1v1h-1zM745 527h1v1h-1zM746 526h1v1h-1zM747 526h1v1h-1zM748 525h1v1h-1zM749 525h1v1h-1zM750 524h1v1h-1zM751 524h1v1h-1zM752 523h1v1h-1zM753 523h1v1h-1zM754 524h1v1h-1zM755 524h1v1h-1zM756 525h1v1h-1zM757 525h1v1h-1zM758 524h1v1h-1zM759 523h1v1h-1zM760 523h1v1h-1zM761 522h1v1h-1zM762 521h1v1h-1zM763 520h1v1h-1zM764 519h1v1h-1zM765 518h1v1h-1zM766 518h1v1h-1zM767 519h1v1h-1zM768 519h1v1h-1zM769 519h1v1h-1zM770 519h1v1h-1zM771 518h1v1h-1zM772 518h1v1h-1zM773 518h1v1h-1zM774 517h1v1h-1zM775 516h1v1h-1zM776 516h1v1h-1zM777 515h1v1h-1zM778 516h1v1h-1zM779 517h1v1h-1zM780 517h1v1h-1zM781 518h1v1h-1zM782 519h1v1h-1zM783 520h1v1h-1zM784 520h1v1h-1zM785 521h1v1h-1zM786 522h1v2h-1zM787 524h1v2h-1zM788 526h1v2h-1zM789 528h1v2h-1zM790 529h1v1h-1zM791 529h1v1h-1zM792 529h1v1h-1zM793 529h1v1h-1zM794 530h1v1h-1zM795 531h1v1h-1zM796 532h1v1h-1zM797 533h1v2h-1zM798 535h1v2h-1zM799 537h1v2h-1zM800 539h1v2h-1zM801 541h1v2h-1zM802 542h1v1h-1zM803 543h1v1h-1zM804 543h1v1h-1zM805 543h1v1h-1zM806 543h1v1h-1zM807 544h1v1h-1zM808 544h1v1h-1zM809 543h1v2h-1zM810 541h1v2h-1zM811 539h1v2h-1zM812 537h1v2h-1zM813 535h1v2h-1zM814 535h1v1h-1zM815 535h1v1h-1zM816 535h1v1h-1zM817 535h1v1h-1zM818 535h1v1h-1zM819 536h1v1h-1zM820 536h1v1h-1zM821 536h1v1h-1zM822 536h1v1h-1zM823 536h1v1h-1zM824 536h1v1h-1zM825 536h1v1h-1zM826 536h1v1h-1zM827 536h1v1h-1zM828 536h1v1h-1zM829 536h1v1h-1zM830 536h1v1h-1zM831 537h1v1h-1zM832 537h1v1h-1zM833 537h1v1h-1zM834 538h1v1h-1zM835 539h1v1h-1zM836 539h1v1h-1zM837 540h1v1h-1zM838 540h1v1h-1zM839 540h1v1h-1zM840 540h1v1h-1zM841 540h1v1h-1zM842 541h1v1h-1zM843 541h1v1h-1zM844 542h1v1h-1zM845 542h1v1h-1zM846 542h1v1h-1zM847 543h1v1h-1zM848 543h1v1h-1zM849 543h1v1h-1zM850 544h1v1h-1zM851 545h1v1h-1zM852 545h1v1h-1zM853 546h1v1h-1zM854 545h1v1h-1zM855 545h1v1h-1zM856 544h1v1h-1zM857 544h1v1h-1zM858 545h1v1h-1zM859 546h1v1h-1zM860 546h1v1h-1zM861 547h1v1h-1zM862 547h1v1h-1zM863 547h1v1h-1zM864 547h1v1h-1zM865 547h1v1h-1zM866 548h1v2h-1zM867 550h1v2h-1zM868 552h1v2h-1zM869 554h1v1h-1zM870 554h1v1h-1zM871 555h1v1h-1zM872 555h1v1h-1zM873 555h1v1h-1zM874 555h1v1h-1zM875 556h1v1h-1zM876 556h1v1h-1zM877 556h1v1h-1zM878 557h1v1h-1zM879 558h1v1h-1zM880 558h1v1h-1zM881 559h1v1h-1zM882 559h1v1h-1zM883 559h1v1h-1zM884 559h1v1h-1zM885 559h1v1h-1zM886 559h1v1h-1zM887 559h1v1h-1zM888 559h1v1h-1zM889 559h1v1h-1zM890 559h1v1h-1zM891 559h1v1h-1zM892 559h1v1h-1zM893 558h1v2h-1zM894 556h1v2h-1zM895 554h1v2h-1zM896 552h1v2h-1zM897 550h1v2h-1zM898 549h1v1h-1zM899 548h1v1h-1zM900 547h1v1h-1zM901 546h1v1h-1zM902 546h1v1h-1zM903 547h1v1h-1zM904 547h1v1h-1zM905 547h1v1h-1zM906 548h1v1h-1zM907 549h1v2h-1zM908 551h1v1h-1zM909 552h1v1h-1zM910 552h1v1h-1zM911 553h1v1h-1zM912 553h1v1h-1zM913 553h1v1h-1zM914 553h1v1h-1zM915 553h1v1h-1zM916 553h1v1h-1zM917 552h1v2h-1zM918 550h1v2h-1zM919 547h1v3h-1zM920 545h1v2h-1zM921 543h1v2h-1zM922 542h1v1h-1zM923 542h1v1h-1zM924 541h1v1h-1zM925 541h1v1h-1z" fill="#1e90ff"/></g>
  <!-- chart boxes -->
  <g fill="none" stroke="#000" stroke-width="1" shape-rendering="crispEdges">
    <rect x="4.5" y="23.5" width="1163" height="397"/>
    <rect x="4.5" y="423.5" width="1163" height="67"/>
    <rect x="4.5" y="493.5" width="1163" height="83"/>
  </g>
  <!-- price axis ticks + labels -->
  <g id="axis" fill="#000"><rect x="1168" y="54" width="2" height="1"/>
<text x="1173" y="58" class="n">0.70690</text>
<rect x="1168" y="120" width="2" height="1"/>
<text x="1173" y="124" class="n">0.69930</text>
<rect x="1168" y="153" width="2" height="1"/>
<text x="1173" y="157" class="n">0.69560</text>
<rect x="1168" y="186" width="2" height="1"/>
<text x="1173" y="190" class="n">0.69180</text>
<rect x="1168" y="219" width="2" height="1"/>
<text x="1173" y="223" class="n">0.68800</text>
<rect x="1168" y="285" width="2" height="1"/>
<text x="1173" y="289" class="n">0.68040</text>
<rect x="1168" y="318" width="2" height="1"/>
<text x="1173" y="322" class="n">0.67660</text>
<rect x="1168" y="351" width="2" height="1"/>
<rect x="1168" y="384" width="2" height="1"/>
<text x="1173" y="388" class="n">0.66910</text>
<rect x="1168" y="417" width="2" height="1"/>
<text x="1173" y="421" class="n">0.66530</text>
<rect x="1169" y="82" width="39" height="11" fill="#ff0000"/>
<text x="1173" y="92" fill="#fff" style="stroke:#fff" class="n">0.70304</text>
<rect x="1169" y="165" width="39" height="11" fill="#ff0000"/>
<text x="1173" y="175" fill="#fff" style="stroke:#fff" class="n">0.69353</text>
<rect x="1169" y="247" width="39" height="11" fill="#00ff00"/>
<text x="1173" y="257" fill="#fff" style="stroke:#fff" class="n">0.68413</text>
<rect x="1169" y="322" width="39" height="11" fill="#0000ff"/>
<text x="1173" y="332" fill="#fff" style="stroke:#fff" class="n">0.67552</text>
<rect x="1169" y="345" width="39" height="11" fill="#000000"/>
<text x="1173" y="355" fill="#fff" style="stroke:#fff" class="n">0.67296</text>
<rect x="1169" y="396" width="39" height="11" fill="#0000ff"/>
<text x="1173" y="406" fill="#fff" style="stroke:#fff" class="n">0.66702</text>
<rect x="1168" y="424" width="1" height="1"/>
<text x="1170.6" y="434">0.005076</text>
<rect x="1168" y="453" width="1" height="1"/>
<text x="1170.6" y="457">0.00</text>
<rect x="1168" y="489" width="1" height="1"/>
<text x="1170.6" y="488">-0.006148</text>
<rect x="1168" y="494" width="1" height="1"/>
<text x="1170.6" y="503">100</text>
<text x="1170.6" y="522">70</text>
<text x="1170.6" y="555">30</text>
<text x="1170.6" y="573">0</text>
<rect x="5" y="577" width="1" height="3"/>
<text x="4" y="589">20 May 2019</text>
<rect x="69" y="577" width="1" height="3"/>
<text x="68" y="589">7 Jun 2019</text>
<rect x="133" y="577" width="1" height="3"/>
<text x="132" y="589">26 Jun 2019</text>
<rect x="197" y="577" width="1" height="3"/>
<text x="196" y="589">15 Jul 2019</text>
<rect x="261" y="577" width="1" height="3"/>
<text x="260" y="589">2 Aug 2019</text>
<rect x="325" y="577" width="1" height="3"/>
<text x="324" y="589">21 Aug 2019</text>
<rect x="389" y="577" width="1" height="3"/>
<text x="388" y="589">9 Sep 2019</text>
<rect x="453" y="577" width="1" height="3"/>
<text x="452" y="589">27 Sep 2019</text>
<rect x="517" y="577" width="1" height="3"/>
<text x="516" y="589">16 Oct 2019</text>
<rect x="581" y="577" width="1" height="3"/>
<text x="580" y="589">4 Nov 2019</text>
<rect x="645" y="577" width="1" height="3"/>
<text x="644" y="589">22 Nov 2019</text>
<rect x="709" y="577" width="1" height="3"/>
<text x="708" y="589">11 Dec 2019</text>
<rect x="773" y="577" width="1" height="3"/>
<text x="772" y="589">30 Dec 2019</text>
<rect x="837" y="577" width="1" height="3"/>
<text x="836" y="589">17 Jan 2020</text>
<rect x="901" y="577" width="1" height="3"/>
<text x="900" y="589">5 Feb 2020</text></g>
  <!-- header text -->
  <path d="M8 34 L11.5 30 L15 34 Z" fill="#000"/>
  <text x="20" y="35" class="lib">AUDUSD,Daily</text><text x="92" y="35" class="n">0.67205 0.67328 0.67072 0.67296</text>
  <text x="9" y="435">MACD(12,26,9) -0.004247 -0.004883</text>
  <text x="9" y="505">RSI(14) 41.8779</text>
</svg>

<!-- trade panel -->
<div id="panel">
  <div class="abs" style="left:6px;top:41px;width:223px;height:68px;background:#fff;"></div>
  <!-- SELL button -->
  <div class="abs" style="left:8px;top:43px;width:50px;height:24px;border:1px solid #b00000;border-bottom:0;background:linear-gradient(#f65454,#e23c3c);"></div>
  <div class="btn sb" style="left:8px;top:48px;width:52px;">SELL</div>
  <!-- BUY button -->
  <div class="abs" style="left:175px;top:43px;width:50px;height:24px;border:1px solid #b00000;border-bottom:0;background:linear-gradient(#f65454,#e23c3c);"></div>
  <div class="btn sb" style="left:175px;top:48px;width:52px;">BUY</div>
  <!-- lot box -->
  <div class="abs" style="left:62px;top:43px;width:109px;height:20px;border:1px solid #aeb1b5;background:#fff;"></div>
  <div class="abs" style="left:64px;top:45px;width:18px;height:18px;background:linear-gradient(#f2f2f2 0%,#ececec 33%,#dadada 34%,#d6d6d6 100%);"></div>
  <div class="abs" style="left:83px;top:44px;width:1px;height:20px;background:#aeb1b5;"></div>
  <div class="abs" style="left:151px;top:44px;width:1px;height:20px;background:#aeb1b5;"></div>
  <div class="abs" style="left:153px;top:45px;width:18px;height:18px;background:linear-gradient(#f2f2f2 0%,#ececec 33%,#dadada 34%,#d6d6d6 100%);"></div>
  <svg class="abs" style="left:0;top:0" width="240" height="70"><path d="M70 52 L75.5 52 L72.75 55 Z" fill="#4358c0"/><path d="M158.5 55 L164 55 L161.25 52 Z" fill="#4358c0"/></svg>
  <div class="abs" style="left:84px;top:47px;width:64px;text-align:right;font-size:12px;line-height:14px;font-family:'Liberation Sans',sans-serif;color:#000;letter-spacing:-0.3px;">5.00</div>
  <!-- price boxes -->
  <div class="abs" style="left:8px;top:67px;width:107px;height:39px;border:1px solid #a80000;border-top:0;background:linear-gradient(#de3434,#b00000);"></div>
  <div class="abs" style="left:119px;top:67px;width:106px;height:39px;border:1px solid #a80000;border-top:0;background:linear-gradient(#de3434,#b00000);"></div>
  <div class="abs" style="left:59px;top:67px;width:58px;height:1px;background:#b00000;"></div>
  <div class="abs" style="left:119px;top:67px;width:57px;height:1px;background:#b00000;"></div>
  <div class="abs" style="left:12px;top:66px;width:44px;height:1px;background:#8c0000;"></div>
  <div class="abs" style="left:12px;top:67px;width:44px;height:1px;background:#f47070;"></div>
  <div class="abs" style="left:179px;top:66px;width:44px;height:1px;background:#8c0000;"></div>
  <div class="abs" style="left:179px;top:67px;width:44px;height:1px;background:#f47070;"></div>
  <div class="btn" style="left:28px;top:87px;font-size:12px;font-weight:bold;line-height:14px;">0.67</div>
  <div class="btn big" style="left:56px;top:71px;">29</div>
  <div class="btn" style="left:95px;top:72px;font-size:11px;font-weight:bold;line-height:12px;">6</div>
  <div class="btn" style="left:139px;top:87px;font-size:12px;font-weight:bold;line-height:14px;">0.67</div>
  <div class="btn big" style="left:166px;top:71px;">31</div>
  <div class="btn" style="left:206px;top:72px;font-size:11px;font-weight:bold;line-height:12px;">5</div>
</div>

<!-- tab bar -->
<div id="tabs">
  <div class="abs" style="left:0;top:599px;width:1208px;height:1px;background:#000;"></div>
  <div class="abs" style="left:0;top:600px;width:1px;height:18px;background:#a0a0a0;"></div>
  <div class="abs" style="left:110px;top:599px;width:104px;height:19px;background:#fff;border-left:1px solid #000;border-right:1px solid #000;border-bottom:1px solid #000;box-sizing:border-box;"></div>
  <div class="abs" style="left:0;top:618px;width:1208px;height:6px;background:#f0f0f0;"></div>
  <div class="abs" style="left:0;top:619px;width:1208px;height:1px;background:#fbfbfb;"></div>
  <div class="abs" style="left:0;top:622px;width:1208px;height:1px;background:#cdcdcd;"></div>
  <div class="abs" style="left:0;top:623px;width:1208px;height:1px;background:#a0a0a0;"></div>
  <span style="left:19px">EURUSD,Daily</span>
  <span style="left:121px;color:#000">AUDUSD,Daily</span>
  <span style="left:224px">USDCHF,Daily</span>
  <span style="left:325px">USDCAD,Daily</span>
  <span style="left:428px">USDCNH,Daily</span>
  <span style="left:533px">XAUUSD,Daily</span>
  <span style="left:636px">DJ30,H4</span>
  <span style="left:706px">USDOil,Daily</span>
  <span style="left:800px">USDCHF,Daily</span>
  <span style="left:902px">GBPUSD,Daily</span>
  <span style="left:1006px">EURUSD,H1</span>
  <span style="left:1097px">GBPAUD,H1</span>
  <div class="abs" style="left:314px;top:603px;width:1px;height:12px;background:#808080;"></div>
  <div class="abs" style="left:418px;top:603px;width:1px;height:12px;background:#808080;"></div>
  <div class="abs" style="left:522px;top:603px;width:1px;height:12px;background:#808080;"></div>
  <div class="abs" style="left:626px;top:603px;width:1px;height:12px;background:#808080;"></div>
  <div class="abs" style="left:695px;top:603px;width:1px;height:12px;background:#808080;"></div>
  <div class="abs" style="left:790px;top:603px;width:1px;height:12px;background:#808080;"></div>
  <div class="abs" style="left:890px;top:603px;width:1px;height:12px;background:#808080;"></div>
  <div class="abs" style="left:994px;top:603px;width:1px;height:12px;background:#808080;"></div>
  <div class="abs" style="left:1086px;top:603px;width:1px;height:12px;background:#808080;"></div>
  <svg class="abs" style="left:1176px;top:600px" width="32" height="18"><path d="M10 4 L6 8 L10 12 Z" fill="#a0a0a0"/><path d="M26 4 L30 8 L26 12 Z" fill="#000"/></svg>
</div>
</body></html>
